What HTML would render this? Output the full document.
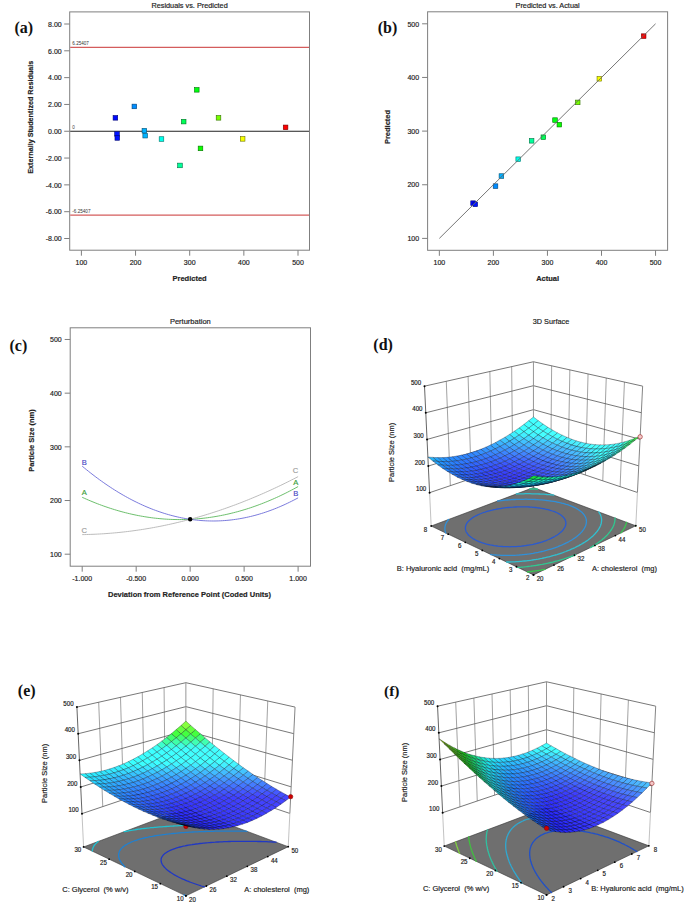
<!DOCTYPE html>
<html><head><meta charset="utf-8"><style>
html,body{margin:0;padding:0;background:#fff;}
body{width:685px;height:904px;overflow:hidden;font-family:"Liberation Sans",sans-serif;}
svg{display:block;}
</style></head><body>
<svg width="685" height="904" viewBox="0 0 685 904">
<rect width="685" height="904" fill="#fff"/>
<text x="189.60" y="8.20" font-size="7.3" text-anchor="middle" fill="#222" font-family="Liberation Sans" stroke="#222" stroke-width="0.18">Residuals vs. Predicted</text>
<rect x="69.70" y="11.90" width="239.80" height="238.30" fill="none" stroke="#7f7f7f" stroke-width="1"/>
<line x1="64.20" y1="24.00" x2="69.70" y2="24.00" stroke="#7f7f7f" stroke-width="1"/>
<text x="61.70" y="26.70" font-size="7.6" text-anchor="end" fill="#1a1a1a" font-family="Liberation Sans" stroke="#1a1a1a" stroke-width="0.18" textLength="13.61" lengthAdjust="spacingAndGlyphs">8.00</text>
<line x1="64.20" y1="50.81" x2="69.70" y2="50.81" stroke="#7f7f7f" stroke-width="1"/>
<text x="61.70" y="53.51" font-size="7.6" text-anchor="end" fill="#1a1a1a" font-family="Liberation Sans" stroke="#1a1a1a" stroke-width="0.18" textLength="13.61" lengthAdjust="spacingAndGlyphs">6.00</text>
<line x1="64.20" y1="77.63" x2="69.70" y2="77.63" stroke="#7f7f7f" stroke-width="1"/>
<text x="61.70" y="80.33" font-size="7.6" text-anchor="end" fill="#1a1a1a" font-family="Liberation Sans" stroke="#1a1a1a" stroke-width="0.18" textLength="13.61" lengthAdjust="spacingAndGlyphs">4.00</text>
<line x1="64.20" y1="104.44" x2="69.70" y2="104.44" stroke="#7f7f7f" stroke-width="1"/>
<text x="61.70" y="107.14" font-size="7.6" text-anchor="end" fill="#1a1a1a" font-family="Liberation Sans" stroke="#1a1a1a" stroke-width="0.18" textLength="13.61" lengthAdjust="spacingAndGlyphs">2.00</text>
<line x1="64.20" y1="131.25" x2="69.70" y2="131.25" stroke="#7f7f7f" stroke-width="1"/>
<text x="61.70" y="133.95" font-size="7.6" text-anchor="end" fill="#1a1a1a" font-family="Liberation Sans" stroke="#1a1a1a" stroke-width="0.18" textLength="13.61" lengthAdjust="spacingAndGlyphs">0.00</text>
<line x1="64.20" y1="158.06" x2="69.70" y2="158.06" stroke="#7f7f7f" stroke-width="1"/>
<text x="61.70" y="160.76" font-size="7.6" text-anchor="end" fill="#1a1a1a" font-family="Liberation Sans" stroke="#1a1a1a" stroke-width="0.18" textLength="15.94" lengthAdjust="spacingAndGlyphs">-2.00</text>
<line x1="64.20" y1="184.87" x2="69.70" y2="184.87" stroke="#7f7f7f" stroke-width="1"/>
<text x="61.70" y="187.57" font-size="7.6" text-anchor="end" fill="#1a1a1a" font-family="Liberation Sans" stroke="#1a1a1a" stroke-width="0.18" textLength="15.94" lengthAdjust="spacingAndGlyphs">-4.00</text>
<line x1="64.20" y1="211.69" x2="69.70" y2="211.69" stroke="#7f7f7f" stroke-width="1"/>
<text x="61.70" y="214.39" font-size="7.6" text-anchor="end" fill="#1a1a1a" font-family="Liberation Sans" stroke="#1a1a1a" stroke-width="0.18" textLength="15.94" lengthAdjust="spacingAndGlyphs">-6.00</text>
<line x1="64.20" y1="238.50" x2="69.70" y2="238.50" stroke="#7f7f7f" stroke-width="1"/>
<text x="61.70" y="241.20" font-size="7.6" text-anchor="end" fill="#1a1a1a" font-family="Liberation Sans" stroke="#1a1a1a" stroke-width="0.18" textLength="15.94" lengthAdjust="spacingAndGlyphs">-8.00</text>
<line x1="81.40" y1="250.20" x2="81.40" y2="255.70" stroke="#7f7f7f" stroke-width="1"/>
<text x="81.40" y="265.10" font-size="7.6" text-anchor="middle" fill="#1a1a1a" font-family="Liberation Sans" stroke="#1a1a1a" stroke-width="0.18" textLength="11.67" lengthAdjust="spacingAndGlyphs">100</text>
<line x1="135.55" y1="250.20" x2="135.55" y2="255.70" stroke="#7f7f7f" stroke-width="1"/>
<text x="135.55" y="265.10" font-size="7.6" text-anchor="middle" fill="#1a1a1a" font-family="Liberation Sans" stroke="#1a1a1a" stroke-width="0.18" textLength="11.67" lengthAdjust="spacingAndGlyphs">200</text>
<line x1="189.70" y1="250.20" x2="189.70" y2="255.70" stroke="#7f7f7f" stroke-width="1"/>
<text x="189.70" y="265.10" font-size="7.6" text-anchor="middle" fill="#1a1a1a" font-family="Liberation Sans" stroke="#1a1a1a" stroke-width="0.18" textLength="11.67" lengthAdjust="spacingAndGlyphs">300</text>
<line x1="243.85" y1="250.20" x2="243.85" y2="255.70" stroke="#7f7f7f" stroke-width="1"/>
<text x="243.85" y="265.10" font-size="7.6" text-anchor="middle" fill="#1a1a1a" font-family="Liberation Sans" stroke="#1a1a1a" stroke-width="0.18" textLength="11.67" lengthAdjust="spacingAndGlyphs">400</text>
<line x1="298.00" y1="250.20" x2="298.00" y2="255.70" stroke="#7f7f7f" stroke-width="1"/>
<text x="298.00" y="265.10" font-size="7.6" text-anchor="middle" fill="#1a1a1a" font-family="Liberation Sans" stroke="#1a1a1a" stroke-width="0.18" textLength="11.67" lengthAdjust="spacingAndGlyphs">500</text>
<text x="189.60" y="281.00" font-size="7.5" text-anchor="middle" font-weight="bold" fill="#222" font-family="Liberation Sans" stroke="#222" stroke-width="0.18">Predicted</text>
<text x="33.50" y="117.20" font-size="7.2" text-anchor="middle" font-weight="bold" fill="#222" font-family="Liberation Sans" stroke="#222" stroke-width="0.18" transform="rotate(-90 33.50 117.20)">Externally Studentized Residuals</text>
<line x1="70.20" y1="47.41" x2="309.00" y2="47.41" stroke="#d45c5c" stroke-width="1.2"/>
<text x="72.30" y="45.11" font-size="4.6" text-anchor="start" fill="#333" font-family="Liberation Sans">6.25407</text>
<line x1="70.20" y1="215.09" x2="309.00" y2="215.09" stroke="#d45c5c" stroke-width="1.2"/>
<text x="72.30" y="212.79" font-size="4.6" text-anchor="start" fill="#333" font-family="Liberation Sans">-6.25407</text>
<line x1="70.20" y1="131.25" x2="309.00" y2="131.25" stroke="#222" stroke-width="1"/>
<text x="72.30" y="128.95" font-size="4.6" text-anchor="start" fill="#444" font-family="Liberation Sans">0</text>
<rect x="113.10" y="115.54" width="4.6" height="4.6" fill="#0009ff" stroke="#000472" stroke-width="0.6"/>
<rect x="114.71" y="131.63" width="4.6" height="4.6" fill="#0013ff" stroke="#000872" stroke-width="0.6"/>
<rect x="114.98" y="135.65" width="4.6" height="4.6" fill="#0010ff" stroke="#000772" stroke-width="0.6"/>
<rect x="132.04" y="104.15" width="4.6" height="4.6" fill="#008dff" stroke="#003f72" stroke-width="0.6"/>
<rect x="142.07" y="128.41" width="4.6" height="4.6" fill="#00b0ff" stroke="#004f72" stroke-width="0.6"/>
<rect x="142.88" y="133.37" width="4.6" height="4.6" fill="#00b3ff" stroke="#005072" stroke-width="0.6"/>
<rect x="159.18" y="136.73" width="4.6" height="4.6" fill="#00ffea" stroke="#007269" stroke-width="0.6"/>
<rect x="177.69" y="163.14" width="4.6" height="4.6" fill="#00ff99" stroke="#007244" stroke-width="0.6"/>
<rect x="181.40" y="119.30" width="4.6" height="4.6" fill="#00ff56" stroke="#007226" stroke-width="0.6"/>
<rect x="194.49" y="87.53" width="4.6" height="4.6" fill="#00ff10" stroke="#007207" stroke-width="0.6"/>
<rect x="198.19" y="146.11" width="4.6" height="4.6" fill="#0cff00" stroke="#057200" stroke-width="0.6"/>
<rect x="216.21" y="115.54" width="4.6" height="4.6" fill="#76ff00" stroke="#357200" stroke-width="0.6"/>
<rect x="240.36" y="136.59" width="4.6" height="4.6" fill="#f6ff00" stroke="#6e7200" stroke-width="0.6"/>
<rect x="283.28" y="125.06" width="4.6" height="4.6" fill="#ff0000" stroke="#720000" stroke-width="0.6"/>
<text x="547.60" y="8.20" font-size="7.3" text-anchor="middle" fill="#222" font-family="Liberation Sans" stroke="#222" stroke-width="0.18">Predicted vs. Actual</text>
<rect x="427.60" y="11.80" width="240.00" height="238.50" fill="none" stroke="#7f7f7f" stroke-width="1"/>
<line x1="422.10" y1="238.40" x2="427.60" y2="238.40" stroke="#7f7f7f" stroke-width="1"/>
<text x="419.10" y="241.10" font-size="7.6" text-anchor="end" fill="#1a1a1a" font-family="Liberation Sans" stroke="#1a1a1a" stroke-width="0.18" textLength="11.67" lengthAdjust="spacingAndGlyphs">100</text>
<line x1="439.35" y1="250.30" x2="439.35" y2="255.80" stroke="#7f7f7f" stroke-width="1"/>
<text x="439.35" y="265.20" font-size="7.6" text-anchor="middle" fill="#1a1a1a" font-family="Liberation Sans" stroke="#1a1a1a" stroke-width="0.18" textLength="11.67" lengthAdjust="spacingAndGlyphs">100</text>
<line x1="422.10" y1="184.75" x2="427.60" y2="184.75" stroke="#7f7f7f" stroke-width="1"/>
<text x="419.10" y="187.45" font-size="7.6" text-anchor="end" fill="#1a1a1a" font-family="Liberation Sans" stroke="#1a1a1a" stroke-width="0.18" textLength="11.67" lengthAdjust="spacingAndGlyphs">200</text>
<line x1="493.40" y1="250.30" x2="493.40" y2="255.80" stroke="#7f7f7f" stroke-width="1"/>
<text x="493.40" y="265.20" font-size="7.6" text-anchor="middle" fill="#1a1a1a" font-family="Liberation Sans" stroke="#1a1a1a" stroke-width="0.18" textLength="11.67" lengthAdjust="spacingAndGlyphs">200</text>
<line x1="422.10" y1="131.10" x2="427.60" y2="131.10" stroke="#7f7f7f" stroke-width="1"/>
<text x="419.10" y="133.80" font-size="7.6" text-anchor="end" fill="#1a1a1a" font-family="Liberation Sans" stroke="#1a1a1a" stroke-width="0.18" textLength="11.67" lengthAdjust="spacingAndGlyphs">300</text>
<line x1="547.45" y1="250.30" x2="547.45" y2="255.80" stroke="#7f7f7f" stroke-width="1"/>
<text x="547.45" y="265.20" font-size="7.6" text-anchor="middle" fill="#1a1a1a" font-family="Liberation Sans" stroke="#1a1a1a" stroke-width="0.18" textLength="11.67" lengthAdjust="spacingAndGlyphs">300</text>
<line x1="422.10" y1="77.45" x2="427.60" y2="77.45" stroke="#7f7f7f" stroke-width="1"/>
<text x="419.10" y="80.15" font-size="7.6" text-anchor="end" fill="#1a1a1a" font-family="Liberation Sans" stroke="#1a1a1a" stroke-width="0.18" textLength="11.67" lengthAdjust="spacingAndGlyphs">400</text>
<line x1="601.50" y1="250.30" x2="601.50" y2="255.80" stroke="#7f7f7f" stroke-width="1"/>
<text x="601.50" y="265.20" font-size="7.6" text-anchor="middle" fill="#1a1a1a" font-family="Liberation Sans" stroke="#1a1a1a" stroke-width="0.18" textLength="11.67" lengthAdjust="spacingAndGlyphs">400</text>
<line x1="422.10" y1="23.80" x2="427.60" y2="23.80" stroke="#7f7f7f" stroke-width="1"/>
<text x="419.10" y="26.50" font-size="7.6" text-anchor="end" fill="#1a1a1a" font-family="Liberation Sans" stroke="#1a1a1a" stroke-width="0.18" textLength="11.67" lengthAdjust="spacingAndGlyphs">500</text>
<line x1="655.55" y1="250.30" x2="655.55" y2="255.80" stroke="#7f7f7f" stroke-width="1"/>
<text x="655.55" y="265.20" font-size="7.6" text-anchor="middle" fill="#1a1a1a" font-family="Liberation Sans" stroke="#1a1a1a" stroke-width="0.18" textLength="11.67" lengthAdjust="spacingAndGlyphs">500</text>
<text x="547.60" y="281.00" font-size="7.5" text-anchor="middle" font-weight="bold" fill="#222" font-family="Liberation Sans" stroke="#222" stroke-width="0.18">Actual</text>
<text x="390.20" y="127.00" font-size="7.5" text-anchor="middle" font-weight="bold" fill="#222" font-family="Liberation Sans" stroke="#222" stroke-width="0.18" transform="rotate(-90 390.20 127.00)">Predicted</text>
<rect x="470.78" y="200.85" width="4.6" height="4.6" fill="#0007ff" stroke="#000372" stroke-width="0.6"/>
<rect x="472.99" y="202.03" width="4.6" height="4.6" fill="#0014ff" stroke="#000972" stroke-width="0.6"/>
<rect x="493.21" y="183.84" width="4.6" height="4.6" fill="#008cff" stroke="#003f72" stroke-width="0.6"/>
<rect x="499.10" y="173.76" width="4.6" height="4.6" fill="#00afff" stroke="#004e72" stroke-width="0.6"/>
<rect x="515.91" y="156.91" width="4.6" height="4.6" fill="#00ffea" stroke="#007269" stroke-width="0.6"/>
<rect x="529.31" y="138.51" width="4.6" height="4.6" fill="#00ff9a" stroke="#007245" stroke-width="0.6"/>
<rect x="541.04" y="134.92" width="4.6" height="4.6" fill="#00ff55" stroke="#007226" stroke-width="0.6"/>
<rect x="552.72" y="117.80" width="4.6" height="4.6" fill="#00ff10" stroke="#007207" stroke-width="0.6"/>
<rect x="557.04" y="122.36" width="4.6" height="4.6" fill="#09ff00" stroke="#047200" stroke-width="0.6"/>
<rect x="575.42" y="100.10" width="4.6" height="4.6" fill="#76ff00" stroke="#357200" stroke-width="0.6"/>
<rect x="597.04" y="76.49" width="4.6" height="4.6" fill="#f6ff00" stroke="#6e7200" stroke-width="0.6"/>
<rect x="641.36" y="33.84" width="4.6" height="4.6" fill="#ff0000" stroke="#720000" stroke-width="0.6"/>
<line x1="439.35" y1="238.40" x2="655.55" y2="23.80" stroke="#666" stroke-width="0.9"/>
<text x="190.35" y="324.00" font-size="7.5" text-anchor="middle" fill="#222" font-family="Liberation Sans" stroke="#222" stroke-width="0.18">Perturbation</text>
<rect x="70.20" y="327.80" width="240.30" height="238.40" fill="none" stroke="#7f7f7f" stroke-width="1"/>
<line x1="64.70" y1="554.20" x2="70.20" y2="554.20" stroke="#7f7f7f" stroke-width="1"/>
<text x="61.70" y="556.90" font-size="7.6" text-anchor="end" fill="#1a1a1a" font-family="Liberation Sans" stroke="#1a1a1a" stroke-width="0.18" textLength="11.67" lengthAdjust="spacingAndGlyphs">100</text>
<line x1="64.70" y1="500.52" x2="70.20" y2="500.52" stroke="#7f7f7f" stroke-width="1"/>
<text x="61.70" y="503.22" font-size="7.6" text-anchor="end" fill="#1a1a1a" font-family="Liberation Sans" stroke="#1a1a1a" stroke-width="0.18" textLength="11.67" lengthAdjust="spacingAndGlyphs">200</text>
<line x1="64.70" y1="446.84" x2="70.20" y2="446.84" stroke="#7f7f7f" stroke-width="1"/>
<text x="61.70" y="449.54" font-size="7.6" text-anchor="end" fill="#1a1a1a" font-family="Liberation Sans" stroke="#1a1a1a" stroke-width="0.18" textLength="11.67" lengthAdjust="spacingAndGlyphs">300</text>
<line x1="64.70" y1="393.16" x2="70.20" y2="393.16" stroke="#7f7f7f" stroke-width="1"/>
<text x="61.70" y="395.86" font-size="7.6" text-anchor="end" fill="#1a1a1a" font-family="Liberation Sans" stroke="#1a1a1a" stroke-width="0.18" textLength="11.67" lengthAdjust="spacingAndGlyphs">400</text>
<line x1="64.70" y1="339.48" x2="70.20" y2="339.48" stroke="#7f7f7f" stroke-width="1"/>
<text x="61.70" y="342.18" font-size="7.6" text-anchor="end" fill="#1a1a1a" font-family="Liberation Sans" stroke="#1a1a1a" stroke-width="0.18" textLength="11.67" lengthAdjust="spacingAndGlyphs">500</text>
<line x1="82.20" y1="566.20" x2="82.20" y2="571.70" stroke="#7f7f7f" stroke-width="1"/>
<text x="82.20" y="581.10" font-size="7.6" text-anchor="middle" fill="#1a1a1a" font-family="Liberation Sans" stroke="#1a1a1a" stroke-width="0.18" textLength="19.83" lengthAdjust="spacingAndGlyphs">-1.000</text>
<line x1="136.18" y1="566.20" x2="136.18" y2="571.70" stroke="#7f7f7f" stroke-width="1"/>
<text x="136.18" y="581.10" font-size="7.6" text-anchor="middle" fill="#1a1a1a" font-family="Liberation Sans" stroke="#1a1a1a" stroke-width="0.18" textLength="19.83" lengthAdjust="spacingAndGlyphs">-0.500</text>
<line x1="190.15" y1="566.20" x2="190.15" y2="571.70" stroke="#7f7f7f" stroke-width="1"/>
<text x="190.15" y="581.10" font-size="7.6" text-anchor="middle" fill="#1a1a1a" font-family="Liberation Sans" stroke="#1a1a1a" stroke-width="0.18" textLength="17.50" lengthAdjust="spacingAndGlyphs">0.000</text>
<line x1="244.12" y1="566.20" x2="244.12" y2="571.70" stroke="#7f7f7f" stroke-width="1"/>
<text x="244.12" y="581.10" font-size="7.6" text-anchor="middle" fill="#1a1a1a" font-family="Liberation Sans" stroke="#1a1a1a" stroke-width="0.18" textLength="17.50" lengthAdjust="spacingAndGlyphs">0.500</text>
<line x1="298.10" y1="566.20" x2="298.10" y2="571.70" stroke="#7f7f7f" stroke-width="1"/>
<text x="298.10" y="581.10" font-size="7.6" text-anchor="middle" fill="#1a1a1a" font-family="Liberation Sans" stroke="#1a1a1a" stroke-width="0.18" textLength="17.50" lengthAdjust="spacingAndGlyphs">1.000</text>
<text x="189.50" y="597.00" font-size="7.5" text-anchor="middle" font-weight="bold" fill="#222" font-family="Liberation Sans" stroke="#222" stroke-width="0.18">Deviation from Reference Point (Coded Units)</text>
<text x="33.60" y="440.60" font-size="7.5" text-anchor="middle" font-weight="bold" fill="#222" font-family="Liberation Sans" stroke="#222" stroke-width="0.18" transform="rotate(-90 33.60 440.60)">Particle Size (nm)</text>
<polyline points="82.20,497.30 84.36,498.28 86.52,499.23 88.68,500.16 90.84,501.07 93.00,501.96 95.15,502.83 97.31,503.68 99.47,504.50 101.63,505.30 103.79,506.08 105.95,506.84 108.11,507.57 110.27,508.29 112.43,508.98 114.59,509.65 116.74,510.30 118.90,510.93 121.06,511.53 123.22,512.11 125.38,512.67 127.54,513.21 129.70,513.73 131.86,514.22 134.02,514.70 136.18,515.15 138.33,515.58 140.49,515.98 142.65,516.37 144.81,516.73 146.97,517.07 149.13,517.39 151.29,517.69 153.45,517.97 155.61,518.22 157.76,518.45 159.92,518.66 162.08,518.85 164.24,519.02 166.40,519.16 168.56,519.29 170.72,519.39 172.88,519.47 175.04,519.52 177.20,519.56 179.36,519.57 181.51,519.56 183.67,519.53 185.83,519.48 187.99,519.40 190.15,519.31 192.31,519.19 194.47,519.05 196.63,518.89 198.79,518.70 200.95,518.50 203.10,518.27 205.26,518.02 207.42,517.75 209.58,517.45 211.74,517.14 213.90,516.80 216.06,516.44 218.22,516.06 220.38,515.66 222.54,515.23 224.69,514.79 226.85,514.32 229.01,513.83 231.17,513.31 233.33,512.78 235.49,512.22 237.65,511.65 239.81,511.05 241.97,510.42 244.12,509.78 246.28,509.11 248.44,508.43 250.60,507.72 252.76,506.99 254.92,506.23 257.08,505.46 259.24,504.66 261.40,503.84 263.56,503.00 265.72,502.14 267.87,501.25 270.03,500.34 272.19,499.42 274.35,498.46 276.51,497.49 278.67,496.50 280.83,495.48 282.99,494.44 285.15,493.38 287.31,492.30 289.46,491.20 291.62,490.07 293.78,488.92 295.94,487.75 298.10,486.56" fill="none" stroke="#5cb85c" stroke-width="0.9"/>
<polyline points="82.20,466.16 84.36,467.96 86.52,469.72 88.68,471.46 90.84,473.16 93.00,474.84 95.15,476.48 97.31,478.10 99.47,479.68 101.63,481.24 103.79,482.76 105.95,484.26 108.11,485.72 110.27,487.16 112.43,488.57 114.59,489.94 116.74,491.29 118.90,492.61 121.06,493.89 123.22,495.15 125.38,496.38 127.54,497.57 129.70,498.74 131.86,499.88 134.02,500.99 136.18,502.06 138.33,503.11 140.49,504.13 142.65,505.12 144.81,506.08 146.97,507.00 149.13,507.90 151.29,508.77 153.45,509.61 155.61,510.42 157.76,511.20 159.92,511.95 162.08,512.67 164.24,513.36 166.40,514.02 168.56,514.65 170.72,515.25 172.88,515.82 175.04,516.36 177.20,516.87 179.36,517.35 181.51,517.80 183.67,518.22 185.83,518.61 187.99,518.98 190.15,519.31 192.31,519.61 194.47,519.88 196.63,520.12 198.79,520.34 200.95,520.52 203.10,520.67 205.26,520.79 207.42,520.89 209.58,520.95 211.74,520.98 213.90,520.99 216.06,520.96 218.22,520.90 220.38,520.82 222.54,520.70 224.69,520.56 226.85,520.38 229.01,520.17 231.17,519.94 233.33,519.67 235.49,519.38 237.65,519.05 239.81,518.70 241.97,518.31 244.12,517.90 246.28,517.45 248.44,516.98 250.60,516.48 252.76,515.94 254.92,515.38 257.08,514.79 259.24,514.16 261.40,513.51 263.56,512.83 265.72,512.11 267.87,511.37 270.03,510.60 272.19,509.79 274.35,508.96 276.51,508.10 278.67,507.21 280.83,506.29 282.99,505.33 285.15,504.35 287.31,503.34 289.46,502.30 291.62,501.23 293.78,500.13 295.94,499.00 298.10,497.84" fill="none" stroke="#6c6cd8" stroke-width="0.9"/>
<polyline points="82.20,534.61 84.36,534.57 86.52,534.52 88.68,534.46 90.84,534.39 93.00,534.31 95.15,534.22 97.31,534.11 99.47,534.00 101.63,533.87 103.79,533.74 105.95,533.59 108.11,533.43 110.27,533.26 112.43,533.08 114.59,532.89 116.74,532.69 118.90,532.48 121.06,532.25 123.22,532.02 125.38,531.77 127.54,531.52 129.70,531.25 131.86,530.97 134.02,530.68 136.18,530.38 138.33,530.07 140.49,529.75 142.65,529.41 144.81,529.07 146.97,528.71 149.13,528.35 151.29,527.97 153.45,527.58 155.61,527.18 157.76,526.77 159.92,526.35 162.08,525.92 164.24,525.48 166.40,525.02 168.56,524.56 170.72,524.08 172.88,523.60 175.04,523.10 177.20,522.59 179.36,522.07 181.51,521.54 183.67,521.00 185.83,520.45 187.99,519.88 190.15,519.31 192.31,518.72 194.47,518.13 196.63,517.52 198.79,516.90 200.95,516.27 203.10,515.63 205.26,514.98 207.42,514.32 209.58,513.65 211.74,512.96 213.90,512.27 216.06,511.56 218.22,510.85 220.38,510.12 222.54,509.38 224.69,508.63 226.85,507.87 229.01,507.10 231.17,506.32 233.33,505.52 235.49,504.72 237.65,503.90 239.81,503.08 241.97,502.24 244.12,501.39 246.28,500.53 248.44,499.66 250.60,498.78 252.76,497.89 254.92,496.99 257.08,496.07 259.24,495.15 261.40,494.21 263.56,493.27 265.72,492.31 267.87,491.34 270.03,490.36 272.19,489.37 274.35,488.37 276.51,487.36 278.67,486.33 280.83,485.30 282.99,484.26 285.15,483.20 287.31,482.13 289.46,481.05 291.62,479.96 293.78,478.87 295.94,477.75 298.10,476.63" fill="none" stroke="#b4b4b4" stroke-width="0.9"/>
<text x="84.20" y="464.70" font-size="8" text-anchor="middle" fill="#4a4ac4" font-family="Liberation Sans" stroke="#4a4ac4" stroke-width="0.18" textLength="5.07" lengthAdjust="spacingAndGlyphs">B</text>
<text x="84.20" y="495.30" font-size="8" text-anchor="middle" fill="#3a9e3a" font-family="Liberation Sans" stroke="#3a9e3a" stroke-width="0.18" textLength="5.07" lengthAdjust="spacingAndGlyphs">A</text>
<text x="84.20" y="532.80" font-size="8" text-anchor="middle" fill="#a0a0a0" font-family="Liberation Sans" stroke="#a0a0a0" stroke-width="0.18" textLength="5.49" lengthAdjust="spacingAndGlyphs">C</text>
<text x="295.60" y="473.40" font-size="8" text-anchor="middle" fill="#a0a0a0" font-family="Liberation Sans" stroke="#a0a0a0" stroke-width="0.18" textLength="5.49" lengthAdjust="spacingAndGlyphs">C</text>
<text x="295.80" y="484.90" font-size="8" text-anchor="middle" fill="#3a9e3a" font-family="Liberation Sans" stroke="#3a9e3a" stroke-width="0.18" textLength="5.07" lengthAdjust="spacingAndGlyphs">A</text>
<text x="295.80" y="495.60" font-size="8" text-anchor="middle" fill="#4a4ac4" font-family="Liberation Sans" stroke="#4a4ac4" stroke-width="0.18" textLength="5.07" lengthAdjust="spacingAndGlyphs">B</text>
<circle cx="190.15" cy="519.31" r="2.2" fill="#000"/>
<polygon points="431.17,526.02 533.45,487.54 533.45,361.75 424.50,386.16" fill="#fff"/>
<polygon points="533.45,487.54 635.81,525.77 642.64,386.12 533.45,361.75" fill="#fff"/>
<line x1="450.35" y1="485.65" x2="446.29" y2="381.28" stroke="#8a8a8a" stroke-width="0.8"/>
<line x1="471.13" y1="478.63" x2="468.08" y2="376.40" stroke="#8a8a8a" stroke-width="0.8"/>
<line x1="491.90" y1="471.60" x2="489.87" y2="371.51" stroke="#8a8a8a" stroke-width="0.8"/>
<line x1="512.68" y1="464.58" x2="511.66" y2="366.63" stroke="#8a8a8a" stroke-width="0.8"/>
<line x1="620.11" y1="486.66" x2="624.44" y2="382.06" stroke="#8a8a8a" stroke-width="0.8"/>
<line x1="602.78" y1="480.84" x2="606.24" y2="378.00" stroke="#8a8a8a" stroke-width="0.8"/>
<line x1="585.45" y1="475.01" x2="588.05" y2="373.94" stroke="#8a8a8a" stroke-width="0.8"/>
<line x1="568.11" y1="469.19" x2="569.85" y2="369.87" stroke="#8a8a8a" stroke-width="0.8"/>
<line x1="550.78" y1="463.37" x2="551.65" y2="365.81" stroke="#8a8a8a" stroke-width="0.8"/>
<polyline points="429.58,492.68 533.45,457.55 637.44,492.48" fill="none" stroke="#555" stroke-width="0.8"/>
<polyline points="428.31,466.05 533.45,433.60 638.74,465.89" fill="none" stroke="#555" stroke-width="0.8"/>
<polyline points="427.04,439.42 533.45,409.65 640.04,439.30" fill="none" stroke="#555" stroke-width="0.8"/>
<polyline points="425.77,412.79 533.45,385.70 641.34,412.71" fill="none" stroke="#555" stroke-width="0.8"/>
<polyline points="424.50,386.16 533.45,361.75 642.64,386.12" fill="none" stroke="#555" stroke-width="0.8"/>
<line x1="533.45" y1="487.54" x2="533.45" y2="361.75" stroke="#8a8a8a" stroke-width="0.9"/>
<line x1="429.58" y1="492.68" x2="424.50" y2="386.16" stroke="#555" stroke-width="0.9"/>
<line x1="431.17" y1="526.02" x2="429.58" y2="492.68" stroke="#bbb" stroke-width="0.9"/>
<line x1="637.44" y1="492.48" x2="642.64" y2="386.12" stroke="#777" stroke-width="0.9"/>
<line x1="635.81" y1="525.77" x2="637.44" y2="492.48" stroke="#bbb" stroke-width="0.9"/>
<polygon points="533.50,574.90 635.81,525.77 533.45,487.54 431.17,526.02" fill="#6f6f6f" stroke="#333" stroke-width="0.6"/>
<path d="M484.8,543.6L483.3,543.1L481.8,542.7L480.3,542.1L478.9,541.6L477.6,541.0L476.3,540.4L475.1,539.8L473.9,539.1L472.8,538.5L471.8,537.8L470.8,537.1L470.7,537.0L469.9,536.3L469.0,535.5L468.2,534.7L468.2,534.7L467.6,533.9L466.9,533.0L466.9,533.0L466.4,532.1L466.1,531.5L466.0,531.2L465.7,530.2L465.7,530.2L465.5,529.2L465.4,529.0L465.4,528.1L465.4,527.9L465.5,527.0L465.5,526.8L465.7,525.8L465.7,525.8L466.0,524.9L466.2,524.6L466.4,524.0L466.9,523.2L466.9,523.2L467.5,522.3L468.0,521.7L468.1,521.6L468.9,520.8L469.6,520.1L469.7,520.0L470.4,519.4L471.3,518.7L472.2,518.0L472.5,517.8L473.2,517.4L474.2,516.8L475.2,516.2L476.3,515.6L477.4,515.1L478.6,514.5L479.8,514.0L481.1,513.5L482.3,513.0L483.7,512.5L485.0,512.1L486.4,511.6L487.9,511.2L489.4,510.8L490.9,510.4L492.4,510.1L492.9,509.9L494.1,509.7L495.7,509.4L497.4,509.0L498.5,508.8L499.1,508.7L500.9,508.5L502.7,508.2L502.9,508.2L504.6,507.9L506.5,507.7L506.8,507.7L508.5,507.5L510.3,507.3L510.6,507.3L512.7,507.2L513.5,507.1L514.9,507.0L516.5,507.0L517.1,506.9L519.3,506.9L519.5,506.9L521.9,506.8L522.0,506.8L524.5,506.9L524.5,506.9L526.9,506.9L527.3,506.9L529.2,507.0L530.2,507.1L531.5,507.2L533.3,507.3L533.6,507.3L535.7,507.5L536.7,507.6L537.6,507.8L539.5,508.0L540.6,508.2L541.4,508.3L543.1,508.6L544.8,508.9L545.4,509.1L546.5,509.3L548.1,509.7L549.6,510.1L551.0,510.5L552.5,511.0L553.8,511.4L555.1,511.9L556.3,512.5L557.5,513.0L558.6,513.6L559.6,514.2L560.6,514.8L561.2,515.3L561.5,515.5L562.3,516.2L563.1,516.9L563.3,517.2L563.8,517.7L564.4,518.5L564.5,518.7L564.9,519.3L565.2,520.1L565.3,520.2L565.6,521.2L565.7,521.3L565.8,522.1L565.8,522.5L565.9,523.2L565.9,523.5L565.8,524.3L565.7,524.6L565.5,525.5L565.5,525.6L565.2,526.5L565.0,526.8L564.7,527.4L564.3,528.2L564.2,528.3L563.6,529.1L563.1,529.9L563.0,530.0L562.3,530.8L561.5,531.6L561.3,531.7L560.7,532.3L559.8,533.1L558.9,533.8L558.4,534.2L557.9,534.5L556.9,535.2L555.9,535.8L554.8,536.5L553.6,537.1L552.4,537.7L551.2,538.3L550.0,538.9L548.7,539.5L547.3,540.0L546.0,540.6L544.6,541.1L543.1,541.6L541.6,542.1L540.1,542.5L539.0,542.9L538.5,543.0L536.9,543.4L535.3,543.8L533.6,544.2L533.3,544.3L531.8,544.6L530.0,544.9L528.8,545.1L528.2,545.2L526.3,545.5L524.8,545.7L524.4,545.8L522.4,546.0L521.3,546.2L520.3,546.3L518.2,546.4L518.1,546.4L516.0,546.6L515.1,546.6L513.7,546.7L512.2,546.7L511.3,546.7L509.5,546.8L508.8,546.7L507.0,546.7L506.2,546.7L504.6,546.6L503.5,546.6L502.2,546.5L500.6,546.4L500.0,546.3L497.9,546.1L497.4,546.0L495.8,545.8L493.9,545.6L493.8,545.5L491.9,545.2L490.1,544.9L489.9,544.8L488.3,544.5L486.6,544.1L484.9,543.6L484.8,543.6" stroke="#2a5ad0" stroke-width="1.3" fill="none" stroke-linecap="round"/>
<path d="M497.6,501.0L497.7,501.0L499.6,500.8L501.5,500.6L501.5,500.6L503.4,500.4L505.1,500.2L505.4,500.2L507.5,500.0L508.6,499.9L509.6,499.8L511.7,499.7L511.8,499.7L513.9,499.5L514.8,499.5L516.1,499.4L517.8,499.4L518.4,499.4L520.6,499.3L520.8,499.3L523.2,499.3L523.3,499.3L525.7,499.2L525.9,499.2L528.3,499.3L528.4,499.3L530.8,499.3L531.0,499.3L533.2,499.4L533.8,499.4L535.4,499.5L536.8,499.6L537.7,499.6L539.8,499.8L539.9,499.8L541.9,499.9L543.2,500.1L544.0,500.1L545.9,500.3L546.9,500.5L547.9,500.6L549.8,500.8L550.8,501.0L551.6,501.1L553.4,501.4L555.1,501.7L555.5,501.7L556.8,502.0L558.5,502.3L560.1,502.7L561.5,503.0L561.6,503.1L563.2,503.4L564.6,503.8L566.1,504.3L567.5,504.7L568.8,505.2L570.1,505.6L571.4,506.1L572.6,506.6L573.8,507.2L574.9,507.7L576.0,508.3L577.1,508.9L577.5,509.1L578.1,509.5L579.0,510.1L579.9,510.7L580.8,511.4L580.8,511.4L581.6,512.1L582.4,512.8L582.7,513.2L583.1,513.5L583.7,514.3L584.0,514.7L584.3,515.1L584.8,515.9L584.9,516.1L585.3,516.8L585.6,517.4L585.7,517.7L586.0,518.6L586.0,518.7L586.2,519.6L586.3,519.8L586.3,520.6L586.4,520.9L586.4,521.6L586.4,522.0L586.3,522.7L586.3,523.1L586.1,523.9L586.1,524.1L585.8,525.0L585.8,525.1L585.5,526.0L585.3,526.4L585.1,526.9L584.6,527.8L584.6,527.8L584.1,528.7L583.7,529.4L583.5,529.6L582.9,530.4L582.5,531.0L582.3,531.3L581.6,532.1L580.8,532.9L580.8,532.9L580.0,533.7L579.2,534.4L578.5,535.0L578.3,535.2L577.4,535.9L576.5,536.7L575.6,537.4L575.1,537.7L574.6,538.1L573.5,538.8L572.5,539.5L571.4,540.2L570.3,540.8L569.1,541.5L568.0,542.1L567.0,542.6L566.8,542.7L565.5,543.3L564.3,543.9L563.0,544.5L561.7,545.1L560.6,545.5L560.3,545.7L559.0,546.2L557.6,546.8L556.2,547.3L554.7,547.8L553.2,548.3L551.7,548.8L550.2,549.3L549.8,549.4L548.6,549.7L547.0,550.2L545.4,550.6L543.8,551.0L543.5,551.1L542.1,551.5L540.4,551.8L538.7,552.2L538.5,552.3L536.9,552.6L535.1,552.9L534.1,553.1L533.2,553.3L531.3,553.6L530.1,553.8L529.4,553.9L527.5,554.1L526.5,554.3L525.5,554.4L523.4,554.6L523.0,554.6L521.3,554.8L519.8,554.9L519.2,555.0L517.0,555.1L516.7,555.2L514.7,555.3L513.8,555.3L512.4,555.4L510.9,555.4L510.1,555.4L508.2,555.4L507.6,555.4L505.6,555.4L505.1,555.4L503.1,555.4L502.5,555.4L500.7,555.3L499.7,555.2L498.3,555.2L496.9,555.1L496.0,555.0L493.9,554.8L493.8,554.8L491.6,554.6L490.8,554.5M448.7,519.4L448.2,520.0L447.6,520.8L447.5,521.0L447.1,521.6L446.6,522.4L446.5,522.4L446.1,523.3L445.9,523.7L445.7,524.2L445.4,525.0L445.4,525.1L445.1,526.1L445.1,526.2L445.0,527.1L444.9,527.4L444.9,528.2L444.9,528.5L444.9,529.3L444.9,529.5L445.0,530.4L445.1,530.6L445.3,531.6L445.3,531.7L445.6,532.6L445.8,533.0" stroke="#3090d8" stroke-width="1.3" fill="none" stroke-linecap="round"/>
<path d="M598.7,511.9L598.7,511.9L599.2,512.7L599.6,513.3L599.8,513.5L600.2,514.4L600.3,514.6L600.6,515.3L600.8,515.9L601.0,516.2L601.2,517.1L601.2,517.1L601.4,518.1L601.4,518.2L601.6,519.1L601.6,519.3L601.6,520.1L601.6,520.4L601.6,521.2L601.5,521.5L601.4,522.4L601.4,522.5L601.2,523.5L601.2,523.5L600.9,524.4L600.8,524.8L600.6,525.4L600.3,526.1L600.2,526.3L599.8,527.3L599.6,527.5L599.3,528.2L598.8,529.0L598.8,529.1L598.2,529.9L597.7,530.6L597.6,530.8L596.9,531.6L596.3,532.3L596.2,532.5L595.5,533.3L594.8,534.1L594.6,534.3L594.0,534.9L593.2,535.7L592.3,536.4L592.3,536.4L591.4,537.2L590.5,538.0L589.6,538.7L589.1,539.1L588.7,539.4L587.7,540.2L586.7,540.9L585.6,541.6L584.6,542.3L584.0,542.6L583.5,542.9L582.4,543.6L581.2,544.3L580.1,544.9L578.9,545.6L577.7,546.2L576.4,546.8L575.2,547.5L573.9,548.1L572.6,548.7L571.3,549.2L570.0,549.8L568.6,550.4L567.2,550.9L565.8,551.5L564.4,552.0L562.9,552.6L562.8,552.6L561.5,553.1L560.0,553.6L558.4,554.1L556.9,554.6L555.3,555.0L554.9,555.1L553.7,555.5L552.1,555.9L550.5,556.4L549.0,556.8L548.8,556.8L547.1,557.2L545.4,557.6L544.0,557.9L543.6,558.0L541.9,558.4L540.1,558.7L539.5,558.8L538.2,559.1L536.4,559.4L535.4,559.6L534.5,559.7L532.6,560.0L531.5,560.2L530.6,560.3L528.6,560.6L527.9,560.6L526.6,560.8L524.6,561.0L524.5,561.0L522.5,561.2L521.3,561.3L520.3,561.4L518.1,561.6L518.1,561.6L515.9,561.7L515.2,561.8L513.6,561.8L512.3,561.9L511.3,561.9L509.5,562.0L508.9,562.0L506.8,562.0L506.5,562.0M553.8,495.1L552.0,494.9L550.2,494.8L550.0,494.7L548.0,494.6L546.8,494.5L545.9,494.4L543.8,494.2L543.5,494.2L541.6,494.1L540.5,494.1L539.4,494.0L537.5,493.9L537.1,493.9L534.8,493.8L534.7,493.8L532.3,493.8L532.0,493.8L529.9,493.7L529.4,493.7L527.3,493.7L526.8,493.7L524.7,493.7L524.3,493.8L522.0,493.8L521.9,493.8L519.5,493.8L519.3,493.9L517.2,493.9L516.4,494.0" stroke="#30c0d0" stroke-width="1.3" fill="none" stroke-linecap="round"/>
<path d="M575.6,554.7L574.3,555.2L572.9,555.8L571.5,556.3L570.0,556.8L568.5,557.4L567.0,557.9L565.5,558.4L565.3,558.4L564.0,558.9L562.4,559.4L560.8,559.8L559.2,560.3L558.5,560.5L557.6,560.8L556.0,561.2L554.3,561.6L552.9,562.0L552.6,562.1L550.9,562.5L549.2,562.9L548.0,563.2L547.4,563.3L545.6,563.7L543.8,564.0L543.5,564.1L542.0,564.4L540.2,564.7L539.3,564.9L538.3,565.0L536.4,565.3L535.4,565.5L534.4,565.6L532.5,565.9L531.8,566.0L530.5,566.2L528.5,566.4L528.2,566.5L526.4,566.7L524.9,566.8L524.3,566.9L522.2,567.1L521.7,567.1L520.0,567.3L518.6,567.4L517.8,567.4M590.4,547.6L591.0,547.2L592.1,546.6L593.3,545.9L594.4,545.2L595.4,544.5L596.5,543.8L597.5,543.1L598.0,542.8L598.6,542.4L599.6,541.6L600.5,540.9L601.5,540.2L602.0,539.7L602.4,539.4L603.3,538.6L604.2,537.9L604.9,537.2L605.0,537.1L605.9,536.3L606.7,535.5L607.1,535.1L607.4,534.7L608.2,533.9L608.8,533.1L608.9,533.0L609.6,532.2L610.2,531.4L610.2,531.4L610.8,530.5L611.4,529.7L611.4,529.6L612.0,528.7L612.3,528.2L612.5,527.8L613.0,526.9L613.1,526.7L613.4,526.0L613.7,525.4L613.8,525.1L614.1,524.1L614.1,524.1L614.4,523.1L614.5,522.8L614.6,522.1L614.8,521.6L614.8,521.1L614.9,520.5L614.9,520.1L615.0,519.4L615.0,519.1L615.0,518.3L615.0,518.0M537.5,489.1L537.1,489.0L534.8,489.0L534.7,489.0L532.2,489.0L532.1,489.0L529.7,489.0" stroke="#30c890" stroke-width="1.3" fill="none" stroke-linecap="round"/>
<path d="M545.1,569.3L545.0,569.4L543.1,569.7L541.2,570.0L541.0,570.1L539.3,570.3L537.4,570.7L537.2,570.7L535.5,570.9L533.5,571.2L533.5,571.2L531.5,571.5L530.0,571.7L529.4,571.7L527.4,572.0M620.9,532.9L621.4,532.4L622.0,531.5L622.2,531.2L622.6,530.6L623.2,529.8L623.3,529.5L623.8,528.9L624.3,528.0L624.3,528.0L624.8,527.1L625.0,526.6L625.2,526.1L625.6,525.2L625.6,525.2L626.0,524.3L626.1,523.8L626.3,523.3L626.5,522.6L626.6,522.3" stroke="#38c850" stroke-width="1.3" fill="none" stroke-linecap="round"/>
<path d="M635.6,525.9L635.7,525.7" stroke="#60d040" stroke-width="1.3" fill="none" stroke-linecap="round"/>
<g stroke="#000010" stroke-width="0.55" stroke-opacity="0.5" stroke-linejoin="round">
<path fill="#42ffff" d="M533.5,424.5L538.3,420.7L533.5,417.0L528.6,420.8Z"/>
<path fill="#42ffff" d="M528.7,428.2L533.5,424.5L528.6,420.8L523.8,424.5Z"/>
<path fill="#44ffff" d="M538.3,428.0L543.1,424.1L538.3,420.7L533.5,424.5Z"/>
<path fill="#41ffff" d="M523.9,431.7L528.7,428.2L523.8,424.5L519.0,428.0Z"/>
<path fill="#43ffff" d="M533.5,431.7L538.3,428.0L533.5,424.5L528.7,428.2Z"/>
<path fill="#45ffff" d="M543.1,431.2L547.9,427.3L543.1,424.1L538.3,428.0Z"/>
<path fill="#40ffff" d="M519.1,435.1L523.9,431.7L519.0,428.0L514.3,431.3Z"/>
<path fill="#43ffff" d="M528.7,435.2L533.5,431.7L528.7,428.2L523.9,431.7Z"/>
<path fill="#45ffff" d="M538.3,434.9L543.1,431.2L538.3,428.0L533.5,431.7Z"/>
<path fill="#47ffff" d="M547.9,434.1L552.7,430.2L547.9,427.3L543.1,431.2Z"/>
<path fill="#3fefff" d="M514.3,438.2L519.1,435.1L514.3,431.3L509.5,434.4Z"/>
<path fill="#42f0ff" d="M523.9,438.6L528.7,435.2L523.9,431.7L519.1,435.1Z"/>
<path fill="#44f5ff" d="M533.5,438.5L538.3,434.9L533.5,431.7L528.7,435.2Z"/>
<path fill="#46ffff" d="M543.1,437.9L547.9,434.1L543.1,431.2L538.3,434.9Z"/>
<path fill="#48ffff" d="M552.7,436.8L557.5,432.9L552.7,430.2L547.9,434.1Z"/>
<path fill="#3ed8ff" d="M509.5,441.2L514.3,438.2L509.5,434.4L504.7,437.4Z"/>
<path fill="#41d6ff" d="M519.1,441.8L523.9,438.6L519.1,435.1L514.3,438.2Z"/>
<path fill="#43d9ff" d="M528.7,441.8L533.5,438.5L528.7,435.2L523.9,438.6Z"/>
<path fill="#45e1ff" d="M538.3,441.5L543.1,437.9L538.3,434.9L533.5,438.5Z"/>
<path fill="#47f0ff" d="M547.8,440.6L552.7,436.8L547.9,434.1L543.1,437.9Z"/>
<path fill="#49ffff" d="M557.4,439.3L562.3,435.3L557.5,432.9L552.7,436.8Z"/>
<path fill="#40c0ff" d="M514.3,444.7L519.1,441.8L514.3,438.2L509.5,441.2Z"/>
<path fill="#3dc4ff" d="M504.8,444.0L509.5,441.2L504.7,437.4L499.9,440.1Z"/>
<path fill="#42c1ff" d="M523.9,445.0L528.7,441.8L523.9,438.6L519.1,441.8Z"/>
<path fill="#44c7ff" d="M533.5,444.9L538.3,441.5L533.5,438.5L528.7,441.8Z"/>
<path fill="#46d1ff" d="M543.0,444.2L547.8,440.6L543.1,437.9L538.3,441.5Z"/>
<path fill="#48e2ff" d="M552.6,443.1L557.4,439.3L552.7,436.8L547.8,440.6Z"/>
<path fill="#49f9ff" d="M562.2,441.4L567.1,437.4L562.3,435.3L557.4,439.3Z"/>
<path fill="#3eb0ff" d="M509.6,447.5L514.3,444.7L509.5,441.2L504.8,444.0Z"/>
<path fill="#3cb4ff" d="M500.0,446.5L504.8,444.0L499.9,440.1L495.2,442.7Z"/>
<path fill="#41afff" d="M519.1,448.1L523.9,445.0L519.1,441.8L514.3,444.7Z"/>
<path fill="#43b3ff" d="M528.7,448.1L533.5,444.9L528.7,441.8L523.9,445.0Z"/>
<path fill="#46baff" d="M538.3,447.6L543.0,444.2L538.3,441.5L533.5,444.9Z"/>
<path fill="#47c6ff" d="M547.8,446.7L552.6,443.1L547.8,440.6L543.0,444.2Z"/>
<path fill="#49d8ff" d="M557.4,445.2L562.2,441.4L557.4,439.3L552.6,443.1Z"/>
<path fill="#4af2ff" d="M567.0,443.3L571.9,439.3L567.1,437.4L562.2,441.4Z"/>
<path fill="#3da2ff" d="M504.8,450.1L509.6,447.5L504.8,444.0L500.0,446.5Z"/>
<path fill="#409fff" d="M514.4,450.9L519.1,448.1L514.3,444.7L509.6,447.5Z"/>
<path fill="#3aa8ff" d="M495.2,448.9L500.0,446.5L495.2,442.7L490.4,445.1Z"/>
<path fill="#42a1ff" d="M523.9,451.1L528.7,448.1L523.9,445.0L519.1,448.1Z"/>
<path fill="#44a6ff" d="M533.5,450.9L538.3,447.6L533.5,444.9L528.7,448.1Z"/>
<path fill="#46b0ff" d="M543.0,450.1L547.8,446.7L543.0,444.2L538.3,447.6Z"/>
<path fill="#48bfff" d="M552.6,448.9L557.4,445.2L552.6,443.1L547.8,446.7Z"/>
<path fill="#49d1ff" d="M562.2,447.2L567.0,443.3L562.2,441.4L557.4,445.2Z"/>
<path fill="#4aeeff" d="M571.8,445.0L576.6,441.0L571.9,439.3L567.0,443.3Z"/>
<path fill="#3c95ff" d="M500.0,452.6L504.8,450.1L500.0,446.5L495.2,448.9Z"/>
<path fill="#3e91ff" d="M509.6,453.5L514.4,450.9L509.6,447.5L504.8,450.1Z"/>
<path fill="#399eff" d="M490.5,451.1L495.2,448.9L490.4,445.1L485.6,447.3Z"/>
<path fill="#4191ff" d="M519.2,453.9L523.9,451.1L519.1,448.1L514.4,450.9Z"/>
<path fill="#4394ff" d="M528.7,453.9L533.5,450.9L528.7,448.1L523.9,451.1Z"/>
<path fill="#459cff" d="M538.3,453.4L543.0,450.1L538.3,447.6L533.5,450.9Z"/>
<path fill="#47a9ff" d="M547.8,452.3L552.6,448.9L547.8,446.7L543.0,450.1Z"/>
<path fill="#48b9ff" d="M557.4,450.8L562.2,447.2L557.4,445.2L552.6,448.9Z"/>
<path fill="#49ceff" d="M567.0,448.8L571.8,445.0L567.0,443.3L562.2,447.2Z"/>
<path fill="#4aedff" d="M576.6,446.4L581.4,442.3L576.6,441.0L571.8,445.0Z"/>
<path fill="#3d85ff" d="M504.8,455.9L509.6,453.5L504.8,450.1L500.0,452.6Z"/>
<path fill="#3a8bff" d="M495.3,454.8L500.0,452.6L495.2,448.9L490.5,451.1Z"/>
<path fill="#4083ff" d="M514.4,456.6L519.2,453.9L514.4,450.9L509.6,453.5Z"/>
<path fill="#3795ff" d="M485.7,453.1L490.5,451.1L485.6,447.3L480.9,449.2Z"/>
<path fill="#4285ff" d="M523.9,456.8L528.7,453.9L523.9,451.1L519.2,453.9Z"/>
<path fill="#448bff" d="M533.5,456.4L538.3,453.4L533.5,450.9L528.7,453.9Z"/>
<path fill="#4695ff" d="M543.0,455.6L547.8,452.3L543.0,450.1L538.3,453.4Z"/>
<path fill="#47a4ff" d="M552.6,454.3L557.4,450.8L552.6,448.9L547.8,452.3Z"/>
<path fill="#49b7ff" d="M562.2,452.5L567.0,448.8L562.2,447.2L557.4,450.8Z"/>
<path fill="#49ceff" d="M571.8,450.2L576.6,446.4L571.8,445.0L567.0,448.8Z"/>
<path fill="#4af0ff" d="M581.4,447.5L586.3,443.4L581.4,442.3L576.6,446.4Z"/>
<path fill="#3b7bff" d="M500.1,458.2L504.8,455.9L500.0,452.6L495.3,454.8Z"/>
<path fill="#3e77ff" d="M509.6,459.0L514.4,456.6L509.6,453.5L504.8,455.9Z"/>
<path fill="#3883ff" d="M490.5,456.8L495.3,454.8L490.5,451.1L485.7,453.1Z"/>
<path fill="#4177ff" d="M519.2,459.4L523.9,456.8L519.2,453.9L514.4,456.6Z"/>
<path fill="#358fff" d="M480.9,454.9L485.7,453.1L480.9,449.2L476.1,451.0Z"/>
<path fill="#437bff" d="M528.7,459.3L533.5,456.4L528.7,453.9L523.9,456.8Z"/>
<path fill="#4583ff" d="M538.3,458.7L543.0,455.6L538.3,453.4L533.5,456.4Z"/>
<path fill="#4690ff" d="M547.8,457.6L552.6,454.3L547.8,452.3L543.0,455.6Z"/>
<path fill="#48a1ff" d="M557.4,456.0L562.2,452.5L557.4,450.8L552.6,454.3Z"/>
<path fill="#49b6ff" d="M567.0,453.9L571.8,450.2L567.0,448.8L562.2,452.5Z"/>
<path fill="#49d0ff" d="M576.6,451.3L581.4,447.5L576.6,446.4L571.8,450.2Z"/>
<path fill="#49f6ff" d="M586.2,448.3L591.1,444.2L586.3,443.4L581.4,447.5Z"/>
<path fill="#3a73ff" d="M495.3,460.2L500.1,458.2L495.3,454.8L490.5,456.8Z"/>
<path fill="#3c6dff" d="M504.9,461.3L509.6,459.0L504.8,455.9L500.1,458.2Z"/>
<path fill="#377dff" d="M485.8,458.6L490.5,456.8L485.7,453.1L480.9,454.9Z"/>
<path fill="#3f6bff" d="M514.4,461.9L519.2,459.4L514.4,456.6L509.6,459.0Z"/>
<path fill="#348aff" d="M476.2,456.5L480.9,454.9L476.1,451.0L471.3,452.6Z"/>
<path fill="#416dff" d="M524.0,462.0L528.7,459.3L523.9,456.8L519.2,459.4Z"/>
<path fill="#4374ff" d="M533.5,461.6L538.3,458.7L533.5,456.4L528.7,459.3Z"/>
<path fill="#457eff" d="M543.0,460.7L547.8,457.6L543.0,455.6L538.3,458.7Z"/>
<path fill="#478dff" d="M552.6,459.3L557.4,456.0L552.6,454.3L547.8,457.6Z"/>
<path fill="#48a1ff" d="M562.2,457.4L567.0,453.9L562.2,452.5L557.4,456.0Z"/>
<path fill="#48b9ff" d="M571.7,455.0L576.6,451.3L571.8,450.2L567.0,453.9Z"/>
<path fill="#49d5ff" d="M581.4,452.2L586.2,448.3L581.4,447.5L576.6,451.3Z"/>
<path fill="#49ffff" d="M591.0,448.8L595.9,444.7L591.1,444.2L586.2,448.3Z"/>
<path fill="#3b66ff" d="M500.1,463.3L504.9,461.3L500.1,458.2L495.3,460.2Z"/>
<path fill="#386dff" d="M490.6,462.0L495.3,460.2L490.5,456.8L485.8,458.6Z"/>
<path fill="#3d62ff" d="M509.7,464.1L514.4,461.9L509.6,459.0L504.9,461.3Z"/>
<path fill="#3579ff" d="M481.0,460.2L485.8,458.6L480.9,454.9L476.2,456.5Z"/>
<path fill="#4062ff" d="M519.2,464.4L524.0,462.0L519.2,459.4L514.4,461.9Z"/>
<path fill="#3287ff" d="M471.4,457.9L476.2,456.5L471.3,452.6L466.5,454.0Z"/>
<path fill="#4266ff" d="M528.7,464.3L533.5,461.6L528.7,459.3L524.0,462.0Z"/>
<path fill="#446fff" d="M538.3,463.6L543.0,460.7L538.3,458.7L533.5,461.6Z"/>
<path fill="#457cff" d="M547.8,462.4L552.6,459.3L547.8,457.6L543.0,460.7Z"/>
<path fill="#468dff" d="M557.4,460.7L562.2,457.4L557.4,456.0L552.6,459.3Z"/>
<path fill="#47a3ff" d="M566.9,458.5L571.7,455.0L567.0,453.9L562.2,457.4Z"/>
<path fill="#48bdff" d="M576.5,455.9L581.4,452.2L576.6,451.3L571.7,455.0Z"/>
<path fill="#48dfff" d="M586.2,452.7L591.0,448.8L586.2,448.3L581.4,452.2Z"/>
<path fill="#48ffff" d="M595.9,449.0L600.7,444.9L595.9,444.7L591.0,448.8Z"/>
<path fill="#3960ff" d="M495.4,465.1L500.1,463.3L495.3,460.2L490.6,462.0Z"/>
<path fill="#3669ff" d="M485.8,463.6L490.6,462.0L485.8,458.6L481.0,460.2Z"/>
<path fill="#3c5aff" d="M504.9,466.2L509.7,464.1L504.9,461.3L500.1,463.3Z"/>
<path fill="#3376ff" d="M476.2,461.6L481.0,460.2L476.2,456.5L471.4,457.9Z"/>
<path fill="#3e59ff" d="M514.4,466.7L519.2,464.4L514.4,461.9L509.7,464.1Z"/>
<path fill="#3086ff" d="M466.6,459.1L471.4,457.9L466.5,454.0L461.7,455.1Z"/>
<path fill="#405bff" d="M524.0,466.7L528.7,464.3L524.0,462.0L519.2,464.4Z"/>
<path fill="#4262ff" d="M533.5,466.3L538.3,463.6L533.5,461.6L528.7,464.3Z"/>
<path fill="#446dff" d="M543.0,465.3L547.8,462.4L543.0,460.7L538.3,463.6Z"/>
<path fill="#457cff" d="M552.6,463.8L557.4,460.7L552.6,459.3L547.8,462.4Z"/>
<path fill="#4690ff" d="M562.1,461.8L566.9,458.5L562.2,457.4L557.4,460.7Z"/>
<path fill="#47a8ff" d="M571.7,459.4L576.5,455.9L571.7,455.0L566.9,458.5Z"/>
<path fill="#47c5ff" d="M581.4,456.4L586.2,452.7L581.4,452.2L576.5,455.9Z"/>
<path fill="#47ebff" d="M591.0,452.9L595.9,449.0L591.0,448.8L586.2,452.7Z"/>
<path fill="#47ffff" d="M600.7,449.0L605.6,444.9L600.7,444.9L595.9,449.0Z"/>
<path fill="#375cff" d="M490.6,466.8L495.4,465.1L490.6,462.0L485.8,463.6Z"/>
<path fill="#3a55ff" d="M500.1,468.0L504.9,466.2L500.1,463.3L495.4,465.1Z"/>
<path fill="#3467ff" d="M481.0,465.0L485.8,463.6L481.0,460.2L476.2,461.6Z"/>
<path fill="#3c51ff" d="M509.7,468.8L514.4,466.7L509.7,464.1L504.9,466.2Z"/>
<path fill="#3175ff" d="M471.4,462.8L476.2,461.6L471.4,457.9L466.6,459.1Z"/>
<path fill="#3e52ff" d="M519.2,469.0L524.0,466.7L519.2,464.4L514.4,466.7Z"/>
<path fill="#2e87ff" d="M461.8,460.0L466.6,459.1L461.7,455.1L456.9,456.0Z"/>
<path fill="#4157ff" d="M528.7,468.8L533.5,466.3L528.7,464.3L524.0,466.7Z"/>
<path fill="#4260ff" d="M538.3,468.0L543.0,465.3L538.3,463.6L533.5,466.3Z"/>
<path fill="#446dff" d="M547.8,466.7L552.6,463.8L547.8,462.4L543.0,465.3Z"/>
<path fill="#457fff" d="M557.3,465.0L562.1,461.8L557.4,460.7L552.6,463.8Z"/>
<path fill="#4595ff" d="M566.9,462.7L571.7,459.4L566.9,458.5L562.1,461.8Z"/>
<path fill="#46afff" d="M576.5,459.9L581.4,456.4L576.5,455.9L571.7,459.4Z"/>
<path fill="#46ceff" d="M586.2,456.7L591.0,452.9L586.2,452.7L581.4,456.4Z"/>
<path fill="#46fbff" d="M595.9,452.9L600.7,449.0L595.9,449.0L591.0,452.9Z"/>
<path fill="#45ffff" d="M605.6,448.6L610.5,444.5L605.6,444.9L600.7,449.0Z"/>
<path fill="#3851ff" d="M495.4,469.7L500.1,468.0L495.4,465.1L490.6,466.8Z"/>
<path fill="#355aff" d="M485.8,468.2L490.6,466.8L485.8,463.6L481.0,465.0Z"/>
<path fill="#3a4cff" d="M504.9,470.6L509.7,468.8L504.9,466.2L500.1,468.0Z"/>
<path fill="#3267ff" d="M476.3,466.2L481.0,465.0L476.2,461.6L471.4,462.8Z"/>
<path fill="#2f76ff" d="M466.6,463.7L471.4,462.8L466.6,459.1L461.8,460.0Z"/>
<path fill="#3d4bff" d="M514.4,471.1L519.2,469.0L514.4,466.7L509.7,468.8Z"/>
<path fill="#2c89ff" d="M457.0,460.8L461.8,460.0L456.9,456.0L452.1,456.8Z"/>
<path fill="#3f4eff" d="M524.0,471.0L528.7,468.8L524.0,466.7L519.2,469.0Z"/>
<path fill="#4155ff" d="M533.5,470.5L538.3,468.0L533.5,466.3L528.7,468.8Z"/>
<path fill="#4260ff" d="M543.0,469.4L547.8,466.7L543.0,465.3L538.3,468.0Z"/>
<path fill="#4370ff" d="M552.6,467.9L557.3,465.0L552.6,463.8L547.8,466.7Z"/>
<path fill="#4484ff" d="M562.1,465.8L566.9,462.7L562.1,461.8L557.3,465.0Z"/>
<path fill="#459cff" d="M571.7,463.3L576.5,459.9L571.7,459.4L566.9,462.7Z"/>
<path fill="#45b9ff" d="M581.3,460.2L586.2,456.7L581.4,456.4L576.5,459.9Z"/>
<path fill="#45deff" d="M591.0,456.6L595.9,452.9L591.0,452.9L586.2,456.7Z"/>
<path fill="#44ffff" d="M600.7,452.5L605.6,448.6L600.7,449.0L595.9,452.9Z"/>
<path fill="#364fff" d="M490.6,471.1L495.4,469.7L490.6,466.8L485.8,468.2Z"/>
<path fill="#335aff" d="M481.1,469.4L485.8,468.2L481.0,465.0L476.3,466.2Z"/>
<path fill="#44ffff" d="M610.5,448.0L615.4,443.9L610.5,444.5L605.6,448.6Z"/>
<path fill="#3849ff" d="M500.2,472.3L504.9,470.6L500.1,468.0L495.4,469.7Z"/>
<path fill="#3068ff" d="M471.5,467.2L476.3,466.2L471.4,462.8L466.6,463.7Z"/>
<path fill="#3b46ff" d="M509.7,472.9L514.4,471.1L509.7,468.8L504.9,470.6Z"/>
<path fill="#2d79ff" d="M461.8,464.5L466.6,463.7L461.8,460.0L457.0,460.8Z"/>
<path fill="#3d47ff" d="M519.2,473.1L524.0,471.0L519.2,469.0L514.4,471.1Z"/>
<path fill="#2a8dff" d="M452.2,461.3L457.0,460.8L452.1,456.8L447.3,457.3Z"/>
<path fill="#3f4cff" d="M528.7,472.8L533.5,470.5L528.7,468.8L524.0,471.0Z"/>
<path fill="#4055ff" d="M538.3,471.9L543.0,469.4L538.3,468.0L533.5,470.5Z"/>
<path fill="#4263ff" d="M547.8,470.6L552.6,467.9L547.8,466.7L543.0,469.4Z"/>
<path fill="#4375ff" d="M557.3,468.7L562.1,465.8L557.3,465.0L552.6,467.9Z"/>
<path fill="#438cff" d="M566.9,466.4L571.7,463.3L566.9,462.7L562.1,465.8Z"/>
<path fill="#44a6ff" d="M576.5,463.5L581.3,460.2L576.5,459.9L571.7,463.3Z"/>
<path fill="#44c5ff" d="M586.2,460.1L591.0,456.6L586.2,456.7L581.3,460.2Z"/>
<path fill="#43f1ff" d="M595.9,456.3L600.7,452.5L595.9,452.9L591.0,456.6Z"/>
<path fill="#43ffff" d="M605.6,451.9L610.5,448.0L605.6,448.6L600.7,452.5Z"/>
<path fill="#334fff" d="M485.8,472.3L490.6,471.1L485.8,468.2L481.1,469.4Z"/>
<path fill="#3647ff" d="M495.4,473.7L500.2,472.3L495.4,469.7L490.6,471.1Z"/>
<path fill="#315bff" d="M476.3,470.4L481.1,469.4L476.3,466.2L471.5,467.2Z"/>
<path fill="#3942ff" d="M504.9,474.6L509.7,472.9L504.9,470.6L500.2,472.3Z"/>
<path fill="#2e6bff" d="M466.7,467.9L471.5,467.2L466.6,463.7L461.8,464.5Z"/>
<path fill="#3b42ff" d="M514.5,475.0L519.2,473.1L514.4,471.1L509.7,472.9Z"/>
<path fill="#2b7dff" d="M457.0,465.0L461.8,464.5L457.0,460.8L452.2,461.3Z"/>
<path fill="#2892ff" d="M447.4,461.6L452.2,461.3L447.3,457.3L442.5,457.6Z"/>
<path fill="#3d45ff" d="M524.0,474.9L528.7,472.8L524.0,471.0L519.2,473.1Z"/>
<path fill="#42ffff" d="M615.4,447.0L620.3,442.9L615.4,443.9L610.5,448.0Z"/>
<path fill="#3f4cff" d="M533.5,474.2L538.3,471.9L533.5,470.5L528.7,472.8Z"/>
<path fill="#4058ff" d="M543.0,473.1L547.8,470.6L543.0,469.4L538.3,471.9Z"/>
<path fill="#4168ff" d="M552.6,471.5L557.3,468.7L552.6,467.9L547.8,470.6Z"/>
<path fill="#427dff" d="M562.1,469.3L566.9,466.4L562.1,465.8L557.3,468.7Z"/>
<path fill="#4296ff" d="M571.7,466.6L576.5,463.5L571.7,463.3L566.9,466.4Z"/>
<path fill="#42b3ff" d="M581.3,463.5L586.2,460.1L581.3,460.2L576.5,463.5Z"/>
<path fill="#42d7ff" d="M591.0,459.8L595.9,456.3L591.0,456.6L586.2,460.1Z"/>
<path fill="#42ffff" d="M600.7,455.6L605.6,451.9L600.7,452.5L595.9,456.3Z"/>
<path fill="#3151ff" d="M481.1,473.3L485.8,472.3L481.1,469.4L476.3,470.4Z"/>
<path fill="#3447ff" d="M490.6,474.9L495.4,473.7L490.6,471.1L485.8,472.3Z"/>
<path fill="#2e5fff" d="M471.5,471.1L476.3,470.4L471.5,467.2L466.7,467.9Z"/>
<path fill="#3641ff" d="M500.2,476.0L504.9,474.6L500.2,472.3L495.4,473.7Z"/>
<path fill="#2c6fff" d="M461.9,468.5L466.7,467.9L461.8,464.5L457.0,465.0Z"/>
<path fill="#393fff" d="M509.7,476.6L514.5,475.0L509.7,472.9L504.9,474.6Z"/>
<path fill="#2983ff" d="M452.2,465.3L457.0,465.0L452.2,461.3L447.4,461.6Z"/>
<path fill="#41ffff" d="M610.5,450.9L615.4,447.0L610.5,448.0L605.6,451.9Z"/>
<path fill="#3b40ff" d="M519.2,476.7L524.0,474.9L519.2,473.1L514.5,475.0Z"/>
<path fill="#269aff" d="M442.5,461.6L447.4,461.6L442.5,457.6L437.6,457.6Z"/>
<path fill="#3d46ff" d="M528.7,476.3L533.5,474.2L528.7,472.8L524.0,474.9Z"/>
<path fill="#3e50ff" d="M538.3,475.4L543.0,473.1L538.3,471.9L533.5,474.2Z"/>
<path fill="#40ffff" d="M620.3,445.8L625.2,441.7L620.3,442.9L615.4,447.0Z"/>
<path fill="#3f5eff" d="M547.8,474.0L552.6,471.5L547.8,470.6L543.0,473.1Z"/>
<path fill="#4070ff" d="M557.3,472.0L562.1,469.3L557.3,468.7L552.6,471.5Z"/>
<path fill="#4187ff" d="M566.9,469.6L571.7,466.6L566.9,466.4L562.1,469.3Z"/>
<path fill="#41a2ff" d="M576.5,466.6L581.3,463.5L576.5,463.5L571.7,466.6Z"/>
<path fill="#41c1ff" d="M586.2,463.1L591.0,459.8L586.2,460.1L581.3,463.5Z"/>
<path fill="#41edff" d="M595.9,459.2L600.7,455.6L595.9,456.3L591.0,459.8Z"/>
<path fill="#3249ff" d="M485.9,475.9L490.6,474.9L485.8,472.3L481.1,473.3Z"/>
<path fill="#2f55ff" d="M476.3,474.0L481.1,473.3L476.3,470.4L471.5,471.1Z"/>
<path fill="#3442ff" d="M495.4,477.2L500.2,476.0L495.4,473.7L490.6,474.9Z"/>
<path fill="#2c64ff" d="M466.7,471.6L471.5,471.1L466.7,467.9L461.9,468.5Z"/>
<path fill="#40ffff" d="M605.6,454.7L610.5,450.9L605.6,451.9L600.7,455.6Z"/>
<path fill="#373dff" d="M504.9,478.1L509.7,476.6L504.9,474.6L500.2,476.0Z"/>
<path fill="#2975ff" d="M457.1,468.8L461.9,468.5L457.0,465.0L452.2,465.3Z"/>
<path fill="#393dff" d="M514.5,478.4L519.2,476.7L514.5,475.0L509.7,476.6Z"/>
<path fill="#278aff" d="M447.4,465.4L452.2,465.3L447.4,461.6L442.5,461.6Z"/>
<path fill="#24a5fd" d="M437.7,461.4L442.5,461.6L437.6,457.6L432.8,457.4Z"/>
<path fill="#3b41ff" d="M524.0,478.2L528.7,476.3L524.0,474.9L519.2,476.7Z"/>
<path fill="#3fffff" d="M615.4,449.7L620.3,445.8L615.4,447.0L610.5,450.9Z"/>
<path fill="#3c49ff" d="M533.5,477.5L538.3,475.4L533.5,474.2L528.7,476.3Z"/>
<path fill="#3d55ff" d="M543.0,476.3L547.8,474.0L543.0,473.1L538.3,475.4Z"/>
<path fill="#3effc3" d="M625.3,444.2L630.2,440.1L625.2,441.7L620.3,445.8Z"/>
<path fill="#3e66ff" d="M552.6,474.6L557.3,472.0L552.6,471.5L547.8,474.0Z"/>
<path fill="#3f7aff" d="M562.1,472.3L566.9,469.6L562.1,469.3L557.3,472.0Z"/>
<path fill="#3f93ff" d="M571.7,469.5L576.5,466.6L571.7,466.6L566.9,469.6Z"/>
<path fill="#3fb1ff" d="M581.4,466.3L586.2,463.1L581.3,463.5L576.5,466.6Z"/>
<path fill="#3fd6ff" d="M591.0,462.5L595.9,459.2L591.0,459.8L586.2,463.1Z"/>
<path fill="#3fffff" d="M600.7,458.2L605.6,454.7L600.7,455.6L595.9,459.2Z"/>
<path fill="#2f4dff" d="M481.1,476.6L485.9,475.9L481.1,473.3L476.3,474.0Z"/>
<path fill="#2d5aff" d="M471.5,474.6L476.3,474.0L471.5,471.1L466.7,471.6Z"/>
<path fill="#3244ff" d="M490.6,478.2L495.4,477.2L490.6,474.9L485.9,475.9Z"/>
<path fill="#2a6aff" d="M461.9,471.9L466.7,471.6L461.9,468.5L457.1,468.8Z"/>
<path fill="#343eff" d="M500.2,479.3L504.9,478.1L500.2,476.0L495.4,477.2Z"/>
<path fill="#277dff" d="M452.2,468.8L457.1,468.8L452.2,465.3L447.4,465.4Z"/>
<path fill="#363cff" d="M509.7,479.8L514.5,478.4L509.7,476.6L504.9,478.1Z"/>
<path fill="#2492ff" d="M442.5,465.2L447.4,465.4L442.5,461.6L437.7,461.4Z"/>
<path fill="#383eff" d="M519.2,479.9L524.0,478.2L519.2,476.7L514.5,478.4Z"/>
<path fill="#22b2f7" d="M432.8,461.0L437.7,461.4L432.8,457.4L427.9,457.0Z"/>
<path fill="#3effff" d="M610.5,453.4L615.4,449.7L610.5,450.9L605.6,454.7Z"/>
<path fill="#3a44ff" d="M528.7,479.4L533.5,477.5L528.7,476.3L524.0,478.2Z"/>
<path fill="#3b4fff" d="M538.3,478.4L543.0,476.3L538.3,475.4L533.5,477.5Z"/>
<path fill="#3dffee" d="M620.3,448.1L625.3,444.2L620.3,445.8L615.4,449.7Z"/>
<path fill="#3d5dff" d="M547.8,476.9L552.6,474.6L547.8,474.0L543.0,476.3Z"/>
<path fill="#3d70ff" d="M557.4,474.8L562.1,472.3L557.3,472.0L552.6,474.6Z"/>
<path fill="#3cff83" d="M630.2,442.3L635.2,438.2L630.2,440.1L625.3,444.2Z"/>
<path fill="#3e87ff" d="M566.9,472.3L571.7,469.5L566.9,469.6L562.1,472.3Z"/>
<path fill="#3ea2ff" d="M576.6,469.2L581.4,466.3L576.5,466.6L571.7,469.5Z"/>
<path fill="#3ec2ff" d="M586.2,465.6L591.0,462.5L586.2,463.1L581.4,466.3Z"/>
<path fill="#3eefff" d="M595.9,461.5L600.7,458.2L595.9,459.2L591.0,462.5Z"/>
<path fill="#2d52ff" d="M476.3,477.2L481.1,476.6L476.3,474.0L471.5,474.6Z"/>
<path fill="#3048ff" d="M485.8,479.0L490.6,478.2L485.9,475.9L481.1,476.6Z"/>
<path fill="#2a60ff" d="M466.7,474.9L471.5,474.6L466.7,471.6L461.9,471.9Z"/>
<path fill="#3240ff" d="M495.4,480.3L500.2,479.3L495.4,477.2L490.6,478.2Z"/>
<path fill="#2872ff" d="M457.0,472.0L461.9,471.9L457.1,468.8L452.2,468.8Z"/>
<path fill="#343dff" d="M504.9,481.1L509.7,479.8L504.9,478.1L500.2,479.3Z"/>
<path fill="#2585ff" d="M447.4,468.7L452.2,468.8L447.4,465.4L442.5,465.2Z"/>
<path fill="#363dff" d="M514.5,481.3L519.2,479.9L514.5,478.4L509.7,479.8Z"/>
<path fill="#22a0f8" d="M437.7,464.8L442.5,465.2L437.7,461.4L432.8,461.0Z"/>
<path fill="#3dffff" d="M605.6,456.9L610.5,453.4L605.6,454.7L600.7,458.2Z"/>
<path fill="#3842ff" d="M524.0,481.0L528.7,479.4L524.0,478.2L519.2,479.9Z"/>
<path fill="#394aff" d="M533.5,480.3L538.3,478.4L533.5,477.5L528.7,479.4Z"/>
<path fill="#3cffff" d="M615.4,451.8L620.3,448.1L615.4,449.7L610.5,453.4Z"/>
<path fill="#3b57ff" d="M543.0,478.9L547.8,476.9L543.0,476.3L538.3,478.4Z"/>
<path fill="#3b68ff" d="M552.6,477.1L557.4,474.8L552.6,474.6L547.8,476.9Z"/>
<path fill="#3bffad" d="M625.3,446.2L630.2,442.3L625.3,444.2L620.3,448.1Z"/>
<path fill="#3c7dff" d="M562.2,474.8L566.9,472.3L562.1,472.3L557.4,474.8Z"/>
<path fill="#3aff3e" d="M635.2,440.1L640.2,436.0L635.2,438.2L630.2,442.3Z"/>
<path fill="#3c96ff" d="M571.8,471.9L576.6,469.2L571.7,469.5L566.9,472.3Z"/>
<path fill="#3cb3ff" d="M581.4,468.5L586.2,465.6L581.4,466.3L576.6,469.2Z"/>
<path fill="#3cdbff" d="M591.1,464.6L595.9,461.5L591.0,462.5L586.2,465.6Z"/>
<path fill="#2b59ff" d="M471.5,477.5L476.3,477.2L471.5,474.6L466.7,474.9Z"/>
<path fill="#2d4dff" d="M481.1,479.5L485.8,479.0L481.1,476.6L476.3,477.2Z"/>
<path fill="#2868ff" d="M461.9,474.9L466.7,474.9L461.9,471.9L457.0,472.0Z"/>
<path fill="#3045ff" d="M490.6,481.0L495.4,480.3L490.6,478.2L485.8,479.0Z"/>
<path fill="#257bff" d="M452.2,471.8L457.0,472.0L452.2,468.8L447.4,468.7Z"/>
<path fill="#3240ff" d="M500.2,482.0L504.9,481.1L500.2,479.3L495.4,480.3Z"/>
<path fill="#3cffff" d="M600.8,460.2L605.6,456.9L600.7,458.2L595.9,461.5Z"/>
<path fill="#238ffa" d="M442.5,468.3L447.4,468.7L442.5,465.2L437.7,464.8Z"/>
<path fill="#343eff" d="M509.7,482.5L514.5,481.3L509.7,479.8L504.9,481.1Z"/>
<path fill="#3641ff" d="M519.2,482.5L524.0,481.0L519.2,479.9L514.5,481.3Z"/>
<path fill="#3747ff" d="M528.7,481.9L533.5,480.3L528.7,479.4L524.0,481.0Z"/>
<path fill="#3bffff" d="M610.6,455.3L615.4,451.8L610.5,453.4L605.6,456.9Z"/>
<path fill="#3952ff" d="M538.3,480.8L543.0,478.9L538.3,478.4L533.5,480.3Z"/>
<path fill="#3affd2" d="M620.4,449.9L625.3,446.2L620.3,448.1L615.4,451.8Z"/>
<path fill="#3961ff" d="M547.8,479.2L552.6,477.1L547.8,476.9L543.0,478.9Z"/>
<path fill="#3a74ff" d="M557.4,477.1L562.2,474.8L557.4,474.8L552.6,477.1Z"/>
<path fill="#39ff68" d="M630.3,444.0L635.2,440.1L630.2,442.3L625.3,446.2Z"/>
<path fill="#3b8bff" d="M567.0,474.4L571.8,471.9L566.9,472.3L562.2,474.8Z"/>
<path fill="#3ba7ff" d="M576.6,471.3L581.4,468.5L576.6,469.2L571.8,471.9Z"/>
<path fill="#3bc9ff" d="M586.2,467.6L591.1,464.6L586.2,465.6L581.4,468.5Z"/>
<path fill="#2b54ff" d="M476.3,479.8L481.1,479.5L476.3,477.2L471.5,477.5Z"/>
<path fill="#2862ff" d="M466.7,477.5L471.5,477.5L466.7,474.9L461.9,474.9Z"/>
<path fill="#2d4aff" d="M485.8,481.6L490.6,481.0L485.8,479.0L481.1,479.5Z"/>
<path fill="#3af7ff" d="M595.9,463.4L600.8,460.2L595.9,461.5L591.1,464.6Z"/>
<path fill="#2672ff" d="M457.0,474.8L461.9,474.9L457.0,472.0L452.2,471.8Z"/>
<path fill="#3044ff" d="M495.4,482.8L500.2,482.0L495.4,480.3L490.6,481.0Z"/>
<path fill="#2385fb" d="M447.4,471.4L452.2,471.8L447.4,468.7L442.5,468.3Z"/>
<path fill="#3241ff" d="M504.9,483.5L509.7,482.5L504.9,481.1L500.2,482.0Z"/>
<path fill="#3342ff" d="M514.4,483.7L519.2,482.5L514.5,481.3L509.7,482.5Z"/>
<path fill="#3affff" d="M605.7,458.6L610.6,455.3L605.6,456.9L600.8,460.2Z"/>
<path fill="#3547ff" d="M524.0,483.3L528.7,481.9L524.0,481.0L519.2,482.5Z"/>
<path fill="#3650ff" d="M533.5,482.5L538.3,480.8L533.5,480.3L528.7,481.9Z"/>
<path fill="#39fff3" d="M615.5,453.4L620.4,449.9L615.4,451.8L610.6,455.3Z"/>
<path fill="#375dff" d="M543.0,481.1L547.8,479.2L543.0,478.9L538.3,480.8Z"/>
<path fill="#386eff" d="M552.6,479.2L557.4,477.1L552.6,477.1L547.8,479.2Z"/>
<path fill="#38ff8d" d="M625.4,447.7L630.3,444.0L625.3,446.2L620.4,449.9Z"/>
<path fill="#3983ff" d="M562.2,476.7L567.0,474.4L562.2,474.8L557.4,477.1Z"/>
<path fill="#399cff" d="M571.8,473.8L576.6,471.3L571.8,471.9L567.0,474.4Z"/>
<path fill="#39baff" d="M581.4,470.3L586.2,467.6L581.4,468.5L576.6,471.3Z"/>
<path fill="#39e5ff" d="M591.1,466.3L595.9,463.4L591.1,464.6L586.2,467.6Z"/>
<path fill="#295dff" d="M471.4,479.9L476.3,479.8L471.5,477.5L466.7,477.5Z"/>
<path fill="#266bff" d="M461.8,477.4L466.7,477.5L461.9,474.9L457.0,474.8Z"/>
<path fill="#2b51ff" d="M481.0,481.9L485.8,481.6L481.1,479.5L476.3,479.8Z"/>
<path fill="#247cfc" d="M452.2,474.3L457.0,474.8L452.2,471.8L447.4,471.4Z"/>
<path fill="#2d4aff" d="M490.6,483.3L495.4,482.8L490.6,481.0L485.8,481.6Z"/>
<path fill="#2f45ff" d="M500.1,484.3L504.9,483.5L500.2,482.0L495.4,482.8Z"/>
<path fill="#3145ff" d="M509.7,484.7L514.4,483.7L509.7,482.5L504.9,483.5Z"/>
<path fill="#38ffff" d="M600.8,461.8L605.7,458.6L600.8,460.2L595.9,463.4Z"/>
<path fill="#3348ff" d="M519.2,484.5L524.0,483.3L519.2,482.5L514.4,483.7Z"/>
<path fill="#344fff" d="M528.7,483.9L533.5,482.5L528.7,481.9L524.0,483.3Z"/>
<path fill="#38ffff" d="M610.6,456.7L615.5,453.4L610.6,455.3L605.7,458.6Z"/>
<path fill="#355aff" d="M538.3,482.7L543.0,481.1L538.3,480.8L533.5,482.5Z"/>
<path fill="#3669ff" d="M547.8,481.0L552.6,479.2L547.8,479.2L543.0,481.1Z"/>
<path fill="#37ffae" d="M620.5,451.2L625.4,447.7L620.4,449.9L615.5,453.4Z"/>
<path fill="#377dff" d="M557.4,478.8L562.2,476.7L557.4,477.1L552.6,479.2Z"/>
<path fill="#3794ff" d="M567.0,476.0L571.8,473.8L567.0,474.4L562.2,476.7Z"/>
<path fill="#37afff" d="M576.6,472.8L581.4,470.3L576.6,471.3L571.8,473.8Z"/>
<path fill="#37d6ff" d="M586.3,469.0L591.1,466.3L586.2,467.6L581.4,470.3Z"/>
<path fill="#2666ff" d="M466.6,479.7L471.4,479.9L466.7,477.5L461.8,477.4Z"/>
<path fill="#295aff" d="M476.2,481.9L481.0,481.9L476.3,479.8L471.4,479.9Z"/>
<path fill="#2476fd" d="M457.0,477.0L461.8,477.4L457.0,474.8L452.2,474.3Z"/>
<path fill="#2b51ff" d="M485.8,483.6L490.6,483.3L485.8,481.6L481.0,481.9Z"/>
<path fill="#2d4bff" d="M495.4,484.8L500.1,484.3L495.4,482.8L490.6,483.3Z"/>
<path fill="#37ffff" d="M596.0,464.7L600.8,461.8L595.9,463.4L591.1,466.3Z"/>
<path fill="#2f49ff" d="M504.9,485.4L509.7,484.7L504.9,483.5L500.1,484.3Z"/>
<path fill="#304aff" d="M514.4,485.5L519.2,484.5L514.4,483.7L509.7,484.7Z"/>
<path fill="#3250ff" d="M524.0,485.1L528.7,483.9L524.0,483.3L519.2,484.5Z"/>
<path fill="#36ffff" d="M605.8,459.8L610.6,456.7L605.7,458.6L600.8,461.8Z"/>
<path fill="#3359ff" d="M533.5,484.1L538.3,482.7L533.5,482.5L528.7,483.9Z"/>
<path fill="#36ffc9" d="M615.6,454.5L620.5,451.2L615.5,453.4L610.6,456.7Z"/>
<path fill="#3467ff" d="M543.1,482.7L547.8,481.0L543.0,481.1L538.3,482.7Z"/>
<path fill="#3578ff" d="M552.6,480.7L557.4,478.8L552.6,479.2L547.8,481.0Z"/>
<path fill="#358eff" d="M562.2,478.1L567.0,476.0L562.2,476.7L557.4,478.8Z"/>
<path fill="#36a7ff" d="M571.8,475.0L576.6,472.8L571.8,473.8L567.0,476.0Z"/>
<path fill="#36caff" d="M581.5,471.5L586.3,469.0L581.4,470.3L576.6,472.8Z"/>
<path fill="#2471fd" d="M461.8,479.3L466.6,479.7L461.8,477.4L457.0,477.0Z"/>
<path fill="#2664ff" d="M471.4,481.7L476.2,481.9L471.4,479.9L466.6,479.7Z"/>
<path fill="#285aff" d="M481.0,483.7L485.8,483.6L481.0,481.9L476.2,481.9Z"/>
<path fill="#35f5ff" d="M591.2,467.3L596.0,464.7L591.1,466.3L586.3,469.0Z"/>
<path fill="#2a52ff" d="M490.6,485.1L495.4,484.8L490.6,483.3L485.8,483.6Z"/>
<path fill="#2c4fff" d="M500.1,485.9L504.9,485.4L500.1,484.3L495.4,484.8Z"/>
<path fill="#2e4fff" d="M509.7,486.3L514.4,485.5L509.7,484.7L504.9,485.4Z"/>
<path fill="#35ffff" d="M600.9,462.7L605.8,459.8L600.8,461.8L596.0,464.7Z"/>
<path fill="#3053ff" d="M519.2,486.1L524.0,485.1L519.2,484.5L514.4,485.5Z"/>
<path fill="#315aff" d="M528.7,485.3L533.5,484.1L528.7,483.9L524.0,485.1Z"/>
<path fill="#34ffe0" d="M610.7,457.5L615.6,454.5L610.6,456.7L605.8,459.8Z"/>
<path fill="#3266ff" d="M538.3,484.1L543.1,482.7L538.3,482.7L533.5,484.1Z"/>
<path fill="#3376ff" d="M547.8,482.3L552.6,480.7L547.8,481.0L543.1,482.7Z"/>
<path fill="#3389ff" d="M557.4,480.0L562.2,478.1L557.4,478.8L552.6,480.7Z"/>
<path fill="#34a1ff" d="M567.0,477.1L571.8,475.0L567.0,476.0L562.2,478.1Z"/>
<path fill="#34c0ff" d="M576.7,473.7L581.5,471.5L576.6,472.8L571.8,475.0Z"/>
<path fill="#34e8ff" d="M586.4,469.8L591.2,467.3L586.3,469.0L581.5,471.5Z"/>
<path fill="#246ffd" d="M466.6,481.3L471.4,481.7L466.6,479.7L461.8,479.3Z"/>
<path fill="#2664ff" d="M476.2,483.5L481.0,483.7L476.2,481.9L471.4,481.7Z"/>
<path fill="#285bff" d="M485.8,485.1L490.6,485.1L485.8,483.6L481.0,483.7Z"/>
<path fill="#2a56ff" d="M495.3,486.2L500.1,485.9L495.4,484.8L490.6,485.1Z"/>
<path fill="#2c55ff" d="M504.9,486.8L509.7,486.3L504.9,485.4L500.1,485.9Z"/>
<path fill="#33ffff" d="M596.1,465.4L600.9,462.7L596.0,464.7L591.2,467.3Z"/>
<path fill="#2d57ff" d="M514.4,486.8L519.2,486.1L514.4,485.5L509.7,486.3Z"/>
<path fill="#2f5dff" d="M524.0,486.3L528.7,485.3L524.0,485.1L519.2,486.1Z"/>
<path fill="#33fff2" d="M605.9,460.4L610.7,457.5L605.8,459.8L600.9,462.7Z"/>
<path fill="#3067ff" d="M533.5,485.3L538.3,484.1L533.5,484.1L528.7,485.3Z"/>
<path fill="#3175ff" d="M543.1,483.7L547.8,482.3L543.1,482.7L538.3,484.1Z"/>
<path fill="#3186ff" d="M552.6,481.6L557.4,480.0L552.6,480.7L547.8,482.3Z"/>
<path fill="#329cff" d="M562.2,478.9L567.0,477.1L562.2,478.1L557.4,480.0Z"/>
<path fill="#32b8ff" d="M571.9,475.8L576.7,473.7L571.8,475.0L567.0,477.1Z"/>
<path fill="#32deff" d="M581.5,472.1L586.4,469.8L581.5,471.5L576.7,473.7Z"/>
<path fill="#246ffd" d="M471.3,483.0L476.2,483.5L471.4,481.7L466.6,481.3Z"/>
<path fill="#2665ff" d="M480.9,484.9L485.8,485.1L481.0,483.7L476.2,483.5Z"/>
<path fill="#285fff" d="M490.5,486.2L495.3,486.2L490.6,485.1L485.8,485.1Z"/>
<path fill="#32ffff" d="M591.2,467.8L596.1,465.4L591.2,467.3L586.4,469.8Z"/>
<path fill="#295cff" d="M500.1,487.0L504.9,486.8L500.1,485.9L495.3,486.2Z"/>
<path fill="#2b5dff" d="M509.6,487.3L514.4,486.8L509.7,486.3L504.9,486.8Z"/>
<path fill="#2c61ff" d="M519.2,487.0L524.0,486.3L519.2,486.1L514.4,486.8Z"/>
<path fill="#32ffff" d="M601.0,463.1L605.9,460.4L600.9,462.7L596.1,465.4Z"/>
<path fill="#2e69ff" d="M528.7,486.2L533.5,485.3L528.7,485.3L524.0,486.3Z"/>
<path fill="#2f76ff" d="M538.3,484.9L543.1,483.7L538.3,484.1L533.5,485.3Z"/>
<path fill="#2f85ff" d="M547.9,483.0L552.6,481.6L547.8,482.3L543.1,483.7Z"/>
<path fill="#3099ff" d="M557.5,480.5L562.2,478.9L557.4,480.0L552.6,481.6Z"/>
<path fill="#30b3ff" d="M567.1,477.6L571.9,475.8L567.0,477.1L562.2,478.9Z"/>
<path fill="#30d7ff" d="M576.7,474.1L581.5,472.1L576.7,473.7L571.9,475.8Z"/>
<path fill="#2371fc" d="M476.1,484.5L480.9,484.9L476.2,483.5L471.3,483.0Z"/>
<path fill="#30ffff" d="M586.4,470.1L591.2,467.8L586.4,469.8L581.5,472.1Z"/>
<path fill="#2569ff" d="M485.7,486.0L490.5,486.2L485.8,485.1L480.9,484.9Z"/>
<path fill="#2765ff" d="M495.3,487.1L500.1,487.0L495.3,486.2L490.5,486.2Z"/>
<path fill="#2964ff" d="M504.8,487.6L509.6,487.3L504.9,486.8L500.1,487.0Z"/>
<path fill="#30ffff" d="M596.2,465.5L601.0,463.1L596.1,465.4L591.2,467.8Z"/>
<path fill="#2a67ff" d="M514.4,487.5L519.2,487.0L514.4,486.8L509.6,487.3Z"/>
<path fill="#2b6eff" d="M523.9,486.9L528.7,486.2L524.0,486.3L519.2,487.0Z"/>
<path fill="#2c78ff" d="M533.5,485.8L538.3,484.9L533.5,485.3L528.7,486.2Z"/>
<path fill="#2d86ff" d="M543.1,484.1L547.9,483.0L543.1,483.7L538.3,484.9Z"/>
<path fill="#2e98ff" d="M552.7,481.9L557.5,480.5L552.6,481.6L547.9,483.0Z"/>
<path fill="#2eb1ff" d="M562.3,479.2L567.1,477.6L562.2,478.9L557.5,480.5Z"/>
<path fill="#2ed1ff" d="M571.9,475.9L576.7,474.1L571.9,475.8L567.1,477.6Z"/>
<path fill="#2ef7ff" d="M581.6,472.1L586.4,470.1L581.5,472.1L576.7,474.1Z"/>
<path fill="#2374fa" d="M480.9,485.6L485.7,486.0L480.9,484.9L476.1,484.5Z"/>
<path fill="#256fff" d="M490.5,486.8L495.3,487.1L490.5,486.2L485.7,486.0Z"/>
<path fill="#266dff" d="M500.0,487.6L504.8,487.6L500.1,487.0L495.3,487.1Z"/>
<path fill="#2effff" d="M591.3,467.7L596.2,465.5L591.2,467.8L586.4,470.1Z"/>
<path fill="#286eff" d="M509.6,487.7L514.4,487.5L509.6,487.3L504.8,487.6Z"/>
<path fill="#2973ff" d="M519.2,487.4L523.9,486.9L519.2,487.0L514.4,487.5Z"/>
<path fill="#2a7cff" d="M528.7,486.5L533.5,485.8L528.7,486.2L523.9,486.9Z"/>
<path fill="#2b88ff" d="M538.3,485.0L543.1,484.1L538.3,484.9L533.5,485.8Z"/>
<path fill="#2c99ff" d="M547.9,483.1L552.7,481.9L547.9,483.0L543.1,484.1Z"/>
<path fill="#2cb0ff" d="M557.5,480.5L562.3,479.2L557.5,480.5L552.7,481.9Z"/>
<path fill="#2dceff" d="M567.1,477.5L571.9,475.9L567.1,477.6L562.3,479.2Z"/>
<path fill="#2df2ff" d="M576.8,473.9L581.6,472.1L576.7,474.1L571.9,475.9Z"/>
<path fill="#227af9" d="M485.6,486.4L490.5,486.8L485.7,486.0L480.9,485.6Z"/>
<path fill="#2dffff" d="M586.5,469.7L591.3,467.7L586.4,470.1L581.6,472.1Z"/>
<path fill="#2477fe" d="M495.2,487.3L500.0,487.6L495.3,487.1L490.5,486.8Z"/>
<path fill="#2677ff" d="M504.8,487.7L509.6,487.7L504.8,487.6L500.0,487.6Z"/>
<path fill="#277aff" d="M514.4,487.6L519.2,487.4L514.4,487.5L509.6,487.7Z"/>
<path fill="#2882ff" d="M523.9,486.9L528.7,486.5L523.9,486.9L519.2,487.4Z"/>
<path fill="#298cff" d="M533.5,485.7L538.3,485.0L533.5,485.8L528.7,486.5Z"/>
<path fill="#2a9bff" d="M543.1,484.0L547.9,483.1L543.1,484.1L538.3,485.0Z"/>
<path fill="#2ab2ff" d="M552.7,481.7L557.5,480.5L552.7,481.9L547.9,483.1Z"/>
<path fill="#2bceff" d="M562.3,478.8L567.1,477.5L562.3,479.2L557.5,480.5Z"/>
<path fill="#2beeff" d="M572.0,475.4L576.8,473.9L571.9,475.9L567.1,477.5Z"/>
<path fill="#2bffff" d="M581.7,471.5L586.5,469.7L581.6,472.1L576.8,473.9Z"/>
<path fill="#2282f7" d="M490.4,486.8L495.2,487.3L490.5,486.8L485.6,486.4Z"/>
<path fill="#2381fb" d="M500.0,487.5L504.8,487.7L500.0,487.6L495.2,487.3Z"/>
<path fill="#2583ff" d="M509.6,487.6L514.4,487.6L509.6,487.7L504.8,487.7Z"/>
<path fill="#2688ff" d="M519.1,487.1L523.9,486.9L519.2,487.4L514.4,487.6Z"/>
<path fill="#2792ff" d="M528.7,486.2L533.5,485.7L528.7,486.5L523.9,486.9Z"/>
<path fill="#28a0ff" d="M538.3,484.6L543.1,484.0L538.3,485.0L533.5,485.7Z"/>
<path fill="#28b5ff" d="M547.9,482.5L552.7,481.7L547.9,483.1L543.1,484.0Z"/>
<path fill="#29cfff" d="M557.5,479.9L562.3,478.8L557.5,480.5L552.7,481.7Z"/>
<path fill="#29edff" d="M567.2,476.8L572.0,475.4L567.1,477.5L562.3,478.8Z"/>
<path fill="#29ffff" d="M576.9,473.0L581.7,471.5L576.8,473.9L572.0,475.4Z"/>
<path fill="#218cf5" d="M495.2,487.0L500.0,487.5L495.2,487.3L490.4,486.8Z"/>
<path fill="#228cf9" d="M504.7,487.3L509.6,487.6L504.8,487.7L500.0,487.5Z"/>
<path fill="#2491fc" d="M514.3,487.1L519.1,487.1L514.4,487.6L509.6,487.6Z"/>
<path fill="#259aff" d="M523.9,486.3L528.7,486.2L523.9,486.9L519.1,487.1Z"/>
<path fill="#26a8ff" d="M533.5,485.0L538.3,484.6L533.5,485.7L528.7,486.2Z"/>
<path fill="#26bbff" d="M543.1,483.2L547.9,482.5L543.1,484.0L538.3,484.6Z"/>
<path fill="#27d2ff" d="M552.7,480.8L557.5,479.9L552.7,481.7L547.9,482.5Z"/>
<path fill="#27eeff" d="M562.4,477.8L567.2,476.8L562.3,478.8L557.5,479.9Z"/>
<path fill="#27fffb" d="M572.1,474.3L576.9,473.0L572.0,475.4L567.2,476.8Z"/>
<path fill="#209bf2" d="M499.9,486.8L504.7,487.3L500.0,487.5L495.2,487.0Z"/>
<path fill="#229ef6" d="M509.5,486.8L514.3,487.1L509.6,487.6L504.7,487.3Z"/>
<path fill="#23a6f9" d="M519.1,486.3L523.9,486.3L519.1,487.1L514.3,487.1Z"/>
<path fill="#23b2fc" d="M528.7,485.2L533.5,485.0L528.7,486.2L523.9,486.3Z"/>
<path fill="#24c2fe" d="M538.3,483.6L543.1,483.2L538.3,484.6L533.5,485.0Z"/>
<path fill="#25d7ff" d="M547.9,481.4L552.7,480.8L547.9,482.5L543.1,483.2Z"/>
<path fill="#25f1ff" d="M557.6,478.7L562.4,477.8L557.5,479.9L552.7,480.8Z"/>
<path fill="#26ffec" d="M567.3,475.4L572.1,474.3L567.2,476.8L562.4,477.8Z"/>
<path fill="#1fadf0" d="M504.7,486.3L509.5,486.8L504.7,487.3L499.9,486.8Z"/>
<path fill="#21b3f3" d="M514.3,486.0L519.1,486.3L514.3,487.1L509.5,486.8Z"/>
<path fill="#21bdf6" d="M523.9,485.1L528.7,485.2L523.9,486.3L519.1,486.3Z"/>
<path fill="#22cbf8" d="M533.5,483.7L538.3,483.6L533.5,485.0L528.7,485.2Z"/>
<path fill="#23defa" d="M543.1,481.8L547.9,481.4L543.1,483.2L538.3,483.6Z"/>
<path fill="#23f6fc" d="M552.8,479.3L557.6,478.7L552.7,480.8L547.9,481.4Z"/>
<path fill="#24fddb" d="M562.4,476.2L567.3,475.4L562.4,477.8L557.6,478.7Z"/>
<path fill="#1ec1ed" d="M509.5,485.4L514.3,486.0L509.5,486.8L504.7,486.3Z"/>
<path fill="#1fc9f0" d="M519.1,484.8L523.9,485.1L519.1,486.3L514.3,486.0Z"/>
<path fill="#20d6f2" d="M528.7,483.6L533.5,483.7L528.7,485.2L523.9,485.1Z"/>
<path fill="#21e7f5" d="M538.3,481.9L543.1,481.8L538.3,483.6L533.5,483.7Z"/>
<path fill="#22f6ec" d="M548.0,479.6L552.8,479.3L547.9,481.4L543.1,481.8Z"/>
<path fill="#22f8c6" d="M557.6,476.8L562.4,476.2L557.6,478.7L552.8,479.3Z"/>
<path fill="#1ed7ea" d="M514.3,484.2L519.1,484.8L514.3,486.0L509.5,485.4Z"/>
<path fill="#1ee2ed" d="M523.9,483.2L528.7,483.6L523.9,485.1L519.1,484.8Z"/>
<path fill="#1fefeb" d="M533.5,481.7L538.3,481.9L533.5,483.7L528.7,483.6Z"/>
<path fill="#20f1d1" d="M543.2,479.7L548.0,479.6L543.1,481.8L538.3,481.9Z"/>
<path fill="#20f2ae" d="M552.8,477.1L557.6,476.8L552.8,479.3L548.0,479.6Z"/>
<path fill="#1de7d8" d="M519.0,482.6L523.9,483.2L519.1,484.8L514.3,484.2Z"/>
<path fill="#1de9c9" d="M528.7,481.4L533.5,481.7L528.7,483.6L523.9,483.2Z"/>
<path fill="#1eebb3" d="M538.3,479.5L543.2,479.7L538.3,481.9L533.5,481.7Z"/>
<path fill="#1fed94" d="M548.0,477.2L552.8,477.1L548.0,479.6L543.2,479.7Z"/>
<path fill="#1be3a5" d="M523.8,480.7L528.7,481.4L523.9,483.2L519.0,482.6Z"/>
<path fill="#1ce692" d="M533.5,479.1L538.3,479.5L533.5,481.7L528.7,481.4Z"/>
<path fill="#1de877" d="M543.2,477.0L548.0,477.2L543.2,479.7L538.3,479.5Z"/>
<path fill="#1ae06f" d="M528.7,478.4L533.5,479.1L528.7,481.4L523.8,480.7Z"/>
<path fill="#1be258" d="M538.3,476.5L543.2,477.0L538.3,479.5L533.5,479.1Z"/>
<path fill="#19dd36" d="M533.5,475.8L538.3,476.5L533.5,479.1L528.7,478.4Z"/>
</g>
<circle cx="640.16" cy="436.80" r="2.2" fill="#f4c8c8" stroke="#800" stroke-width="0.5"/>
<circle cx="429.58" cy="492.68" r="1.0" fill="#000"/>
<text x="426.28" y="491.18" font-size="6.6" text-anchor="end" fill="#1a1a1a" font-family="Liberation Sans" stroke="#1a1a1a" stroke-width="0.18" textLength="10.24" lengthAdjust="spacingAndGlyphs">100</text>
<circle cx="428.31" cy="466.05" r="1.0" fill="#000"/>
<text x="425.01" y="464.55" font-size="6.6" text-anchor="end" fill="#1a1a1a" font-family="Liberation Sans" stroke="#1a1a1a" stroke-width="0.18" textLength="10.24" lengthAdjust="spacingAndGlyphs">200</text>
<circle cx="427.04" cy="439.42" r="1.0" fill="#000"/>
<text x="423.74" y="437.92" font-size="6.6" text-anchor="end" fill="#1a1a1a" font-family="Liberation Sans" stroke="#1a1a1a" stroke-width="0.18" textLength="10.24" lengthAdjust="spacingAndGlyphs">300</text>
<circle cx="425.77" cy="412.79" r="1.0" fill="#000"/>
<text x="422.47" y="411.29" font-size="6.6" text-anchor="end" fill="#1a1a1a" font-family="Liberation Sans" stroke="#1a1a1a" stroke-width="0.18" textLength="10.24" lengthAdjust="spacingAndGlyphs">400</text>
<circle cx="424.50" cy="386.16" r="1.0" fill="#000"/>
<text x="421.20" y="384.66" font-size="6.6" text-anchor="end" fill="#1a1a1a" font-family="Liberation Sans" stroke="#1a1a1a" stroke-width="0.18" textLength="10.24" lengthAdjust="spacingAndGlyphs">500</text>
<circle cx="533.50" cy="574.90" r="0.9" fill="#000"/>
<text x="527.80" y="580.40" font-size="6.6" text-anchor="middle" fill="#1a1a1a" font-family="Liberation Sans" stroke="#1a1a1a" stroke-width="0.18" textLength="3.41" lengthAdjust="spacingAndGlyphs">2</text>
<circle cx="516.45" cy="566.75" r="0.9" fill="#000"/>
<text x="510.75" y="572.25" font-size="6.6" text-anchor="middle" fill="#1a1a1a" font-family="Liberation Sans" stroke="#1a1a1a" stroke-width="0.18" textLength="3.41" lengthAdjust="spacingAndGlyphs">3</text>
<circle cx="499.39" cy="558.61" r="0.9" fill="#000"/>
<text x="493.69" y="564.11" font-size="6.6" text-anchor="middle" fill="#1a1a1a" font-family="Liberation Sans" stroke="#1a1a1a" stroke-width="0.18" textLength="3.41" lengthAdjust="spacingAndGlyphs">4</text>
<circle cx="482.34" cy="550.46" r="0.9" fill="#000"/>
<text x="476.64" y="555.96" font-size="6.6" text-anchor="middle" fill="#1a1a1a" font-family="Liberation Sans" stroke="#1a1a1a" stroke-width="0.18" textLength="3.41" lengthAdjust="spacingAndGlyphs">5</text>
<circle cx="465.28" cy="542.31" r="0.9" fill="#000"/>
<text x="459.58" y="547.81" font-size="6.6" text-anchor="middle" fill="#1a1a1a" font-family="Liberation Sans" stroke="#1a1a1a" stroke-width="0.18" textLength="3.41" lengthAdjust="spacingAndGlyphs">6</text>
<circle cx="448.23" cy="534.17" r="0.9" fill="#000"/>
<text x="442.53" y="539.67" font-size="6.6" text-anchor="middle" fill="#1a1a1a" font-family="Liberation Sans" stroke="#1a1a1a" stroke-width="0.18" textLength="3.41" lengthAdjust="spacingAndGlyphs">7</text>
<circle cx="431.17" cy="526.02" r="0.9" fill="#000"/>
<text x="425.47" y="531.52" font-size="6.6" text-anchor="middle" fill="#1a1a1a" font-family="Liberation Sans" stroke="#1a1a1a" stroke-width="0.18" textLength="3.41" lengthAdjust="spacingAndGlyphs">8</text>
<circle cx="533.50" cy="574.90" r="0.9" fill="#000"/>
<text x="540.10" y="580.90" font-size="6.6" text-anchor="middle" fill="#1a1a1a" font-family="Liberation Sans" stroke="#1a1a1a" stroke-width="0.18" textLength="6.83" lengthAdjust="spacingAndGlyphs">20</text>
<circle cx="553.96" cy="565.07" r="0.9" fill="#000"/>
<text x="560.56" y="571.07" font-size="6.6" text-anchor="middle" fill="#1a1a1a" font-family="Liberation Sans" stroke="#1a1a1a" stroke-width="0.18" textLength="6.83" lengthAdjust="spacingAndGlyphs">26</text>
<circle cx="574.42" cy="555.25" r="0.9" fill="#000"/>
<text x="581.02" y="561.25" font-size="6.6" text-anchor="middle" fill="#1a1a1a" font-family="Liberation Sans" stroke="#1a1a1a" stroke-width="0.18" textLength="6.83" lengthAdjust="spacingAndGlyphs">32</text>
<circle cx="594.89" cy="545.42" r="0.9" fill="#000"/>
<text x="601.49" y="551.42" font-size="6.6" text-anchor="middle" fill="#1a1a1a" font-family="Liberation Sans" stroke="#1a1a1a" stroke-width="0.18" textLength="6.83" lengthAdjust="spacingAndGlyphs">38</text>
<circle cx="615.35" cy="535.60" r="0.9" fill="#000"/>
<text x="621.95" y="541.60" font-size="6.6" text-anchor="middle" fill="#1a1a1a" font-family="Liberation Sans" stroke="#1a1a1a" stroke-width="0.18" textLength="6.83" lengthAdjust="spacingAndGlyphs">44</text>
<circle cx="635.81" cy="525.77" r="0.9" fill="#000"/>
<text x="642.41" y="531.77" font-size="6.6" text-anchor="middle" fill="#1a1a1a" font-family="Liberation Sans" stroke="#1a1a1a" stroke-width="0.18" textLength="6.83" lengthAdjust="spacingAndGlyphs">50</text>
<text x="551.00" y="323.80" font-size="7.3" text-anchor="middle" fill="#222" font-family="Liberation Sans" stroke="#222" stroke-width="0.18">3D Surface</text>
<text x="394.30" y="452.40" font-size="7.5" text-anchor="middle" fill="#222" font-family="Liberation Sans" stroke="#222" stroke-width="0.18" transform="rotate(-90 394.30 452.40)">Particle Size (nm)</text>
<text x="443.00" y="571.00" font-size="7.5" text-anchor="middle" fill="#222" font-family="Liberation Sans" stroke="#222" stroke-width="0.18" xml:space="preserve">B: Hyaluronic acid  (mg/mL)</text>
<text x="624.40" y="571.00" font-size="7.5" text-anchor="middle" fill="#222" font-family="Liberation Sans" stroke="#222" stroke-width="0.18" xml:space="preserve">A: cholesterol  (mg)</text>
<polygon points="83.58,846.97 185.86,808.49 185.86,682.70 76.91,707.11" fill="#fff"/>
<polygon points="185.86,808.49 288.22,846.72 295.05,707.07 185.86,682.70" fill="#fff"/>
<line x1="102.76" y1="806.60" x2="98.70" y2="702.23" stroke="#8a8a8a" stroke-width="0.8"/>
<line x1="123.54" y1="799.58" x2="120.49" y2="697.35" stroke="#8a8a8a" stroke-width="0.8"/>
<line x1="144.31" y1="792.55" x2="142.28" y2="692.46" stroke="#8a8a8a" stroke-width="0.8"/>
<line x1="165.09" y1="785.53" x2="164.07" y2="687.58" stroke="#8a8a8a" stroke-width="0.8"/>
<line x1="263.85" y1="804.70" x2="267.75" y2="700.98" stroke="#8a8a8a" stroke-width="0.8"/>
<line x1="237.86" y1="795.96" x2="240.46" y2="694.88" stroke="#8a8a8a" stroke-width="0.8"/>
<line x1="211.86" y1="787.23" x2="213.16" y2="688.79" stroke="#8a8a8a" stroke-width="0.8"/>
<polyline points="81.99,813.63 185.86,778.50 289.85,813.43" fill="none" stroke="#555" stroke-width="0.8"/>
<polyline points="80.72,787.00 185.86,754.55 291.15,786.84" fill="none" stroke="#555" stroke-width="0.8"/>
<polyline points="79.45,760.37 185.86,730.60 292.45,760.25" fill="none" stroke="#555" stroke-width="0.8"/>
<polyline points="78.18,733.74 185.86,706.65 293.75,733.66" fill="none" stroke="#555" stroke-width="0.8"/>
<polyline points="76.91,707.11 185.86,682.70 295.05,707.07" fill="none" stroke="#555" stroke-width="0.8"/>
<line x1="185.86" y1="808.49" x2="185.86" y2="682.70" stroke="#8a8a8a" stroke-width="0.9"/>
<line x1="81.99" y1="813.63" x2="76.91" y2="707.11" stroke="#555" stroke-width="0.9"/>
<line x1="83.58" y1="846.97" x2="81.99" y2="813.63" stroke="#bbb" stroke-width="0.9"/>
<line x1="289.85" y1="813.43" x2="295.05" y2="707.07" stroke="#777" stroke-width="0.9"/>
<line x1="288.22" y1="846.72" x2="289.85" y2="813.43" stroke="#bbb" stroke-width="0.9"/>
<polygon points="185.91,895.85 288.22,846.72 185.86,808.49 83.58,846.97" fill="#6f6f6f" stroke="#333" stroke-width="0.6"/>
<path d="M204.5,886.9L203.0,886.5L201.4,886.0L200.3,885.6L199.9,885.5L198.4,885.0L196.9,884.5L195.5,884.0L194.0,883.5L192.6,883.0L191.2,882.5L189.8,882.0L189.5,881.9L188.4,881.4L187.0,880.9L185.7,880.3L184.3,879.7L183.0,879.2L181.7,878.6L180.5,878.0L179.2,877.4L178.0,876.8L176.8,876.1L175.6,875.5L175.3,875.3L174.5,874.9L173.4,874.2L172.3,873.5L171.2,872.8L170.2,872.1L169.2,871.4L168.8,871.2L168.2,870.7L167.3,870.0L166.4,869.2L165.8,868.6L165.6,868.4L164.8,867.6L164.0,866.8L163.9,866.6L163.4,865.9L162.7,865.1L162.6,864.9L162.2,864.2L161.8,863.4L161.7,863.2L161.4,862.3L161.3,862.0L161.2,861.2L161.1,860.8L161.1,860.1L161.1,859.7L161.2,859.0L161.2,858.6L161.5,857.7L161.6,857.7L162.0,856.7L162.3,856.3L162.6,855.9L163.2,855.1L163.7,854.5L164.0,854.3L164.8,853.6L165.7,852.9L166.7,852.2L166.9,852.1L167.8,851.6L169.0,851.0L170.2,850.4L171.4,849.8L172.7,849.3L174.1,848.8L175.5,848.3L176.7,848.0L177.0,847.9L178.5,847.4L180.1,847.0L181.7,846.6L183.3,846.2L183.4,846.2L185.0,845.9L186.7,845.5L188.3,845.2L188.5,845.2L190.3,844.9L192.2,844.6L192.5,844.5L194.1,844.3L196.0,844.0L196.3,844.0L198.0,843.8L199.9,843.5L200.0,843.5L202.1,843.3L203.2,843.2L204.1,843.1L206.3,842.8L206.5,842.8L208.4,842.7L209.6,842.6L210.6,842.5L212.6,842.3L212.9,842.3L215.1,842.2L215.5,842.1L217.5,842.0L218.4,842.0L219.8,841.9L221.1,841.8L222.2,841.8L223.9,841.7L224.6,841.7L226.5,841.6L227.1,841.6L229.2,841.5L229.6,841.5L231.7,841.4L232.1,841.4L234.3,841.4L234.7,841.4L236.8,841.3L237.4,841.3L239.2,841.3L240.0,841.3L241.7,841.3L242.7,841.3L244.1,841.3L245.5,841.3L246.4,841.3L248.3,841.3L248.8,841.3L251.1,841.3L251.2,841.3L253.4,841.4L254.1,841.4L255.6,841.4L257.0,841.4L257.9,841.5L260.1,841.5L260.1,841.5L262.3,841.6L263.1,841.6L264.5,841.7L266.3,841.7L266.6,841.7L268.7,841.8L269.5,841.9L270.9,841.9L272.7,842.0L273.0,842.0L275.0,842.1L276.1,842.2" stroke="#2038c4" stroke-width="1.3" fill="none" stroke-linecap="round"/>
<path d="M186.4,895.6L184.8,895.2L184.0,894.9M246.9,831.3L245.3,831.2L243.9,831.2L243.0,831.2L241.1,831.2L240.7,831.2L238.4,831.1L238.2,831.1L236.0,831.1L235.4,831.1L233.7,831.1L232.7,831.1L231.3,831.1L229.9,831.1L228.9,831.1L227.2,831.1L226.4,831.1L224.6,831.1L224.0,831.1L221.9,831.1L221.5,831.1L219.3,831.2L219.0,831.2L216.7,831.2L216.4,831.2L214.2,831.2L213.9,831.3L211.7,831.3L211.3,831.3L209.2,831.4L208.6,831.4L206.7,831.4L205.9,831.5L204.3,831.5L203.2,831.6L201.9,831.6L200.5,831.7L199.5,831.7L197.7,831.8L197.1,831.8L194.8,831.9L194.8,831.9L192.5,832.0L191.9,832.1L190.3,832.2L189.0,832.2L188.0,832.3L186.0,832.4L185.8,832.4L183.6,832.6L182.9,832.6L181.5,832.7L179.7,832.9L179.3,832.9L177.2,833.1L176.5,833.2L175.2,833.3L173.1,833.5L173.1,833.5L171.1,833.7L169.6,833.8L169.1,833.9L167.1,834.1L165.9,834.3L165.2,834.4L163.3,834.6L162.0,834.8L161.4,834.9L159.5,835.1L157.9,835.4L157.7,835.4L155.9,835.7L154.1,836.0L153.4,836.1L152.4,836.3L150.7,836.6L149.0,836.9L148.2,837.1L147.3,837.3L145.7,837.6L144.1,838.0L142.6,838.4L141.5,838.7L141.1,838.8L139.6,839.2L138.1,839.6L136.7,840.1L135.3,840.5L134.0,841.0L132.7,841.5L131.4,842.0L130.2,842.6L129.1,843.1L127.9,843.7L126.9,844.3L126.0,844.8L125.8,844.9L124.8,845.5L123.9,846.2L123.1,846.9L122.8,847.1L122.3,847.6L121.5,848.4L121.0,848.9L120.9,849.1L120.3,850.0L120.0,850.4L119.7,850.8L119.3,851.7L119.3,851.8L119.0,852.7L118.9,853.1L118.7,853.7L118.7,854.3L118.6,854.7L118.6,855.4L118.6,855.8L118.7,856.5L118.8,857.0L118.9,857.5L119.1,858.3L119.2,858.5L119.6,859.5L119.7,859.7L120.0,860.4L120.4,861.2L120.5,861.3L121.1,862.2L121.5,862.8L121.7,863.1L122.4,864.0L122.9,864.6L123.1,864.8L123.8,865.7L124.6,866.5L124.8,866.7" stroke="#2080d0" stroke-width="1.3" fill="none" stroke-linecap="round"/>
<path d="M98.2,841.5L97.8,841.8L97.0,842.5L96.2,843.2L96.0,843.4L95.5,843.9L94.8,844.7L94.6,845.0L94.2,845.5L93.7,846.3L93.7,846.4L93.3,847.2L93.0,847.8L92.9,848.1L92.6,849.0L92.6,849.1L92.4,850.1L92.3,850.2L92.3,851.1M229.9,824.9L228.9,824.9L227.2,824.9L226.5,824.9L224.4,824.9L224.1,824.9L221.7,824.9L221.7,824.9L219.3,824.9L219.0,824.9L216.8,824.9L216.3,824.9L214.3,824.9L213.7,824.9L211.8,824.9L211.1,824.9L209.3,824.9L208.5,824.9L206.8,825.0L205.9,825.0L204.2,825.0L203.4,825.0L201.6,825.0L200.9,825.1L199.0,825.1L198.4,825.1L196.3,825.1L195.9,825.2L193.6,825.2L193.5,825.2L191.1,825.3L190.9,825.3L188.7,825.4L188.1,825.4L186.3,825.4L185.4,825.5L184.0,825.5L182.5,825.6L181.6,825.6L179.6,825.7L179.3,825.7L177.1,825.8L176.7,825.8L174.8,825.9L173.7,826.0L172.6,826.1L170.7,826.2L170.4,826.2L168.2,826.3L167.6,826.4L166.1,826.5L164.5,826.6L163.9,826.6L161.8,826.8L161.2,826.8L159.7,826.9L157.9,827.1L157.7,827.1L155.6,827.3L154.4,827.4L153.6,827.5L151.6,827.7L150.9,827.7L149.6,827.9L147.7,828.1L147.2,828.1L145.7,828.3L143.8,828.5L143.3,828.6L142.0,828.7L140.1,829.0L139.2,829.1L138.3,829.2L136.5,829.5L134.8,829.8L134.7,829.8L132.9,830.1L131.2,830.3L129.9,830.6L129.5,830.6L127.8,831.0L126.2,831.3L124.6,831.6L124.2,831.7" stroke="#20c0d0" stroke-width="1.3" fill="none" stroke-linecap="round"/>
<circle cx="185.91" cy="826.45" r="2.2" fill="#cc0000" stroke="#800" stroke-width="0.5"/>
<g stroke="#000010" stroke-width="0.55" stroke-opacity="0.5" stroke-linejoin="round">
<path fill="#86ff3f" d="M185.9,729.7L190.7,725.4L185.9,721.1L181.0,725.5Z"/>
<path fill="#65ff40" d="M190.7,734.0L195.6,729.7L190.7,725.4L185.9,729.7Z"/>
<path fill="#64ff3f" d="M181.0,733.9L185.9,729.7L181.0,725.5L176.2,729.6Z"/>
<path fill="#44ff40" d="M195.5,738.1L200.4,733.8L195.6,729.7L190.7,734.0Z"/>
<path fill="#43ff40" d="M185.9,738.1L190.7,734.0L185.9,729.7L181.0,733.9Z"/>
<path fill="#44ff3f" d="M176.2,737.9L181.0,733.9L176.2,729.6L171.3,733.7Z"/>
<path fill="#41ff76" d="M200.4,742.2L205.2,737.9L200.4,733.8L195.5,738.1Z"/>
<path fill="#40ff77" d="M190.7,742.2L195.5,738.1L190.7,734.0L185.9,738.1Z"/>
<path fill="#3fff6d" d="M171.4,741.7L176.2,737.9L171.3,733.7L166.5,737.5Z"/>
<path fill="#40ff73" d="M181.0,742.1L185.9,738.1L181.0,733.9L176.2,737.9Z"/>
<path fill="#41ffb1" d="M205.2,746.2L210.0,741.9L205.2,737.9L200.4,742.2Z"/>
<path fill="#41ffb2" d="M195.5,746.3L200.4,742.2L195.5,738.1L190.7,742.2Z"/>
<path fill="#40ffaf" d="M185.9,746.2L190.7,742.2L185.9,738.1L181.0,742.1Z"/>
<path fill="#3fff9f" d="M166.6,745.4L171.4,741.7L166.5,737.5L161.7,741.2Z"/>
<path fill="#3fffa9" d="M176.2,745.9L181.0,742.1L176.2,737.9L171.4,741.7Z"/>
<path fill="#42ffe9" d="M210.0,750.1L214.8,745.9L210.0,741.9L205.2,746.2Z"/>
<path fill="#41ffeb" d="M200.3,750.2L205.2,746.2L200.4,742.2L195.5,746.3Z"/>
<path fill="#41ffe9" d="M190.7,750.2L195.5,746.3L190.7,742.2L185.9,746.2Z"/>
<path fill="#40ffe3" d="M181.1,749.9L185.9,746.2L181.0,742.1L176.2,745.9Z"/>
<path fill="#3effcd" d="M161.8,748.8L166.6,745.4L161.7,741.2L156.9,744.7Z"/>
<path fill="#3fffd9" d="M171.4,749.5L176.2,745.9L171.4,741.7L166.6,745.4Z"/>
<path fill="#42ffff" d="M214.8,753.9L219.6,749.7L214.8,745.9L210.0,750.1Z"/>
<path fill="#42ffff" d="M205.1,754.1L210.0,750.1L205.2,746.2L200.3,750.2Z"/>
<path fill="#41ffff" d="M195.5,754.1L200.3,750.2L195.5,746.3L190.7,750.2Z"/>
<path fill="#40ffff" d="M185.9,753.9L190.7,750.2L185.9,746.2L181.1,749.9Z"/>
<path fill="#3efff6" d="M157.0,752.1L161.8,748.8L156.9,744.7L152.1,748.0Z"/>
<path fill="#3fffff" d="M176.3,753.5L181.1,749.9L176.2,745.9L171.4,749.5Z"/>
<path fill="#3fffff" d="M166.6,752.9L171.4,749.5L166.6,745.4L161.8,748.8Z"/>
<path fill="#43ffff" d="M219.5,757.7L224.4,753.5L219.6,749.7L214.8,753.9Z"/>
<path fill="#42ffff" d="M209.9,757.9L214.8,753.9L210.0,750.1L205.1,754.1Z"/>
<path fill="#41ffff" d="M200.3,758.0L205.1,754.1L200.3,750.2L195.5,754.1Z"/>
<path fill="#41ffff" d="M190.7,757.8L195.5,754.1L190.7,750.2L185.9,753.9Z"/>
<path fill="#40ffff" d="M181.1,757.5L185.9,753.9L181.1,749.9L176.3,753.5Z"/>
<path fill="#3dffff" d="M152.2,755.2L157.0,752.1L152.1,748.0L147.3,751.1Z"/>
<path fill="#3fffff" d="M171.5,756.9L176.3,753.5L171.4,749.5L166.6,752.9Z"/>
<path fill="#3effff" d="M161.8,756.2L166.6,752.9L161.8,748.8L157.0,752.1Z"/>
<path fill="#43ffff" d="M224.3,761.3L229.2,757.2L224.4,753.5L219.5,757.7Z"/>
<path fill="#42ffff" d="M214.7,761.6L219.5,757.7L214.8,753.9L209.9,757.9Z"/>
<path fill="#42ffff" d="M205.1,761.7L209.9,757.9L205.1,754.1L200.3,758.0Z"/>
<path fill="#41ffff" d="M195.5,761.6L200.3,758.0L195.5,754.1L190.7,757.8Z"/>
<path fill="#40ffff" d="M185.9,761.3L190.7,757.8L185.9,753.9L181.1,757.5Z"/>
<path fill="#3fffff" d="M176.3,760.8L181.1,757.5L176.3,753.5L171.5,756.9Z"/>
<path fill="#3dffff" d="M147.4,758.1L152.2,755.2L147.3,751.1L142.6,754.0Z"/>
<path fill="#3effff" d="M166.7,760.1L171.5,756.9L166.6,752.9L161.8,756.2Z"/>
<path fill="#3effff" d="M157.1,759.2L161.8,756.2L157.0,752.1L152.2,755.2Z"/>
<path fill="#43ffff" d="M229.1,764.9L233.9,760.8L229.2,757.2L224.3,761.3Z"/>
<path fill="#43ffff" d="M219.5,765.3L224.3,761.3L219.5,757.7L214.7,761.6Z"/>
<path fill="#42ffff" d="M209.9,765.4L214.7,761.6L209.9,757.9L205.1,761.7Z"/>
<path fill="#41ffff" d="M200.3,765.4L205.1,761.7L200.3,758.0L195.5,761.6Z"/>
<path fill="#41ffff" d="M190.7,765.1L195.5,761.6L190.7,757.8L185.9,761.3Z"/>
<path fill="#40ffff" d="M181.1,764.7L185.9,761.3L181.1,757.5L176.3,760.8Z"/>
<path fill="#3fffff" d="M171.5,764.0L176.3,760.8L171.5,756.9L166.7,760.1Z"/>
<path fill="#3cffff" d="M142.6,760.8L147.4,758.1L142.6,754.0L137.8,756.8Z"/>
<path fill="#3effff" d="M161.9,763.2L166.7,760.1L161.8,756.2L157.1,759.2Z"/>
<path fill="#3dffff" d="M152.3,762.1L157.1,759.2L152.2,755.2L147.4,758.1Z"/>
<path fill="#44f5ff" d="M233.8,768.4L238.7,764.3L233.9,760.8L229.1,764.9Z"/>
<path fill="#43f0ff" d="M224.2,768.8L229.1,764.9L224.3,761.3L219.5,765.3Z"/>
<path fill="#42edff" d="M214.6,769.0L219.5,765.3L214.7,761.6L209.9,765.4Z"/>
<path fill="#42ecff" d="M205.1,769.0L209.9,765.4L205.1,761.7L200.3,765.4Z"/>
<path fill="#41edff" d="M195.5,768.8L200.3,765.4L195.5,761.6L190.7,765.1Z"/>
<path fill="#40f0ff" d="M185.9,768.4L190.7,765.1L185.9,761.3L181.1,764.7Z"/>
<path fill="#3ff5ff" d="M176.3,767.8L181.1,764.7L176.3,760.8L171.5,764.0Z"/>
<path fill="#3bffff" d="M137.9,763.3L142.6,760.8L137.8,756.8L133.0,759.3Z"/>
<path fill="#3efcff" d="M166.7,767.0L171.5,764.0L166.7,760.1L161.9,763.2Z"/>
<path fill="#3cffff" d="M147.5,764.8L152.3,762.1L147.4,758.1L142.6,760.8Z"/>
<path fill="#3dffff" d="M157.1,766.0L161.9,763.2L157.1,759.2L152.3,762.1Z"/>
<path fill="#44dbff" d="M238.6,771.8L243.4,767.8L238.7,764.3L233.8,768.4Z"/>
<path fill="#43d5ff" d="M229.0,772.3L233.8,768.4L229.1,764.9L224.2,768.8Z"/>
<path fill="#43d2ff" d="M219.4,772.5L224.2,768.8L219.5,765.3L214.6,769.0Z"/>
<path fill="#42d1ff" d="M209.8,772.6L214.6,769.0L209.9,765.4L205.1,769.0Z"/>
<path fill="#41d1ff" d="M200.3,772.5L205.1,769.0L200.3,765.4L195.5,768.8Z"/>
<path fill="#40d4ff" d="M190.7,772.1L195.5,768.8L190.7,765.1L185.9,768.4Z"/>
<path fill="#3fd9ff" d="M181.1,771.5L185.9,768.4L181.1,764.7L176.3,767.8Z"/>
<path fill="#3ee0ff" d="M171.5,770.8L176.3,767.8L171.5,764.0L166.7,767.0Z"/>
<path fill="#3affff" d="M133.1,765.7L137.9,763.3L133.0,759.3L128.2,761.7Z"/>
<path fill="#3de9ff" d="M161.9,769.8L166.7,767.0L161.9,763.2L157.1,766.0Z"/>
<path fill="#3bffff" d="M142.7,767.2L147.5,764.8L142.6,760.8L137.9,763.3Z"/>
<path fill="#3cf3ff" d="M152.3,768.6L157.1,766.0L152.3,762.1L147.5,764.8Z"/>
<path fill="#44c4ff" d="M243.3,775.1L248.2,771.1L243.4,767.8L238.6,771.8Z"/>
<path fill="#44bfff" d="M233.7,775.7L238.6,771.8L233.8,768.4L229.0,772.3Z"/>
<path fill="#43bcff" d="M224.2,776.0L229.0,772.3L224.2,768.8L219.4,772.5Z"/>
<path fill="#42bbff" d="M214.6,776.1L219.4,772.5L214.6,769.0L209.8,772.6Z"/>
<path fill="#41bbff" d="M205.0,776.0L209.8,772.6L205.1,769.0L200.3,772.5Z"/>
<path fill="#40bcff" d="M195.5,775.7L200.3,772.5L195.5,768.8L190.7,772.1Z"/>
<path fill="#3fbfff" d="M185.9,775.2L190.7,772.1L185.9,768.4L181.1,771.5Z"/>
<path fill="#3ec5ff" d="M176.3,774.5L181.1,771.5L176.3,767.8L171.5,770.8Z"/>
<path fill="#3dcdff" d="M166.7,773.5L171.5,770.8L166.7,767.0L161.9,769.8Z"/>
<path fill="#39ffff" d="M128.3,767.8L133.1,765.7L128.2,761.7L123.4,763.9Z"/>
<path fill="#3cd8ff" d="M157.2,772.4L161.9,769.8L157.1,766.0L152.3,768.6Z"/>
<path fill="#3af2ff" d="M137.9,769.5L142.7,767.2L137.9,763.3L133.1,765.7Z"/>
<path fill="#3be4ff" d="M147.6,771.1L152.3,768.6L147.5,764.8L142.7,767.2Z"/>
<path fill="#45b2ff" d="M248.0,778.4L252.9,774.4L248.2,771.1L243.3,775.1Z"/>
<path fill="#44adff" d="M238.5,778.9L243.3,775.1L238.6,771.8L233.7,775.7Z"/>
<path fill="#43a9ff" d="M228.9,779.3L233.7,775.7L229.0,772.3L224.2,776.0Z"/>
<path fill="#42a8ff" d="M219.3,779.5L224.2,776.0L219.4,772.5L214.6,776.1Z"/>
<path fill="#41a7ff" d="M209.8,779.4L214.6,776.1L209.8,772.6L205.0,776.0Z"/>
<path fill="#41a9ff" d="M200.2,779.2L205.0,776.0L200.3,772.5L195.5,775.7Z"/>
<path fill="#40abff" d="M190.7,778.7L195.5,775.7L190.7,772.1L185.9,775.2Z"/>
<path fill="#3eb0ff" d="M181.1,778.1L185.9,775.2L181.1,771.5L176.3,774.5Z"/>
<path fill="#3db6ff" d="M171.5,777.2L176.3,774.5L171.5,770.8L166.7,773.5Z"/>
<path fill="#3cbdff" d="M162.0,776.1L166.7,773.5L161.9,769.8L157.2,772.4Z"/>
<path fill="#37f7ff" d="M123.5,769.7L128.3,767.8L123.4,763.9L118.7,765.8Z"/>
<path fill="#3bc9ff" d="M152.4,774.8L157.2,772.4L152.3,768.6L147.6,771.1Z"/>
<path fill="#39e6ff" d="M133.2,771.6L137.9,769.5L133.1,765.7L128.3,767.8Z"/>
<path fill="#3ad7ff" d="M142.8,773.3L147.6,771.1L142.7,767.2L137.9,769.5Z"/>
<path fill="#45a1ff" d="M252.8,781.5L257.6,777.6L252.9,774.4L248.0,778.4Z"/>
<path fill="#449bff" d="M243.2,782.1L248.0,778.4L243.3,775.1L238.5,778.9Z"/>
<path fill="#4398ff" d="M233.6,782.6L238.5,778.9L233.7,775.7L228.9,779.3Z"/>
<path fill="#4395ff" d="M224.1,782.8L228.9,779.3L224.2,776.0L219.3,779.5Z"/>
<path fill="#4295ff" d="M214.5,782.8L219.3,779.5L214.6,776.1L209.8,779.4Z"/>
<path fill="#4196ff" d="M205.0,782.6L209.8,779.4L205.0,776.0L200.2,779.2Z"/>
<path fill="#4099ff" d="M195.5,782.2L200.2,779.2L195.5,775.7L190.7,778.7Z"/>
<path fill="#3f9dff" d="M185.9,781.6L190.7,778.7L185.9,775.2L181.1,778.1Z"/>
<path fill="#3da2ff" d="M176.3,780.7L181.1,778.1L176.3,774.5L171.5,777.2Z"/>
<path fill="#3caaff" d="M166.8,779.7L171.5,777.2L166.7,773.5L162.0,776.1Z"/>
<path fill="#4591ff" d="M257.5,784.5L262.3,780.6L257.6,777.6L252.8,781.5Z"/>
<path fill="#36efff" d="M118.7,771.4L123.5,769.7L118.7,765.8L113.9,767.6Z"/>
<path fill="#3bb2ff" d="M157.2,778.5L162.0,776.1L157.2,772.4L152.4,774.8Z"/>
<path fill="#37ddff" d="M128.4,773.5L133.2,771.6L128.3,767.8L123.5,769.7Z"/>
<path fill="#3abdff" d="M147.6,777.0L152.4,774.8L147.6,771.1L142.8,773.3Z"/>
<path fill="#38ccff" d="M138.0,775.4L142.8,773.3L137.9,769.5L133.2,771.6Z"/>
<path fill="#448bff" d="M247.9,785.2L252.8,781.5L248.0,778.4L243.2,782.1Z"/>
<path fill="#4487ff" d="M238.4,785.7L243.2,782.1L238.5,778.9L233.6,782.6Z"/>
<path fill="#4384ff" d="M228.8,786.0L233.6,782.6L228.9,779.3L224.1,782.8Z"/>
<path fill="#4284ff" d="M219.3,786.1L224.1,782.8L219.3,779.5L214.5,782.8Z"/>
<path fill="#4184ff" d="M209.8,785.9L214.5,782.8L209.8,779.4L205.0,782.6Z"/>
<path fill="#4087ff" d="M200.2,785.6L205.0,782.6L200.2,779.2L195.5,782.2Z"/>
<path fill="#3f8bff" d="M190.7,785.0L195.5,782.2L190.7,778.7L185.9,781.6Z"/>
<path fill="#4582ff" d="M262.2,787.5L267.1,783.6L262.3,780.6L257.5,784.5Z"/>
<path fill="#3d90ff" d="M181.1,784.2L185.9,781.6L181.1,778.1L176.3,780.7Z"/>
<path fill="#3c97ff" d="M171.6,783.2L176.3,780.7L171.5,777.2L166.8,779.7Z"/>
<path fill="#3b9fff" d="M162.0,782.0L166.8,779.7L162.0,776.1L157.2,778.5Z"/>
<path fill="#34eaff" d="M113.9,772.9L118.7,771.4L113.9,767.6L109.1,769.1Z"/>
<path fill="#457cff" d="M252.7,788.2L257.5,784.5L252.8,781.5L247.9,785.2Z"/>
<path fill="#3aa9ff" d="M152.4,780.6L157.2,778.5L152.4,774.8L147.6,777.0Z"/>
<path fill="#36d6ff" d="M123.6,775.2L128.4,773.5L123.5,769.7L118.7,771.4Z"/>
<path fill="#38b4ff" d="M142.8,779.0L147.6,777.0L142.8,773.3L138.0,775.4Z"/>
<path fill="#37c4ff" d="M133.2,777.2L138.0,775.4L133.2,771.6L128.4,773.5Z"/>
<path fill="#4477ff" d="M243.1,788.8L247.9,785.2L243.2,782.1L238.4,785.7Z"/>
<path fill="#4374ff" d="M233.6,789.1L238.4,785.7L233.6,782.6L228.8,786.0Z"/>
<path fill="#4273ff" d="M224.0,789.2L228.8,786.0L224.1,782.8L219.3,786.1Z"/>
<path fill="#4174ff" d="M214.5,789.1L219.3,786.1L214.5,782.8L209.8,785.9Z"/>
<path fill="#4076ff" d="M205.0,788.8L209.8,785.9L205.0,782.6L200.2,785.6Z"/>
<path fill="#4574ff" d="M266.9,790.3L271.8,786.5L267.1,783.6L262.2,787.5Z"/>
<path fill="#3f79ff" d="M195.4,788.3L200.2,785.6L195.5,782.2L190.7,785.0Z"/>
<path fill="#3d7fff" d="M185.9,787.6L190.7,785.0L185.9,781.6L181.1,784.2Z"/>
<path fill="#456dff" d="M257.4,791.1L262.2,787.5L257.5,784.5L252.7,788.2Z"/>
<path fill="#3c85ff" d="M176.4,786.7L181.1,784.2L176.3,780.7L171.6,783.2Z"/>
<path fill="#3b8dff" d="M166.8,785.5L171.6,783.2L166.8,779.7L162.0,782.0Z"/>
<path fill="#3a97ff" d="M157.2,784.1L162.0,782.0L157.2,778.5L152.4,780.6Z"/>
<path fill="#33e7ff" d="M109.1,774.2L113.9,772.9L109.1,769.1L104.3,770.5Z"/>
<path fill="#38a2ff" d="M147.7,782.6L152.4,780.6L147.6,777.0L142.8,779.0Z"/>
<path fill="#34d2ff" d="M118.8,776.6L123.6,775.2L118.7,771.4L113.9,772.9Z"/>
<path fill="#37aeff" d="M138.1,780.8L142.8,779.0L138.0,775.4L133.2,777.2Z"/>
<path fill="#36beff" d="M128.4,778.8L133.2,777.2L128.4,773.5L123.6,775.2Z"/>
<path fill="#4468ff" d="M247.8,791.7L252.7,788.2L247.9,785.2L243.1,788.8Z"/>
<path fill="#4365ff" d="M238.3,792.1L243.1,788.8L238.4,785.7L233.6,789.1Z"/>
<path fill="#4264ff" d="M228.8,792.3L233.6,789.1L228.8,786.0L224.0,789.2Z"/>
<path fill="#4164ff" d="M219.3,792.3L224.0,789.2L219.3,786.1L214.5,789.1Z"/>
<path fill="#4567ff" d="M271.7,793.1L276.5,789.3L271.8,786.5L266.9,790.3Z"/>
<path fill="#4066ff" d="M209.7,792.0L214.5,789.1L209.8,785.9L205.0,788.8Z"/>
<path fill="#3f69ff" d="M200.2,791.5L205.0,788.8L200.2,785.6L195.4,788.3Z"/>
<path fill="#4560ff" d="M262.1,793.9L266.9,790.3L262.2,787.5L257.4,791.1Z"/>
<path fill="#3d6eff" d="M190.7,790.9L195.4,788.3L190.7,785.0L185.9,787.6Z"/>
<path fill="#3c75ff" d="M181.1,790.0L185.9,787.6L181.1,784.2L176.4,786.7Z"/>
<path fill="#445bff" d="M252.6,794.6L257.4,791.1L252.7,788.2L247.8,791.7Z"/>
<path fill="#3b7cff" d="M171.6,788.9L176.4,786.7L171.6,783.2L166.8,785.5Z"/>
<path fill="#3986ff" d="M162.0,787.6L166.8,785.5L162.0,782.0L157.2,784.1Z"/>
<path fill="#3890ff" d="M152.5,786.0L157.2,784.1L152.4,780.6L147.7,782.6Z"/>
<path fill="#31e6ff" d="M104.3,775.3L109.1,774.2L104.3,770.5L99.5,771.6Z"/>
<path fill="#379cff" d="M142.9,784.3L147.7,782.6L142.8,779.0L138.1,780.8Z"/>
<path fill="#32cfff" d="M114.0,777.9L118.8,776.6L113.9,772.9L109.1,774.2Z"/>
<path fill="#35a9ff" d="M133.3,782.4L138.1,780.8L133.2,777.2L128.4,778.8Z"/>
<path fill="#34baff" d="M123.6,780.2L128.4,778.8L123.6,775.2L118.8,776.6Z"/>
<path fill="#4357ff" d="M243.0,795.0L247.8,791.7L243.1,788.8L238.3,792.1Z"/>
<path fill="#4256ff" d="M233.5,795.3L238.3,792.1L233.6,789.1L228.8,792.3Z"/>
<path fill="#4156ff" d="M224.0,795.3L228.8,792.3L224.0,789.2L219.3,792.3Z"/>
<path fill="#455aff" d="M276.4,795.7L281.2,792.0L276.5,789.3L271.7,793.1Z"/>
<path fill="#4057ff" d="M214.5,795.1L219.3,792.3L214.5,789.1L209.7,792.0Z"/>
<path fill="#4553ff" d="M266.8,796.7L271.7,793.1L266.9,790.3L262.1,793.9Z"/>
<path fill="#3e5aff" d="M205.0,794.7L209.7,792.0L205.0,788.8L200.2,791.5Z"/>
<path fill="#3d5fff" d="M195.4,794.1L200.2,791.5L195.4,788.3L190.7,790.9Z"/>
<path fill="#444eff" d="M257.3,797.4L262.1,793.9L257.4,791.1L252.6,794.6Z"/>
<path fill="#3c65ff" d="M185.9,793.2L190.7,790.9L185.9,787.6L181.1,790.0Z"/>
<path fill="#3b6dff" d="M176.4,792.2L181.1,790.0L176.4,786.7L171.6,788.9Z"/>
<path fill="#3976ff" d="M166.8,790.9L171.6,788.9L166.8,785.5L162.0,787.6Z"/>
<path fill="#434aff" d="M247.8,797.9L252.6,794.6L247.8,791.7L243.0,795.0Z"/>
<path fill="#3880ff" d="M157.3,789.4L162.0,787.6L157.2,784.1L152.5,786.0Z"/>
<path fill="#2fe7ff" d="M99.5,776.1L104.3,775.3L99.5,771.6L94.6,772.5Z"/>
<path fill="#378cff" d="M147.7,787.7L152.5,786.0L147.7,782.6L142.9,784.3Z"/>
<path fill="#31cfff" d="M109.2,778.9L114.0,777.9L109.1,774.2L104.3,775.3Z"/>
<path fill="#3599ff" d="M138.1,785.8L142.9,784.3L138.1,780.8L133.3,782.4Z"/>
<path fill="#32b9ff" d="M118.9,781.4L123.6,780.2L118.8,776.6L114.0,777.9Z"/>
<path fill="#34a7ff" d="M128.5,783.7L133.3,782.4L128.4,778.8L123.6,780.2Z"/>
<path fill="#4248ff" d="M238.2,798.2L243.0,795.0L238.3,792.1L233.5,795.3Z"/>
<path fill="#4550ff" d="M281.1,798.3L285.9,794.6L281.2,792.0L276.4,795.7Z"/>
<path fill="#4148ff" d="M228.7,798.2L233.5,795.3L228.8,792.3L224.0,795.3Z"/>
<path fill="#3f49ff" d="M219.2,798.1L224.0,795.3L219.3,792.3L214.5,795.1Z"/>
<path fill="#4548ff" d="M271.5,799.3L276.4,795.7L271.7,793.1L266.8,796.7Z"/>
<path fill="#3e4cff" d="M209.7,797.7L214.5,795.1L209.7,792.0L205.0,794.7Z"/>
<path fill="#3d50ff" d="M200.2,797.2L205.0,794.7L200.2,791.5L195.4,794.1Z"/>
<path fill="#4444ff" d="M262.0,800.0L266.8,796.7L262.1,793.9L257.3,797.4Z"/>
<path fill="#3c56ff" d="M190.7,796.4L195.4,794.1L190.7,790.9L185.9,793.2Z"/>
<path fill="#3a5eff" d="M181.1,795.4L185.9,793.2L181.1,790.0L176.4,792.2Z"/>
<path fill="#4343ff" d="M252.5,800.6L257.3,797.4L252.6,794.6L247.8,797.9Z"/>
<path fill="#3966ff" d="M171.6,794.1L176.4,792.2L171.6,788.9L166.8,790.9Z"/>
<path fill="#3871ff" d="M162.1,792.7L166.8,790.9L162.0,787.6L157.3,789.4Z"/>
<path fill="#4242ff" d="M243.0,800.9L247.8,797.9L243.0,795.0L238.2,798.2Z"/>
<path fill="#367cff" d="M152.5,791.1L157.3,789.4L152.5,786.0L147.7,787.7Z"/>
<path fill="#2deaff" d="M94.7,776.8L99.5,776.1L94.6,772.5L89.8,773.2Z"/>
<path fill="#3589ff" d="M142.9,789.2L147.7,787.7L142.9,784.3L138.1,785.8Z"/>
<path fill="#2fd1ff" d="M104.4,779.7L109.2,778.9L104.3,775.3L99.5,776.1Z"/>
<path fill="#3397ff" d="M133.3,787.1L138.1,785.8L133.3,782.4L128.5,783.7Z"/>
<path fill="#4546ff" d="M285.8,800.7L290.6,797.1L285.9,794.6L281.1,798.3Z"/>
<path fill="#30baff" d="M114.0,782.4L118.9,781.4L114.0,777.9L109.2,778.9Z"/>
<path fill="#32a6ff" d="M123.7,784.9L128.5,783.7L123.6,780.2L118.9,781.4Z"/>
<path fill="#4040ff" d="M233.5,801.1L238.2,798.2L233.5,795.3L228.7,798.2Z"/>
<path fill="#4444ff" d="M276.3,801.8L281.1,798.3L276.4,795.7L271.5,799.3Z"/>
<path fill="#3f3fff" d="M224.0,801.0L228.7,798.2L224.0,795.3L219.2,798.1Z"/>
<path fill="#3e3fff" d="M214.5,800.7L219.2,798.1L214.5,795.1L209.7,797.7Z"/>
<path fill="#4343ff" d="M266.7,802.6L271.5,799.3L266.8,796.7L262.0,800.0Z"/>
<path fill="#3d43ff" d="M204.9,800.1L209.7,797.7L205.0,794.7L200.2,797.2Z"/>
<path fill="#3c49ff" d="M195.4,799.4L200.2,797.2L195.4,794.1L190.7,796.4Z"/>
<path fill="#4242ff" d="M257.2,803.2L262.0,800.0L257.3,797.4L252.5,800.6Z"/>
<path fill="#3a50ff" d="M185.9,798.5L190.7,796.4L185.9,793.2L181.1,795.4Z"/>
<path fill="#3958ff" d="M176.4,797.3L181.1,795.4L176.4,792.2L171.6,794.1Z"/>
<path fill="#4141ff" d="M247.7,803.6L252.5,800.6L247.8,797.9L243.0,800.9Z"/>
<path fill="#3762ff" d="M166.8,795.9L171.6,794.1L166.8,790.9L162.1,792.7Z"/>
<path fill="#366dff" d="M157.3,794.3L162.1,792.7L157.3,789.4L152.5,791.1Z"/>
<path fill="#4040ff" d="M238.2,803.8L243.0,800.9L238.2,798.2L233.5,801.1Z"/>
<path fill="#347aff" d="M147.7,792.5L152.5,791.1L147.7,787.7L142.9,789.2Z"/>
<path fill="#2befff" d="M89.8,777.2L94.7,776.8L89.8,773.2L85.0,773.7Z"/>
<path fill="#3388ff" d="M138.1,790.5L142.9,789.2L138.1,785.8L133.3,787.1Z"/>
<path fill="#2dd5ff" d="M99.6,780.3L104.4,779.7L99.5,776.1L94.7,776.8Z"/>
<path fill="#3197ff" d="M128.5,788.2L133.3,787.1L128.5,783.7L123.7,784.9Z"/>
<path fill="#2ebdff" d="M109.2,783.1L114.0,782.4L109.2,778.9L104.4,779.7Z"/>
<path fill="#30a7ff" d="M118.9,785.8L123.7,784.9L118.9,781.4L114.0,782.4Z"/>
<path fill="#4444ff" d="M281.0,804.2L285.8,800.7L281.1,798.3L276.3,801.8Z"/>
<path fill="#3f3fff" d="M228.7,803.8L233.5,801.1L228.7,798.2L224.0,801.0Z"/>
<path fill="#3e3eff" d="M219.2,803.5L224.0,801.0L219.2,798.1L214.5,800.7Z"/>
<path fill="#4343ff" d="M271.5,805.1L276.3,801.8L271.5,799.3L266.7,802.6Z"/>
<path fill="#3d3dff" d="M209.7,803.0L214.5,800.7L209.7,797.7L204.9,800.1Z"/>
<path fill="#4242ff" d="M261.9,805.7L266.7,802.6L262.0,800.0L257.2,803.2Z"/>
<path fill="#3b3cff" d="M200.2,802.4L204.9,800.1L200.2,797.2L195.4,799.4Z"/>
<path fill="#3a43ff" d="M190.7,801.5L195.4,799.4L190.7,796.4L185.9,798.5Z"/>
<path fill="#4141ff" d="M252.4,806.2L257.2,803.2L252.5,800.6L247.7,803.6Z"/>
<path fill="#384bff" d="M181.1,800.3L185.9,798.5L181.1,795.4L176.4,797.3Z"/>
<path fill="#3755ff" d="M171.6,799.0L176.4,797.3L171.6,794.1L166.8,795.9Z"/>
<path fill="#4040ff" d="M242.9,806.4L247.7,803.6L243.0,800.9L238.2,803.8Z"/>
<path fill="#3660ff" d="M162.1,797.4L166.8,795.9L162.1,792.7L157.3,794.3Z"/>
<path fill="#346cff" d="M152.5,795.7L157.3,794.3L152.5,791.1L147.7,792.5Z"/>
<path fill="#29f6ff" d="M85.0,777.4L89.8,777.2L85.0,773.7L80.1,773.9Z"/>
<path fill="#337aff" d="M142.9,793.7L147.7,792.5L142.9,789.2L138.1,790.5Z"/>
<path fill="#3f3fff" d="M233.4,806.4L238.2,803.8L233.5,801.1L228.7,803.8Z"/>
<path fill="#2bdbff" d="M94.7,780.6L99.6,780.3L94.7,776.8L89.8,777.2Z"/>
<path fill="#3188ff" d="M133.3,791.5L138.1,790.5L133.3,787.1L128.5,788.2Z"/>
<path fill="#2cc2ff" d="M104.4,783.7L109.2,783.1L104.4,779.7L99.6,780.3Z"/>
<path fill="#3098ff" d="M123.7,789.1L128.5,788.2L123.7,784.9L118.9,785.8Z"/>
<path fill="#2eaaff" d="M114.1,786.5L118.9,785.8L114.0,782.4L109.2,783.1Z"/>
<path fill="#4343ff" d="M276.2,807.4L281.0,804.2L276.3,801.8L271.5,805.1Z"/>
<path fill="#3e3eff" d="M223.9,806.2L228.7,803.8L224.0,801.0L219.2,803.5Z"/>
<path fill="#3c3cff" d="M214.4,805.8L219.2,803.5L214.5,800.7L209.7,803.0Z"/>
<path fill="#4242ff" d="M266.7,808.1L271.5,805.1L266.7,802.6L261.9,805.7Z"/>
<path fill="#3b3bff" d="M204.9,805.2L209.7,803.0L204.9,800.1L200.2,802.4Z"/>
<path fill="#4141ff" d="M257.2,808.6L261.9,805.7L257.2,803.2L252.4,806.2Z"/>
<path fill="#3a3aff" d="M195.4,804.3L200.2,802.4L195.4,799.4L190.7,801.5Z"/>
<path fill="#383fff" d="M185.9,803.3L190.7,801.5L185.9,798.5L181.1,800.3Z"/>
<path fill="#4040ff" d="M247.7,808.9L252.4,806.2L247.7,803.6L242.9,806.4Z"/>
<path fill="#3749ff" d="M176.4,802.0L181.1,800.3L176.4,797.3L171.6,799.0Z"/>
<path fill="#3553ff" d="M166.8,800.5L171.6,799.0L166.8,795.9L162.1,797.4Z"/>
<path fill="#3f3fff" d="M238.2,809.0L242.9,806.4L238.2,803.8L233.4,806.4Z"/>
<path fill="#345fff" d="M157.3,798.8L162.1,797.4L157.3,794.3L152.5,795.7Z"/>
<path fill="#326dff" d="M147.7,796.8L152.5,795.7L147.7,792.5L142.9,793.7Z"/>
<path fill="#317bff" d="M138.1,794.7L142.9,793.7L138.1,790.5L133.3,791.5Z"/>
<path fill="#29e3ff" d="M89.9,780.7L94.7,780.6L89.8,777.2L85.0,777.4Z"/>
<path fill="#2f8bff" d="M128.5,792.3L133.3,791.5L128.5,788.2L123.7,789.1Z"/>
<path fill="#3d3dff" d="M228.7,808.9L233.4,806.4L228.7,803.8L223.9,806.2Z"/>
<path fill="#2ac9ff" d="M99.6,783.9L104.4,783.7L99.6,780.3L94.7,780.6Z"/>
<path fill="#2e9bff" d="M118.9,789.7L123.7,789.1L118.9,785.8L114.1,786.5Z"/>
<path fill="#2cb0ff" d="M109.3,787.0L114.1,786.5L109.2,783.1L104.4,783.7Z"/>
<path fill="#4242ff" d="M271.4,810.4L276.2,807.4L271.5,805.1L266.7,808.1Z"/>
<path fill="#3c3cff" d="M219.2,808.5L223.9,806.2L219.2,803.5L214.4,805.8Z"/>
<path fill="#3b3bff" d="M209.7,807.9L214.4,805.8L209.7,803.0L204.9,805.2Z"/>
<path fill="#4141ff" d="M261.9,811.0L266.7,808.1L261.9,805.7L257.2,808.6Z"/>
<path fill="#3939ff" d="M200.2,807.1L204.9,805.2L200.2,802.4L195.4,804.3Z"/>
<path fill="#3f3fff" d="M252.4,811.4L257.2,808.6L252.4,806.2L247.7,808.9Z"/>
<path fill="#3838ff" d="M190.7,806.1L195.4,804.3L190.7,801.5L185.9,803.3Z"/>
<path fill="#363dff" d="M181.2,804.9L185.9,803.3L181.1,800.3L176.4,802.0Z"/>
<path fill="#3e3eff" d="M242.9,811.5L247.7,808.9L242.9,806.4L238.2,809.0Z"/>
<path fill="#3548ff" d="M171.6,803.4L176.4,802.0L171.6,799.0L166.8,800.5Z"/>
<path fill="#3353ff" d="M162.1,801.8L166.8,800.5L162.1,797.4L157.3,798.8Z"/>
<path fill="#3d3dff" d="M233.4,811.4L238.2,809.0L233.4,806.4L228.7,808.9Z"/>
<path fill="#3260ff" d="M152.5,799.9L157.3,798.8L152.5,795.7L147.7,796.8Z"/>
<path fill="#306fff" d="M142.9,797.8L147.7,796.8L142.9,793.7L138.1,794.7Z"/>
<path fill="#2f7eff" d="M133.4,795.4L138.1,794.7L133.3,791.5L128.5,792.3Z"/>
<path fill="#2d8eff" d="M123.7,792.9L128.5,792.3L123.7,789.1L118.9,789.7Z"/>
<path fill="#28d2ff" d="M94.7,784.0L99.6,783.9L94.7,780.6L89.9,780.7Z"/>
<path fill="#2ca0ff" d="M114.1,790.2L118.9,789.7L114.1,786.5L109.3,787.0Z"/>
<path fill="#2ab8ff" d="M104.4,787.2L109.3,787.0L104.4,783.7L99.6,783.9Z"/>
<path fill="#3c3cff" d="M223.9,811.1L228.7,808.9L223.9,806.2L219.2,808.5Z"/>
<path fill="#4040ff" d="M266.6,813.3L271.4,810.4L266.7,808.1L261.9,811.0Z"/>
<path fill="#3a3aff" d="M214.4,810.6L219.2,808.5L214.4,805.8L209.7,807.9Z"/>
<path fill="#3939ff" d="M204.9,809.8L209.7,807.9L204.9,805.2L200.2,807.1Z"/>
<path fill="#3f3fff" d="M257.1,813.7L261.9,811.0L257.2,808.6L252.4,811.4Z"/>
<path fill="#3737ff" d="M195.4,808.9L200.2,807.1L195.4,804.3L190.7,806.1Z"/>
<path fill="#3e3eff" d="M247.6,813.9L252.4,811.4L247.7,808.9L242.9,811.5Z"/>
<path fill="#3636ff" d="M185.9,807.7L190.7,806.1L185.9,803.3L181.2,804.9Z"/>
<path fill="#343dff" d="M176.4,806.3L181.2,804.9L176.4,802.0L171.6,803.4Z"/>
<path fill="#3c3cff" d="M238.1,813.8L242.9,811.5L238.2,809.0L233.4,811.4Z"/>
<path fill="#3349ff" d="M166.9,804.6L171.6,803.4L166.8,800.5L162.1,801.8Z"/>
<path fill="#3155ff" d="M157.3,802.8L162.1,801.8L157.3,798.8L152.5,799.9Z"/>
<path fill="#3063ff" d="M147.7,800.7L152.5,799.9L147.7,796.8L142.9,797.8Z"/>
<path fill="#3b3bff" d="M228.6,813.6L233.4,811.4L228.7,808.9L223.9,811.1Z"/>
<path fill="#2e72ff" d="M138.2,798.5L142.9,797.8L138.1,794.7L133.4,795.4Z"/>
<path fill="#2d82ff" d="M128.5,796.0L133.4,795.4L128.5,792.3L123.7,792.9Z"/>
<path fill="#2b94ff" d="M118.9,793.3L123.7,792.9L118.9,789.7L114.1,790.2Z"/>
<path fill="#28c2ff" d="M99.6,787.2L104.4,787.2L99.6,783.9L94.7,784.0Z"/>
<path fill="#29a9ff" d="M109.3,790.3L114.1,790.2L109.3,787.0L104.4,787.2Z"/>
<path fill="#3a3aff" d="M219.2,813.1L223.9,811.1L219.2,808.5L214.4,810.6Z"/>
<path fill="#3f3fff" d="M261.8,815.9L266.6,813.3L261.9,811.0L257.1,813.7Z"/>
<path fill="#3838ff" d="M209.7,812.4L214.4,810.6L209.7,807.9L204.9,809.8Z"/>
<path fill="#3737ff" d="M200.2,811.5L204.9,809.8L200.2,807.1L195.4,808.9Z"/>
<path fill="#3d3dff" d="M252.3,816.1L257.1,813.7L252.4,811.4L247.6,813.9Z"/>
<path fill="#3535ff" d="M190.7,810.4L195.4,808.9L190.7,806.1L185.9,807.7Z"/>
<path fill="#3434ff" d="M181.2,809.0L185.9,807.7L181.2,804.9L176.4,806.3Z"/>
<path fill="#3c3cff" d="M242.9,816.1L247.6,813.9L242.9,811.5L238.1,813.8Z"/>
<path fill="#323fff" d="M171.6,807.4L176.4,806.3L171.6,803.4L166.9,804.6Z"/>
<path fill="#3b3bff" d="M233.4,815.9L238.1,813.8L233.4,811.4L228.6,813.6Z"/>
<path fill="#314bff" d="M162.1,805.6L166.9,804.6L162.1,801.8L157.3,802.8Z"/>
<path fill="#2f59ff" d="M152.5,803.6L157.3,802.8L152.5,799.9L147.7,800.7Z"/>
<path fill="#2e68ff" d="M143.0,801.4L147.7,800.7L142.9,797.8L138.2,798.5Z"/>
<path fill="#3939ff" d="M223.9,815.5L228.6,813.6L223.9,811.1L219.2,813.1Z"/>
<path fill="#2c77ff" d="M133.4,798.9L138.2,798.5L133.4,795.4L128.5,796.0Z"/>
<path fill="#2a88ff" d="M123.7,796.3L128.5,796.0L123.7,792.9L118.9,793.3Z"/>
<path fill="#299aff" d="M114.1,793.4L118.9,793.3L114.1,790.2L109.3,790.3Z"/>
<path fill="#27b3ff" d="M104.4,790.3L109.3,790.3L104.4,787.2L99.6,787.2Z"/>
<path fill="#3838ff" d="M214.4,814.9L219.2,813.1L214.4,810.6L209.7,812.4Z"/>
<path fill="#3d3dff" d="M257.1,818.3L261.8,815.9L257.1,813.7L252.3,816.1Z"/>
<path fill="#3636ff" d="M204.9,814.0L209.7,812.4L204.9,809.8L200.2,811.5Z"/>
<path fill="#3535ff" d="M195.4,812.9L200.2,811.5L195.4,808.9L190.7,810.4Z"/>
<path fill="#3b3bff" d="M247.6,818.3L252.3,816.1L247.6,813.9L242.9,816.1Z"/>
<path fill="#3333ff" d="M185.9,811.6L190.7,810.4L185.9,807.7L181.2,809.0Z"/>
<path fill="#3236ff" d="M176.4,810.1L181.2,809.0L176.4,806.3L171.6,807.4Z"/>
<path fill="#3a3aff" d="M238.1,818.2L242.9,816.1L238.1,813.8L233.4,815.9Z"/>
<path fill="#3042ff" d="M166.9,808.3L171.6,807.4L166.9,804.6L162.1,805.6Z"/>
<path fill="#2f50ff" d="M157.3,806.4L162.1,805.6L157.3,802.8L152.5,803.6Z"/>
<path fill="#3939ff" d="M228.6,817.8L233.4,815.9L228.6,813.6L223.9,815.5Z"/>
<path fill="#2d5eff" d="M147.7,804.2L152.5,803.6L147.7,800.7L143.0,801.4Z"/>
<path fill="#2b6eff" d="M138.2,801.8L143.0,801.4L138.2,798.5L133.4,798.9Z"/>
<path fill="#3737ff" d="M219.2,817.2L223.9,815.5L219.2,813.1L214.4,814.9Z"/>
<path fill="#2a7eff" d="M128.5,799.1L133.4,798.9L128.5,796.0L123.7,796.3Z"/>
<path fill="#2890ff" d="M118.9,796.3L123.7,796.3L118.9,793.3L114.1,793.4Z"/>
<path fill="#27a6ff" d="M109.2,793.2L114.1,793.4L109.3,790.3L104.4,790.3Z"/>
<path fill="#3636ff" d="M209.7,816.4L214.4,814.9L209.7,812.4L204.9,814.0Z"/>
<path fill="#3434ff" d="M200.2,815.4L204.9,814.0L200.2,811.5L195.4,812.9Z"/>
<path fill="#3b3bff" d="M252.3,820.4L257.1,818.3L252.3,816.1L247.6,818.3Z"/>
<path fill="#3333ff" d="M190.7,814.1L195.4,812.9L190.7,810.4L185.9,811.6Z"/>
<path fill="#3939ff" d="M242.9,820.3L247.6,818.3L242.9,816.1L238.1,818.2Z"/>
<path fill="#3131ff" d="M181.2,812.7L185.9,811.6L181.2,809.0L176.4,810.1Z"/>
<path fill="#2f3aff" d="M171.6,811.0L176.4,810.1L171.6,807.4L166.9,808.3Z"/>
<path fill="#3838ff" d="M233.4,820.0L238.1,818.2L233.4,815.9L228.6,817.8Z"/>
<path fill="#2e47ff" d="M162.1,809.0L166.9,808.3L162.1,805.6L157.3,806.4Z"/>
<path fill="#2c55ff" d="M152.5,806.9L157.3,806.4L152.5,803.6L147.7,804.2Z"/>
<path fill="#3737ff" d="M223.9,819.5L228.6,817.8L223.9,815.5L219.2,817.2Z"/>
<path fill="#2b65ff" d="M142.9,804.5L147.7,804.2L143.0,801.4L138.2,801.8Z"/>
<path fill="#2975ff" d="M133.3,801.9L138.2,801.8L133.4,798.9L128.5,799.1Z"/>
<path fill="#2886ff" d="M123.7,799.1L128.5,799.1L123.7,796.3L118.9,796.3Z"/>
<path fill="#3535ff" d="M214.4,818.7L219.2,817.2L214.4,814.9L209.7,816.4Z"/>
<path fill="#2699ff" d="M114.1,796.1L118.9,796.3L114.1,793.4L109.2,793.2Z"/>
<path fill="#3434ff" d="M204.9,817.7L209.7,816.4L204.9,814.0L200.2,815.4Z"/>
<path fill="#3232ff" d="M195.4,816.5L200.2,815.4L195.4,812.9L190.7,814.1Z"/>
<path fill="#3939ff" d="M247.6,822.4L252.3,820.4L247.6,818.3L242.9,820.3Z"/>
<path fill="#3030ff" d="M185.9,815.1L190.7,814.1L185.9,811.6L181.2,812.7Z"/>
<path fill="#3737ff" d="M238.1,822.1L242.9,820.3L238.1,818.2L233.4,820.0Z"/>
<path fill="#2f33ff" d="M176.4,813.5L181.2,812.7L176.4,810.1L171.6,811.0Z"/>
<path fill="#2d40ff" d="M166.9,811.6L171.6,811.0L166.9,808.3L162.1,809.0Z"/>
<path fill="#3636ff" d="M228.6,821.6L233.4,820.0L228.6,817.8L223.9,819.5Z"/>
<path fill="#2c4eff" d="M157.3,809.5L162.1,809.0L157.3,806.4L152.5,806.9Z"/>
<path fill="#2a5dff" d="M147.7,807.2L152.5,806.9L147.7,804.2L142.9,804.5Z"/>
<path fill="#3434ff" d="M219.2,820.9L223.9,819.5L219.2,817.2L214.4,818.7Z"/>
<path fill="#296dff" d="M138.1,804.6L142.9,804.5L138.2,801.8L133.3,801.9Z"/>
<path fill="#277eff" d="M128.5,801.9L133.3,801.9L128.5,799.1L123.7,799.1Z"/>
<path fill="#258fff" d="M118.9,798.9L123.7,799.1L118.9,796.3L114.1,796.1Z"/>
<path fill="#3333ff" d="M209.7,820.0L214.4,818.7L209.7,816.4L204.9,817.7Z"/>
<path fill="#3131ff" d="M200.2,818.8L204.9,817.7L200.2,815.4L195.4,816.5Z"/>
<path fill="#3030ff" d="M190.7,817.5L195.4,816.5L190.7,814.1L185.9,815.1Z"/>
<path fill="#3737ff" d="M242.9,824.1L247.6,822.4L242.9,820.3L238.1,822.1Z"/>
<path fill="#2e2eff" d="M181.2,815.8L185.9,815.1L181.2,812.7L176.4,813.5Z"/>
<path fill="#3535ff" d="M233.4,823.7L238.1,822.1L233.4,820.0L228.6,821.6Z"/>
<path fill="#2d39ff" d="M171.6,814.0L176.4,813.5L171.6,811.0L166.9,811.6Z"/>
<path fill="#2b47ff" d="M162.1,812.0L166.9,811.6L162.1,809.0L157.3,809.5Z"/>
<path fill="#3434ff" d="M223.9,823.0L228.6,821.6L223.9,819.5L219.2,820.9Z"/>
<path fill="#2956ff" d="M152.5,809.7L157.3,809.5L152.5,806.9L147.7,807.2Z"/>
<path fill="#2865ff" d="M142.9,807.2L147.7,807.2L142.9,804.5L138.1,804.6Z"/>
<path fill="#3232ff" d="M214.4,822.1L219.2,820.9L214.4,818.7L209.7,820.0Z"/>
<path fill="#2676ff" d="M133.3,804.5L138.1,804.6L133.3,801.9L128.5,801.9Z"/>
<path fill="#2587ff" d="M123.7,801.5L128.5,801.9L123.7,799.1L118.9,798.9Z"/>
<path fill="#3131ff" d="M204.9,821.0L209.7,820.0L204.9,817.7L200.2,818.8Z"/>
<path fill="#2f2fff" d="M195.4,819.7L200.2,818.8L195.4,816.5L190.7,817.5Z"/>
<path fill="#2d2dff" d="M185.9,818.1L190.7,817.5L185.9,815.1L181.2,815.8Z"/>
<path fill="#3434ff" d="M238.1,825.6L242.9,824.1L238.1,822.1L233.4,823.7Z"/>
<path fill="#2c34ff" d="M176.4,816.3L181.2,815.8L176.4,813.5L171.6,814.0Z"/>
<path fill="#3333ff" d="M228.6,825.0L233.4,823.7L228.6,821.6L223.9,823.0Z"/>
<path fill="#2a41ff" d="M166.9,814.3L171.6,814.0L166.9,811.6L162.1,812.0Z"/>
<path fill="#294fff" d="M157.3,812.1L162.1,812.0L157.3,809.5L152.5,809.7Z"/>
<path fill="#3131ff" d="M219.2,824.1L223.9,823.0L219.2,820.9L214.4,822.1Z"/>
<path fill="#275fff" d="M147.7,809.7L152.5,809.7L147.7,807.2L142.9,807.2Z"/>
<path fill="#266fff" d="M138.1,807.0L142.9,807.2L138.1,804.6L133.3,804.5Z"/>
<path fill="#2480fe" d="M128.5,804.1L133.3,804.5L128.5,801.9L123.7,801.5Z"/>
<path fill="#3030ff" d="M209.7,823.1L214.4,822.1L209.7,820.0L204.9,821.0Z"/>
<path fill="#2e2eff" d="M200.2,821.8L204.9,821.0L200.2,818.8L195.4,819.7Z"/>
<path fill="#2d2dff" d="M190.7,820.3L195.4,819.7L190.7,817.5L185.9,818.1Z"/>
<path fill="#2b2fff" d="M181.2,818.6L185.9,818.1L181.2,815.8L176.4,816.3Z"/>
<path fill="#3232ff" d="M233.4,826.8L238.1,825.6L233.4,823.7L228.6,825.0Z"/>
<path fill="#2a3cff" d="M171.6,816.6L176.4,816.3L171.6,814.0L166.9,814.3Z"/>
<path fill="#284aff" d="M162.1,814.4L166.9,814.3L162.1,812.0L157.3,812.1Z"/>
<path fill="#3131ff" d="M223.9,826.0L228.6,825.0L223.9,823.0L219.2,824.1Z"/>
<path fill="#2659ff" d="M152.5,812.0L157.3,812.1L152.5,809.7L147.7,809.7Z"/>
<path fill="#2569ff" d="M142.9,809.4L147.7,809.7L142.9,807.2L138.1,807.0Z"/>
<path fill="#2f2fff" d="M214.4,825.0L219.2,824.1L214.4,822.1L209.7,823.1Z"/>
<path fill="#237afc" d="M133.3,806.5L138.1,807.0L133.3,804.5L128.5,804.1Z"/>
<path fill="#2d2dff" d="M204.9,823.8L209.7,823.1L204.9,821.0L200.2,821.8Z"/>
<path fill="#2c2cff" d="M195.4,822.3L200.2,821.8L195.4,819.7L190.7,820.3Z"/>
<path fill="#2a2cff" d="M185.9,820.7L190.7,820.3L185.9,818.1L181.2,818.6Z"/>
<path fill="#2938ff" d="M176.4,818.7L181.2,818.6L176.4,816.3L171.6,816.6Z"/>
<path fill="#3030ff" d="M228.7,827.8L233.4,826.8L228.6,825.0L223.9,826.0Z"/>
<path fill="#2746ff" d="M166.8,816.6L171.6,816.6L166.9,814.3L162.1,814.4Z"/>
<path fill="#2655ff" d="M157.3,814.2L162.1,814.4L157.3,812.1L152.5,812.0Z"/>
<path fill="#2e2eff" d="M219.2,826.9L223.9,826.0L219.2,824.1L214.4,825.0Z"/>
<path fill="#2464fe" d="M147.7,811.7L152.5,812.0L147.7,809.7L142.9,809.4Z"/>
<path fill="#2375fa" d="M138.1,808.8L142.9,809.4L138.1,807.0L133.3,806.5Z"/>
<path fill="#2d2dff" d="M209.7,825.7L214.4,825.0L209.7,823.1L204.9,823.8Z"/>
<path fill="#2b2bff" d="M200.2,824.3L204.9,823.8L200.2,821.8L195.4,822.3Z"/>
<path fill="#2a2aff" d="M190.7,822.6L195.4,822.3L190.7,820.3L185.9,820.7Z"/>
<path fill="#2835ff" d="M181.2,820.8L185.9,820.7L181.2,818.6L176.4,818.7Z"/>
<path fill="#2743ff" d="M171.6,818.7L176.4,818.7L171.6,816.6L166.8,816.6Z"/>
<path fill="#2d2dff" d="M223.9,828.6L228.7,827.8L223.9,826.0L219.2,826.9Z"/>
<path fill="#2551ff" d="M162.1,816.4L166.8,816.6L162.1,814.4L157.3,814.2Z"/>
<path fill="#2360fc" d="M152.5,813.8L157.3,814.2L152.5,812.0L147.7,811.7Z"/>
<path fill="#2c2cff" d="M214.4,827.4L219.2,826.9L214.4,825.0L209.7,825.7Z"/>
<path fill="#2271f8" d="M142.9,811.1L147.7,811.7L142.9,809.4L138.1,808.8Z"/>
<path fill="#2a2aff" d="M204.9,826.1L209.7,825.7L204.9,823.8L200.2,824.3Z"/>
<path fill="#2929ff" d="M195.4,824.5L200.2,824.3L195.4,822.3L190.7,822.6Z"/>
<path fill="#2733ff" d="M185.9,822.7L190.7,822.6L185.9,820.7L181.2,820.8Z"/>
<path fill="#2640ff" d="M176.4,820.6L181.2,820.8L176.4,818.7L171.6,818.7Z"/>
<path fill="#244efe" d="M166.8,818.4L171.6,818.7L166.8,816.6L162.1,816.4Z"/>
<path fill="#2b2bff" d="M219.2,829.1L223.9,828.6L219.2,826.9L214.4,827.4Z"/>
<path fill="#235dfa" d="M157.3,815.9L162.1,816.4L157.3,814.2L152.5,813.8Z"/>
<path fill="#216df5" d="M147.7,813.1L152.5,813.8L147.7,811.7L142.9,811.1Z"/>
<path fill="#2929ff" d="M209.7,827.8L214.4,827.4L209.7,825.7L204.9,826.1Z"/>
<path fill="#2828ff" d="M200.2,826.2L204.9,826.1L200.2,824.3L195.4,824.5Z"/>
<path fill="#2632ff" d="M190.7,824.5L195.4,824.5L190.7,822.6L185.9,822.7Z"/>
<path fill="#253fff" d="M181.1,822.5L185.9,822.7L181.2,820.8L176.4,820.6Z"/>
<path fill="#234cfc" d="M171.6,820.3L176.4,820.6L171.6,818.7L166.8,818.4Z"/>
<path fill="#225bf7" d="M162.0,817.8L166.8,818.4L162.1,816.4L157.3,815.9Z"/>
<path fill="#206af3" d="M152.4,815.1L157.3,815.9L152.5,813.8L147.7,813.1Z"/>
<path fill="#2929ff" d="M214.5,829.3L219.2,829.1L214.4,827.4L209.7,827.8Z"/>
<path fill="#2727ff" d="M205.0,827.9L209.7,827.8L204.9,826.1L200.2,826.2Z"/>
<path fill="#2632ff" d="M195.4,826.1L200.2,826.2L195.4,824.5L190.7,824.5Z"/>
<path fill="#243efe" d="M185.9,824.2L190.7,824.5L185.9,822.7L181.1,822.5Z"/>
<path fill="#234bf9" d="M176.4,822.0L181.1,822.5L176.4,820.6L171.6,820.3Z"/>
<path fill="#2159f5" d="M166.8,819.6L171.6,820.3L166.8,818.4L162.0,817.8Z"/>
<path fill="#2069f1" d="M157.2,817.0L162.0,817.8L157.3,815.9L152.4,815.1Z"/>
<path fill="#2628ff" d="M209.7,829.4L214.5,829.3L209.7,827.8L205.0,827.9Z"/>
<path fill="#2532ff" d="M200.2,827.7L205.0,827.9L200.2,826.2L195.4,826.1Z"/>
<path fill="#233efb" d="M190.7,825.8L195.4,826.1L190.7,824.5L185.9,824.2Z"/>
<path fill="#224bf7" d="M181.1,823.6L185.9,824.2L181.1,822.5L176.4,822.0Z"/>
<path fill="#2059f3" d="M171.6,821.3L176.4,822.0L171.6,820.3L166.8,819.6Z"/>
<path fill="#1f68ee" d="M162.0,818.7L166.8,819.6L162.0,817.8L157.2,817.0Z"/>
<path fill="#2434fd" d="M205.0,829.1L209.7,829.4L205.0,827.9L200.2,827.7Z"/>
<path fill="#223ff9" d="M195.5,827.2L200.2,827.7L195.4,826.1L190.7,825.8Z"/>
<path fill="#214cf4" d="M185.9,825.2L190.7,825.8L185.9,824.2L181.1,823.6Z"/>
<path fill="#2059f0" d="M176.4,822.8L181.1,823.6L176.4,822.0L171.6,821.3Z"/>
<path fill="#1e67ec" d="M166.8,820.3L171.6,821.3L166.8,819.6L162.0,818.7Z"/>
<path fill="#2241f6" d="M200.2,828.6L205.0,829.1L200.2,827.7L195.5,827.2Z"/>
<path fill="#204df2" d="M190.7,826.5L195.5,827.2L190.7,825.8L185.9,825.2Z"/>
<path fill="#1f5aee" d="M181.1,824.3L185.9,825.2L181.1,823.6L176.4,822.8Z"/>
<path fill="#1d68e9" d="M171.6,821.8L176.4,822.8L171.6,821.3L166.8,820.3Z"/>
<path fill="#1f4fef" d="M195.5,827.8L200.2,828.6L195.5,827.2L190.7,826.5Z"/>
<path fill="#1e5ceb" d="M185.9,825.6L190.7,826.5L185.9,825.2L181.1,824.3Z"/>
<path fill="#1d6ae7" d="M176.3,823.1L181.1,824.3L176.4,822.8L171.6,821.8Z"/>
<path fill="#1d5fe9" d="M190.7,826.7L195.5,827.8L190.7,826.5L185.9,825.6Z"/>
<path fill="#1c6ce4" d="M181.1,824.3L185.9,825.6L181.1,824.3L176.3,823.1Z"/>
<path fill="#1b6fe2" d="M185.9,825.4L190.7,826.7L185.9,825.6L181.1,824.3Z"/>
</g>
<circle cx="290.67" cy="796.65" r="2.2" fill="#cc0000" stroke="#800" stroke-width="0.5"/>
<circle cx="81.99" cy="813.63" r="1.0" fill="#000"/>
<text x="78.69" y="812.13" font-size="6.6" text-anchor="end" fill="#1a1a1a" font-family="Liberation Sans" stroke="#1a1a1a" stroke-width="0.18" textLength="10.24" lengthAdjust="spacingAndGlyphs">100</text>
<circle cx="80.72" cy="787.00" r="1.0" fill="#000"/>
<text x="77.42" y="785.50" font-size="6.6" text-anchor="end" fill="#1a1a1a" font-family="Liberation Sans" stroke="#1a1a1a" stroke-width="0.18" textLength="10.24" lengthAdjust="spacingAndGlyphs">200</text>
<circle cx="79.45" cy="760.37" r="1.0" fill="#000"/>
<text x="76.15" y="758.87" font-size="6.6" text-anchor="end" fill="#1a1a1a" font-family="Liberation Sans" stroke="#1a1a1a" stroke-width="0.18" textLength="10.24" lengthAdjust="spacingAndGlyphs">300</text>
<circle cx="78.18" cy="733.74" r="1.0" fill="#000"/>
<text x="74.88" y="732.24" font-size="6.6" text-anchor="end" fill="#1a1a1a" font-family="Liberation Sans" stroke="#1a1a1a" stroke-width="0.18" textLength="10.24" lengthAdjust="spacingAndGlyphs">400</text>
<circle cx="76.91" cy="707.11" r="1.0" fill="#000"/>
<text x="73.61" y="705.61" font-size="6.6" text-anchor="end" fill="#1a1a1a" font-family="Liberation Sans" stroke="#1a1a1a" stroke-width="0.18" textLength="10.24" lengthAdjust="spacingAndGlyphs">500</text>
<circle cx="185.91" cy="895.85" r="0.9" fill="#000"/>
<text x="180.21" y="901.35" font-size="6.6" text-anchor="middle" fill="#1a1a1a" font-family="Liberation Sans" stroke="#1a1a1a" stroke-width="0.18" textLength="6.83" lengthAdjust="spacingAndGlyphs">10</text>
<circle cx="160.33" cy="883.63" r="0.9" fill="#000"/>
<text x="154.63" y="889.13" font-size="6.6" text-anchor="middle" fill="#1a1a1a" font-family="Liberation Sans" stroke="#1a1a1a" stroke-width="0.18" textLength="6.83" lengthAdjust="spacingAndGlyphs">15</text>
<circle cx="134.75" cy="871.41" r="0.9" fill="#000"/>
<text x="129.05" y="876.91" font-size="6.6" text-anchor="middle" fill="#1a1a1a" font-family="Liberation Sans" stroke="#1a1a1a" stroke-width="0.18" textLength="6.83" lengthAdjust="spacingAndGlyphs">20</text>
<circle cx="109.16" cy="859.19" r="0.9" fill="#000"/>
<text x="103.46" y="864.69" font-size="6.6" text-anchor="middle" fill="#1a1a1a" font-family="Liberation Sans" stroke="#1a1a1a" stroke-width="0.18" textLength="6.83" lengthAdjust="spacingAndGlyphs">25</text>
<circle cx="83.58" cy="846.97" r="0.9" fill="#000"/>
<text x="77.88" y="852.47" font-size="6.6" text-anchor="middle" fill="#1a1a1a" font-family="Liberation Sans" stroke="#1a1a1a" stroke-width="0.18" textLength="6.83" lengthAdjust="spacingAndGlyphs">30</text>
<circle cx="185.91" cy="895.85" r="0.9" fill="#000"/>
<text x="192.51" y="901.85" font-size="6.6" text-anchor="middle" fill="#1a1a1a" font-family="Liberation Sans" stroke="#1a1a1a" stroke-width="0.18" textLength="6.83" lengthAdjust="spacingAndGlyphs">20</text>
<circle cx="206.37" cy="886.02" r="0.9" fill="#000"/>
<text x="212.97" y="892.02" font-size="6.6" text-anchor="middle" fill="#1a1a1a" font-family="Liberation Sans" stroke="#1a1a1a" stroke-width="0.18" textLength="6.83" lengthAdjust="spacingAndGlyphs">26</text>
<circle cx="226.83" cy="876.20" r="0.9" fill="#000"/>
<text x="233.43" y="882.20" font-size="6.6" text-anchor="middle" fill="#1a1a1a" font-family="Liberation Sans" stroke="#1a1a1a" stroke-width="0.18" textLength="6.83" lengthAdjust="spacingAndGlyphs">32</text>
<circle cx="247.30" cy="866.37" r="0.9" fill="#000"/>
<text x="253.90" y="872.37" font-size="6.6" text-anchor="middle" fill="#1a1a1a" font-family="Liberation Sans" stroke="#1a1a1a" stroke-width="0.18" textLength="6.83" lengthAdjust="spacingAndGlyphs">38</text>
<circle cx="267.76" cy="856.55" r="0.9" fill="#000"/>
<text x="274.36" y="862.55" font-size="6.6" text-anchor="middle" fill="#1a1a1a" font-family="Liberation Sans" stroke="#1a1a1a" stroke-width="0.18" textLength="6.83" lengthAdjust="spacingAndGlyphs">44</text>
<circle cx="288.22" cy="846.72" r="0.9" fill="#000"/>
<text x="294.82" y="852.72" font-size="6.6" text-anchor="middle" fill="#1a1a1a" font-family="Liberation Sans" stroke="#1a1a1a" stroke-width="0.18" textLength="6.83" lengthAdjust="spacingAndGlyphs">50</text>
<text x="46.71" y="773.35" font-size="7.5" text-anchor="middle" fill="#222" font-family="Liberation Sans" stroke="#222" stroke-width="0.18" transform="rotate(-90 46.71 773.35)">Particle Size (nm)</text>
<text x="95.41" y="891.95" font-size="7.5" text-anchor="middle" fill="#222" font-family="Liberation Sans" stroke="#222" stroke-width="0.18" xml:space="preserve">C: Glycerol  (% w/v)</text>
<text x="276.81" y="891.95" font-size="7.5" text-anchor="middle" fill="#222" font-family="Liberation Sans" stroke="#222" stroke-width="0.18" xml:space="preserve">A: cholesterol  (mg)</text>
<polygon points="444.22,846.05 546.50,807.57 546.50,681.78 437.55,706.19" fill="#fff"/>
<polygon points="546.50,807.57 648.86,845.80 655.69,706.15 546.50,681.78" fill="#fff"/>
<line x1="459.94" y1="806.86" x2="455.71" y2="702.12" stroke="#8a8a8a" stroke-width="0.8"/>
<line x1="477.25" y1="801.00" x2="473.87" y2="698.05" stroke="#8a8a8a" stroke-width="0.8"/>
<line x1="494.56" y1="795.14" x2="492.03" y2="693.99" stroke="#8a8a8a" stroke-width="0.8"/>
<line x1="511.88" y1="789.29" x2="510.18" y2="689.92" stroke="#8a8a8a" stroke-width="0.8"/>
<line x1="529.19" y1="783.43" x2="528.34" y2="685.85" stroke="#8a8a8a" stroke-width="0.8"/>
<line x1="624.49" y1="803.78" x2="628.39" y2="700.06" stroke="#8a8a8a" stroke-width="0.8"/>
<line x1="598.50" y1="795.04" x2="601.10" y2="693.96" stroke="#8a8a8a" stroke-width="0.8"/>
<line x1="572.50" y1="786.31" x2="573.80" y2="687.87" stroke="#8a8a8a" stroke-width="0.8"/>
<polyline points="442.63,812.71 546.50,777.58 650.49,812.51" fill="none" stroke="#555" stroke-width="0.8"/>
<polyline points="441.36,786.08 546.50,753.63 651.79,785.92" fill="none" stroke="#555" stroke-width="0.8"/>
<polyline points="440.09,759.45 546.50,729.68 653.09,759.33" fill="none" stroke="#555" stroke-width="0.8"/>
<polyline points="438.82,732.82 546.50,705.73 654.39,732.74" fill="none" stroke="#555" stroke-width="0.8"/>
<polyline points="437.55,706.19 546.50,681.78 655.69,706.15" fill="none" stroke="#555" stroke-width="0.8"/>
<line x1="546.50" y1="807.57" x2="546.50" y2="681.78" stroke="#8a8a8a" stroke-width="0.9"/>
<line x1="442.63" y1="812.71" x2="437.55" y2="706.19" stroke="#555" stroke-width="0.9"/>
<line x1="444.22" y1="846.05" x2="442.63" y2="812.71" stroke="#bbb" stroke-width="0.9"/>
<line x1="650.49" y1="812.51" x2="655.69" y2="706.15" stroke="#777" stroke-width="0.9"/>
<line x1="648.86" y1="845.80" x2="650.49" y2="812.51" stroke="#bbb" stroke-width="0.9"/>
<polygon points="546.55,894.93 648.86,845.80 546.50,807.57 444.22,846.05" fill="#6f6f6f" stroke="#333" stroke-width="0.6"/>
<path d="M551.5,892.6L551.2,892.2L550.7,891.7L549.8,890.9L549.0,890.1L548.9,890.0L548.2,889.3L547.5,888.4L546.9,887.8L546.7,887.6L545.9,886.7L545.2,885.9L545.0,885.7L544.4,885.0L543.7,884.2L543.4,883.7L543.0,883.3L542.3,882.4L541.8,881.8L541.6,881.6L540.9,880.7L540.4,880.0L540.3,879.8L539.6,878.9L539.2,878.2L539.0,878.0L538.4,877.1L538.0,876.5L537.8,876.2L537.2,875.3L536.9,874.9L536.7,874.4L536.1,873.5L535.9,873.2L535.6,872.6L535.1,871.7L535.0,871.6L534.6,870.7L534.3,870.1L534.1,869.8L533.6,868.8L533.5,868.7L533.2,867.9L532.9,867.2L532.7,866.9L532.3,865.9L532.3,865.8L532.0,865.0L531.7,864.4L531.6,864.0L531.3,863.1L531.3,863.0L531.0,862.0L530.9,861.8L530.7,861.0L530.5,860.5L530.4,860.0L530.3,859.2L530.2,858.9L530.0,858.0L530.0,857.9L529.9,856.8L529.9,856.8L529.8,855.8L529.7,855.6L529.7,854.7L529.7,854.5L529.7,853.6L529.7,853.4L529.7,852.5L529.7,852.3L529.8,851.3L529.8,851.2L529.9,850.2L529.9,850.2L530.1,849.2L530.1,849.0L530.3,848.2L530.4,847.8L530.6,847.2L530.8,846.5L530.9,846.3L531.3,845.3L531.3,845.2L531.7,844.4L532.0,843.9L532.2,843.6L532.7,842.7L532.9,842.4L533.3,841.9L533.9,841.1L534.1,840.9L534.6,840.3L535.3,839.5L535.7,839.1L536.1,838.8L536.9,838.1L537.8,837.4L538.3,837.0L538.7,836.7L539.7,836.1L540.7,835.4L541.8,834.9L543.0,834.3L544.3,833.7L545.6,833.2L547.0,832.8L548.4,832.3L550.0,831.9L551.6,831.5L551.8,831.5L553.3,831.2L555.1,830.9L556.2,830.7L557.1,830.6L559.1,830.4L559.6,830.3L561.3,830.2L562.6,830.1L563.6,830.1L565.3,830.0L566.1,830.0L567.8,830.0L568.8,830.1L570.1,830.1L571.8,830.2L572.3,830.2L574.5,830.4L575.0,830.4L576.5,830.5L578.5,830.7L578.6,830.7L580.4,831.0L582.2,831.2L582.6,831.3L584.0,831.5L585.8,831.8L587.4,832.1L587.5,832.1L589.1,832.4L590.8,832.8L592.4,833.1L593.4,833.4L593.9,833.5L595.5,833.9L597.0,834.2L598.5,834.6L599.9,835.1L601.4,835.5L602.8,835.9L602.8,835.9L604.2,836.3L605.6,836.8L606.9,837.2L608.3,837.7L609.6,838.2L610.9,838.7L612.2,839.1L613.5,839.6L614.7,840.1L615.9,840.6L617.2,841.2L618.4,841.7L619.6,842.2L620.7,842.7L621.0,842.9L621.9,843.3L623.1,843.8L624.2,844.4L625.3,845.0L626.4,845.5L627.5,846.1L628.6,846.7L629.7,847.3L629.7,847.3L630.7,847.9L631.8,848.5L632.8,849.1L633.8,849.7L634.9,850.3L635.1,850.5L635.9,850.9L636.8,851.6" stroke="#2050c8" stroke-width="1.3" fill="none" stroke-linecap="round"/>
<path d="M569.6,816.2L569.5,816.2L567.5,816.0L566.1,815.9L565.4,815.8L563.3,815.7L562.9,815.6L561.1,815.6L559.9,815.5L558.8,815.5L557.0,815.4L556.5,815.4L554.4,815.4L554.0,815.4L551.9,815.4L551.3,815.4L549.5,815.5L548.5,815.5L547.2,815.6L545.5,815.7L545.1,815.8L543.0,816.0L542.1,816.1L541.0,816.2L539.2,816.5L538.1,816.6L537.4,816.7L535.6,817.1L534.0,817.4L532.7,817.7L532.4,817.8L530.8,818.1L529.4,818.6L528.0,819.0L526.6,819.5L525.3,819.9L524.1,820.4L522.9,821.0L521.7,821.5L520.6,822.1L519.5,822.6L519.1,822.9L518.5,823.2L517.5,823.8L516.6,824.5L515.7,825.1L515.5,825.3L514.9,825.8L514.1,826.5L513.4,827.1L513.3,827.2L512.6,827.9L511.9,828.6L511.8,828.8L511.2,829.4L510.6,830.2L510.5,830.3L510.0,831.0L509.5,831.7L509.5,831.8L509.0,832.6L508.7,833.1L508.5,833.5L508.1,834.3L508.0,834.4L507.7,835.2L507.5,835.7L507.3,836.1L507.0,836.9L507.0,837.0L506.7,837.9L506.7,838.1L506.5,838.9L506.4,839.3L506.2,839.9L506.1,840.4L506.1,840.8L506.0,841.6L505.9,841.9L505.8,842.7L505.8,842.9L505.7,843.8L505.7,843.9L505.7,844.9L505.7,845.0L505.7,846.0L505.7,846.1L505.7,847.1L505.7,847.2L505.8,848.1L505.8,848.3L505.9,849.2L505.9,849.5L506.0,850.2L506.1,850.6L506.2,851.3L506.3,851.8L506.4,852.3L506.5,853.0L506.6,853.3L506.8,854.3L506.8,854.3L507.1,855.3L507.1,855.5L507.4,856.3L507.5,856.8L507.7,857.3L507.9,858.1L508.0,858.3L508.3,859.3L508.4,859.4L508.7,860.3L508.9,860.8L509.0,861.2L509.4,862.2L509.4,862.2L509.8,863.2L510.0,863.6L510.2,864.1L510.7,865.0L510.7,865.1L511.1,866.0L511.4,866.5L511.6,867.0L512.1,867.9L512.1,868.0L512.6,868.9L512.9,869.5L513.1,869.8L513.6,870.7L513.8,871.1L514.1,871.6L514.7,872.6L514.8,872.7L515.2,873.5L515.8,874.3L515.8,874.4L516.4,875.3L516.8,876.0L517.0,876.2L517.6,877.1L518.0,877.7L518.2,878.0L518.8,878.9L519.2,879.5L519.5,879.8L520.1,880.7L520.5,881.3L520.8,881.6L521.4,882.5L521.9,883.2" stroke="#30a8d0" stroke-width="1.3" fill="none" stroke-linecap="round"/>
<path d="M487.5,829.8L487.3,830.6L487.2,830.9L487.0,831.5L486.9,832.1L486.8,832.4L486.7,833.2L486.7,833.4L486.5,834.3L486.5,834.4L486.4,835.4L486.4,835.4L486.3,836.4L486.3,836.5L486.3,837.4L486.3,837.6L486.2,838.5L486.2,838.7L486.2,839.6L486.2,839.7L486.3,840.7L486.3,840.8L486.3,841.8L486.4,841.8L486.4,842.9L486.4,842.9L486.6,843.9L486.6,844.0L486.7,844.9L486.8,845.2L486.9,845.9L487.0,846.3L487.1,846.9L487.2,847.5L487.3,847.9L487.5,848.8L487.5,849.0L487.7,850.0L487.8,850.0L488.0,850.9L488.1,851.3L488.3,851.9L488.5,852.5L488.6,852.9L488.9,853.8L488.9,853.9L489.2,854.9L489.3,855.1L489.6,855.9L489.8,856.5L489.9,856.8L490.3,857.8L490.3,857.9L490.7,858.8L490.9,859.2L491.1,859.7L491.5,860.7L491.5,860.7L492.0,861.6L492.2,862.1L492.4,862.6L492.9,863.5L492.9,863.6L493.3,864.5L493.6,865.0L493.8,865.4L494.3,866.3L494.4,866.6L494.8,867.3L495.2,868.1L495.3,868.2L495.8,869.1L496.1,869.7L496.4,870.1L496.9,871.0L497.1,871.3" stroke="#30c0a0" stroke-width="1.3" fill="none" stroke-linecap="round"/>
<path d="M468.6,836.9L468.7,837.0L468.8,837.9L468.8,838.1L468.9,838.9L468.9,839.2L469.0,839.9L469.1,840.4L469.2,840.9L469.3,841.5L469.4,841.9L469.6,842.7L469.6,842.9L469.8,843.9L469.8,843.9L470.1,844.9L470.1,845.2L470.3,845.9L470.5,846.4L470.6,846.9L470.8,847.7L470.9,847.9L471.2,848.8L471.2,848.9L471.5,849.8L471.6,850.2L471.8,850.8L472.1,851.5L472.2,851.7L472.5,852.7L472.6,852.9L472.9,853.7L473.1,854.2L473.3,854.6L473.7,855.6L473.7,855.6L474.1,856.6L474.3,857.0L474.5,857.5L474.9,858.4L474.9,858.5L475.3,859.4L475.6,859.9L475.8,860.4L476.2,861.3L476.3,861.4" stroke="#40c040" stroke-width="1.3" fill="none" stroke-linecap="round"/>
<path d="M455.5,841.8L455.8,842.8L455.8,842.8L456.1,843.7L456.2,844.1L456.4,844.7L456.6,845.4L456.7,845.7L457.0,846.7L457.0,846.7L457.3,847.6L457.5,848.0L457.7,848.6L457.9,849.3L458.0,849.6L458.4,850.5L458.5,850.6L458.8,851.5L459.0,852.0L459.2,852.4L459.6,853.4L459.6,853.4" stroke="#80d040" stroke-width="1.3" fill="none" stroke-linecap="round"/>
<g stroke="#000010" stroke-width="0.55" stroke-opacity="0.5" stroke-linejoin="round">
<path fill="#41ffff" d="M546.5,748.7L551.3,745.9L546.5,743.1L541.7,745.8Z"/>
<path fill="#42ffff" d="M551.3,751.6L556.1,748.6L551.3,745.9L546.5,748.7Z"/>
<path fill="#3fffff" d="M541.7,751.3L546.5,748.7L541.7,745.8L536.9,748.2Z"/>
<path fill="#43fdff" d="M556.1,754.3L560.9,751.3L556.1,748.6L551.3,751.6Z"/>
<path fill="#40f7ff" d="M546.5,754.2L551.3,751.6L546.5,748.7L541.7,751.3Z"/>
<path fill="#3df7ff" d="M536.9,753.6L541.7,751.3L536.9,748.2L532.1,750.4Z"/>
<path fill="#44eeff" d="M560.9,757.0L565.7,753.9L560.9,751.3L556.1,754.3Z"/>
<path fill="#41e6ff" d="M551.3,757.1L556.1,754.3L551.3,751.6L546.5,754.2Z"/>
<path fill="#3ee5ff" d="M541.7,756.6L546.5,754.2L541.7,751.3L536.9,753.6Z"/>
<path fill="#3ae9ff" d="M532.1,755.6L536.9,753.6L532.1,750.4L527.3,752.4Z"/>
<path fill="#45e0ff" d="M565.7,759.6L570.5,756.3L565.7,753.9L560.9,757.0Z"/>
<path fill="#42d6ff" d="M556.1,759.9L560.9,757.0L556.1,754.3L551.3,757.1Z"/>
<path fill="#3fd3ff" d="M546.5,759.6L551.3,757.1L546.5,754.2L541.7,756.6Z"/>
<path fill="#3bd6ff" d="M536.9,758.8L541.7,756.6L536.9,753.6L532.1,755.6Z"/>
<path fill="#37deff" d="M527.3,757.4L532.1,755.6L527.3,752.4L522.5,754.0Z"/>
<path fill="#46d3ff" d="M570.5,762.1L575.3,758.7L570.5,756.3L565.7,759.6Z"/>
<path fill="#43c8ff" d="M560.9,762.6L565.7,759.6L560.9,757.0L556.1,759.9Z"/>
<path fill="#40c3ff" d="M551.3,762.5L556.1,759.9L551.3,757.1L546.5,759.6Z"/>
<path fill="#3cc4ff" d="M541.7,761.9L546.5,759.6L541.7,756.6L536.9,758.8Z"/>
<path fill="#38caff" d="M532.2,760.7L536.9,758.8L532.1,755.6L527.3,757.4Z"/>
<path fill="#34d6ff" d="M522.6,758.9L527.3,757.4L522.5,754.0L517.7,755.5Z"/>
<path fill="#47caff" d="M575.2,764.5L580.0,761.0L575.3,758.7L570.5,762.1Z"/>
<path fill="#44beff" d="M565.7,765.2L570.5,762.1L565.7,759.6L560.9,762.6Z"/>
<path fill="#41b7ff" d="M556.1,765.3L560.9,762.6L556.1,759.9L551.3,762.5Z"/>
<path fill="#3db5ff" d="M546.5,764.9L551.3,762.5L546.5,759.6L541.7,761.9Z"/>
<path fill="#3ab8ff" d="M537.0,763.9L541.7,761.9L536.9,758.8L532.2,760.7Z"/>
<path fill="#35c2ff" d="M527.4,762.3L532.2,760.7L527.3,757.4L522.6,758.9Z"/>
<path fill="#31d1ff" d="M517.8,760.2L522.6,758.9L517.7,755.5L512.9,756.6Z"/>
<path fill="#47c2ff" d="M580.0,766.8L584.8,763.2L580.0,761.0L575.2,764.5Z"/>
<path fill="#45b5ff" d="M570.4,767.7L575.2,764.5L570.5,762.1L565.7,765.2Z"/>
<path fill="#42adff" d="M560.9,768.0L565.7,765.2L560.9,762.6L556.1,765.3Z"/>
<path fill="#3fa9ff" d="M551.3,767.8L556.1,765.3L551.3,762.5L546.5,764.9Z"/>
<path fill="#3baaff" d="M541.7,767.0L546.5,764.9L541.7,761.9L537.0,763.9Z"/>
<path fill="#37b0ff" d="M532.2,765.6L537.0,763.9L532.2,760.7L527.4,762.3Z"/>
<path fill="#32bdff" d="M522.6,763.7L527.4,762.3L522.6,758.9L517.8,760.2Z"/>
<path fill="#2ecfff" d="M513.0,761.2L517.8,760.2L512.9,756.6L508.1,757.5Z"/>
<path fill="#48bbff" d="M584.8,769.0L589.6,765.3L584.8,763.2L580.0,766.8Z"/>
<path fill="#46acff" d="M575.2,770.1L580.0,766.8L575.2,764.5L570.4,767.7Z"/>
<path fill="#43a3ff" d="M565.6,770.7L570.4,767.7L565.7,765.2L560.9,768.0Z"/>
<path fill="#409eff" d="M556.1,770.6L560.9,768.0L556.1,765.3L551.3,767.8Z"/>
<path fill="#3c9eff" d="M546.5,770.0L551.3,767.8L546.5,764.9L541.7,767.0Z"/>
<path fill="#38a2ff" d="M537.0,768.9L541.7,767.0L537.0,763.9L532.2,765.6Z"/>
<path fill="#34aaff" d="M527.4,767.1L532.2,765.6L527.4,762.3L522.6,763.7Z"/>
<path fill="#2fbaff" d="M517.8,764.8L522.6,763.7L517.8,760.2L513.0,761.2Z"/>
<path fill="#2bd0ff" d="M508.2,761.9L513.0,761.2L508.1,757.5L503.3,758.1Z"/>
<path fill="#46a5ff" d="M580.0,772.4L584.8,769.0L580.0,766.8L575.2,770.1Z"/>
<path fill="#48b5ff" d="M589.6,771.1L594.4,767.3L589.6,765.3L584.8,769.0Z"/>
<path fill="#449aff" d="M570.4,773.2L575.2,770.1L570.4,767.7L565.6,770.7Z"/>
<path fill="#4193ff" d="M560.9,773.4L565.6,770.7L560.9,768.0L556.1,770.6Z"/>
<path fill="#3d92ff" d="M551.3,773.0L556.1,770.6L551.3,767.8L546.5,770.0Z"/>
<path fill="#3995ff" d="M541.8,772.0L546.5,770.0L541.7,767.0L537.0,768.9Z"/>
<path fill="#359cff" d="M532.2,770.4L537.0,768.9L532.2,765.6L527.4,767.1Z"/>
<path fill="#31a7ff" d="M522.6,768.3L527.4,767.1L522.6,763.7L517.8,764.8Z"/>
<path fill="#2cbbff" d="M513.0,765.6L517.8,764.8L513.0,761.2L508.2,761.9Z"/>
<path fill="#28d3ff" d="M503.3,762.3L508.2,761.9L503.3,758.1L498.5,758.4Z"/>
<path fill="#479fff" d="M584.7,774.6L589.6,771.1L584.8,769.0L580.0,772.4Z"/>
<path fill="#49b1ff" d="M594.3,773.1L599.2,769.2L594.4,767.3L589.6,771.1Z"/>
<path fill="#4592ff" d="M575.2,775.6L580.0,772.4L575.2,770.1L570.4,773.2Z"/>
<path fill="#428aff" d="M565.6,776.0L570.4,773.2L565.6,770.7L560.9,773.4Z"/>
<path fill="#3e87ff" d="M556.1,775.8L560.9,773.4L556.1,770.6L551.3,773.0Z"/>
<path fill="#3a88ff" d="M546.5,775.0L551.3,773.0L546.5,770.0L541.8,772.0Z"/>
<path fill="#368eff" d="M537.0,773.7L541.8,772.0L537.0,768.9L532.2,770.4Z"/>
<path fill="#3298ff" d="M527.4,771.7L532.2,770.4L527.4,767.1L522.6,768.3Z"/>
<path fill="#2da6ff" d="M517.8,769.2L522.6,768.3L517.8,764.8L513.0,765.6Z"/>
<path fill="#29beff" d="M508.2,766.1L513.0,765.6L508.2,761.9L503.3,762.3Z"/>
<path fill="#25d9ff" d="M498.5,762.4L503.3,762.3L498.5,758.4L493.6,758.4Z"/>
<path fill="#4899ff" d="M589.5,776.8L594.3,773.1L589.6,771.1L584.7,774.6Z"/>
<path fill="#49adff" d="M599.1,775.0L603.9,771.0L599.2,769.2L594.3,773.1Z"/>
<path fill="#458bff" d="M579.9,777.9L584.7,774.6L580.0,772.4L575.2,775.6Z"/>
<path fill="#4281ff" d="M570.4,778.5L575.2,775.6L570.4,773.2L565.6,776.0Z"/>
<path fill="#3f7dff" d="M560.8,778.5L565.6,776.0L560.9,773.4L556.1,775.8Z"/>
<path fill="#3b7dff" d="M551.3,778.0L556.1,775.8L551.3,773.0L546.5,775.0Z"/>
<path fill="#3781ff" d="M541.8,776.8L546.5,775.0L541.8,772.0L537.0,773.7Z"/>
<path fill="#338aff" d="M532.2,775.1L537.0,773.7L532.2,770.4L527.4,771.7Z"/>
<path fill="#2f97ff" d="M522.6,772.7L527.4,771.7L522.6,768.3L517.8,769.2Z"/>
<path fill="#2aa9ff" d="M513.0,769.8L517.8,769.2L513.0,765.6L508.2,766.1Z"/>
<path fill="#26c3ff" d="M503.4,766.3L508.2,766.1L503.3,762.3L498.5,762.4Z"/>
<path fill="#4895ff" d="M594.3,778.8L599.1,775.0L594.3,773.1L589.5,776.8Z"/>
<path fill="#4685ff" d="M584.7,780.2L589.5,776.8L584.7,774.6L579.9,777.9Z"/>
<path fill="#4aaaff" d="M603.9,776.8L608.7,772.7L603.9,771.0L599.1,775.0Z"/>
<path fill="#4379ff" d="M575.2,781.0L579.9,777.9L575.2,775.6L570.4,778.5Z"/>
<path fill="#22e1f7" d="M493.7,762.3L498.5,762.4L493.6,758.4L488.8,758.2Z"/>
<path fill="#4073ff" d="M565.6,781.2L570.4,778.5L565.6,776.0L560.8,778.5Z"/>
<path fill="#3c72ff" d="M556.1,780.8L560.8,778.5L556.1,775.8L551.3,778.0Z"/>
<path fill="#3975ff" d="M546.5,779.8L551.3,778.0L546.5,775.0L541.8,776.8Z"/>
<path fill="#347dff" d="M537.0,778.3L541.8,776.8L537.0,773.7L532.2,775.1Z"/>
<path fill="#3088ff" d="M527.4,776.2L532.2,775.1L527.4,771.7L522.6,772.7Z"/>
<path fill="#2c97ff" d="M517.8,773.5L522.6,772.7L517.8,769.2L513.0,769.8Z"/>
<path fill="#27aeff" d="M508.2,770.2L513.0,769.8L508.2,766.1L503.4,766.3Z"/>
<path fill="#4991ff" d="M599.0,780.7L603.9,776.8L599.1,775.0L594.3,778.8Z"/>
<path fill="#477fff" d="M589.5,782.3L594.3,778.8L589.5,776.8L584.7,780.2Z"/>
<path fill="#4aa9ff" d="M608.6,778.5L613.5,774.2L608.7,772.7L603.9,776.8Z"/>
<path fill="#4473ff" d="M579.9,783.3L584.7,780.2L579.9,777.9L575.2,781.0Z"/>
<path fill="#23cbfa" d="M498.5,766.3L503.4,766.3L498.5,762.4L493.7,762.3Z"/>
<path fill="#416bff" d="M570.4,783.7L575.2,781.0L570.4,778.5L565.6,781.2Z"/>
<path fill="#3e68ff" d="M560.8,783.6L565.6,781.2L560.8,778.5L556.1,780.8Z"/>
<path fill="#3a6aff" d="M551.3,782.8L556.1,780.8L551.3,778.0L546.5,779.8Z"/>
<path fill="#1febee" d="M488.8,761.8L493.7,762.3L488.8,758.2L483.9,757.6Z"/>
<path fill="#3671ff" d="M541.8,781.5L546.5,779.8L541.8,776.8L537.0,778.3Z"/>
<path fill="#317bff" d="M532.2,779.5L537.0,778.3L532.2,775.1L527.4,776.2Z"/>
<path fill="#2d89ff" d="M522.6,777.0L527.4,776.2L522.6,772.7L517.8,773.5Z"/>
<path fill="#289aff" d="M513.0,773.9L517.8,773.5L513.0,769.8L508.2,770.2Z"/>
<path fill="#498fff" d="M603.8,782.5L608.6,778.5L603.9,776.8L599.0,780.7Z"/>
<path fill="#477bff" d="M594.2,784.3L599.0,780.7L594.3,778.8L589.5,782.3Z"/>
<path fill="#4aa8ff" d="M613.4,780.1L618.3,775.7L613.5,774.2L608.6,778.5Z"/>
<path fill="#456dff" d="M584.7,785.5L589.5,782.3L584.7,780.2L579.9,783.3Z"/>
<path fill="#24b6fe" d="M503.4,770.2L508.2,770.2L503.4,766.3L498.5,766.3Z"/>
<path fill="#4264ff" d="M575.1,786.2L579.9,783.3L575.2,781.0L570.4,783.7Z"/>
<path fill="#3f5fff" d="M565.6,786.2L570.4,783.7L565.6,781.2L560.8,783.6Z"/>
<path fill="#3b60ff" d="M556.1,785.7L560.8,783.6L556.1,780.8L551.3,782.8Z"/>
<path fill="#20d5f2" d="M493.7,765.9L498.5,766.3L493.7,762.3L488.8,761.8Z"/>
<path fill="#3765ff" d="M546.5,784.5L551.3,782.8L546.5,779.8L541.8,781.5Z"/>
<path fill="#1ce6ca" d="M483.9,761.1L488.8,761.8L483.9,757.6L479.0,756.8Z"/>
<path fill="#326eff" d="M537.0,782.8L541.8,781.5L537.0,778.3L532.2,779.5Z"/>
<path fill="#2e7bff" d="M527.4,780.5L532.2,779.5L527.4,776.2L522.6,777.0Z"/>
<path fill="#2a8bff" d="M517.8,777.5L522.6,777.0L517.8,773.5L513.0,773.9Z"/>
<path fill="#4878ff" d="M599.0,786.2L603.8,782.5L599.0,780.7L594.2,784.3Z"/>
<path fill="#498eff" d="M608.6,784.2L613.4,780.1L608.6,778.5L603.8,782.5Z"/>
<path fill="#25a2ff" d="M508.2,774.0L513.0,773.9L508.2,770.2L503.4,770.2Z"/>
<path fill="#4ba8ff" d="M618.2,781.5L623.1,777.1L618.3,775.7L613.4,780.1Z"/>
<path fill="#4668ff" d="M589.4,787.7L594.2,784.3L589.5,782.3L584.7,785.5Z"/>
<path fill="#435dff" d="M579.9,788.5L584.7,785.5L579.9,783.3L575.1,786.2Z"/>
<path fill="#4057ff" d="M570.4,788.8L575.1,786.2L570.4,783.7L565.6,786.2Z"/>
<path fill="#3c56ff" d="M560.8,788.4L565.6,786.2L560.8,783.6L556.1,785.7Z"/>
<path fill="#21c0f5" d="M498.5,769.9L503.4,770.2L498.5,766.3L493.7,765.9Z"/>
<path fill="#385aff" d="M551.3,787.5L556.1,785.7L551.3,782.8L546.5,784.5Z"/>
<path fill="#1de1e9" d="M488.8,765.3L493.7,765.9L488.8,761.8L483.9,761.1Z"/>
<path fill="#3462ff" d="M541.8,786.0L546.5,784.5L541.8,781.5L537.0,782.8Z"/>
<path fill="#2f6eff" d="M532.2,783.8L537.0,782.8L532.2,779.5L527.4,780.5Z"/>
<path fill="#1add9f" d="M479.1,760.0L483.9,761.1L479.0,756.8L474.1,755.6Z"/>
<path fill="#2b7dff" d="M522.6,781.1L527.4,780.5L522.6,777.0L517.8,777.5Z"/>
<path fill="#2690ff" d="M513.0,777.8L517.8,777.5L513.0,773.9L508.2,774.0Z"/>
<path fill="#4876ff" d="M603.7,788.0L608.6,784.2L603.8,782.5L599.0,786.2Z"/>
<path fill="#4a8dff" d="M613.3,785.8L618.2,781.5L613.4,780.1L608.6,784.2Z"/>
<path fill="#4664ff" d="M594.2,789.7L599.0,786.2L594.2,784.3L589.4,787.7Z"/>
<path fill="#4baaff" d="M623.0,782.9L627.9,778.3L623.1,777.1L618.2,781.5Z"/>
<path fill="#4458ff" d="M584.6,790.7L589.4,787.7L584.7,785.5L579.9,788.5Z"/>
<path fill="#4050ff" d="M575.1,791.2L579.9,788.5L575.1,786.2L570.4,788.8Z"/>
<path fill="#3d4eff" d="M565.6,791.1L570.4,788.8L565.6,786.2L560.8,788.4Z"/>
<path fill="#22acf8" d="M503.4,773.9L508.2,774.0L503.4,770.2L498.5,769.9Z"/>
<path fill="#3950ff" d="M556.1,790.4L560.8,788.4L556.1,785.7L551.3,787.5Z"/>
<path fill="#1eccec" d="M493.7,769.4L498.5,769.9L493.7,765.9L488.8,765.3Z"/>
<path fill="#3557ff" d="M546.5,789.0L551.3,787.5L546.5,784.5L541.8,786.0Z"/>
<path fill="#3061ff" d="M537.0,787.1L541.8,786.0L537.0,782.8L532.2,783.8Z"/>
<path fill="#1be0ca" d="M483.9,764.3L488.8,765.3L483.9,761.1L479.1,760.0Z"/>
<path fill="#2c70ff" d="M527.4,784.6L532.2,783.8L527.4,780.5L522.6,781.1Z"/>
<path fill="#17d571" d="M474.1,758.6L479.1,760.0L474.1,755.6L469.2,754.2Z"/>
<path fill="#2881ff" d="M517.9,781.5L522.6,781.1L517.8,777.5L513.0,777.8Z"/>
<path fill="#4975ff" d="M608.5,789.7L613.3,785.8L608.6,784.2L603.7,788.0Z"/>
<path fill="#4a8eff" d="M618.1,787.2L623.0,782.9L618.2,781.5L613.3,785.8Z"/>
<path fill="#4761ff" d="M598.9,791.6L603.7,788.0L599.0,786.2L594.2,789.7Z"/>
<path fill="#4bacff" d="M627.8,784.2L632.7,779.5L627.9,778.3L623.0,782.9Z"/>
<path fill="#4453ff" d="M589.4,792.9L594.2,789.7L589.4,787.7L584.6,790.7Z"/>
<path fill="#414aff" d="M579.9,793.6L584.6,790.7L579.9,788.5L575.1,791.2Z"/>
<path fill="#2398fc" d="M508.2,777.7L513.0,777.8L508.2,774.0L503.4,773.9Z"/>
<path fill="#3e46ff" d="M570.3,793.6L575.1,791.2L570.4,788.8L565.6,791.1Z"/>
<path fill="#3a47ff" d="M560.8,793.1L565.6,791.1L560.8,788.4L556.1,790.4Z"/>
<path fill="#1fb7ef" d="M498.6,773.4L503.4,773.9L498.5,769.9L493.7,769.4Z"/>
<path fill="#364cff" d="M551.3,792.0L556.1,790.4L551.3,787.5L546.5,789.0Z"/>
<path fill="#3256ff" d="M541.8,790.3L546.5,789.0L541.8,786.0L537.0,787.1Z"/>
<path fill="#1cd9e4" d="M488.8,768.5L493.7,769.4L488.8,765.3L483.9,764.3Z"/>
<path fill="#2d63ff" d="M532.2,788.0L537.0,787.1L532.2,783.8L527.4,784.6Z"/>
<path fill="#18d89c" d="M479.1,763.0L483.9,764.3L479.1,760.0L474.1,758.6Z"/>
<path fill="#2974ff" d="M522.7,785.0L527.4,784.6L522.6,781.1L517.9,781.5Z"/>
<path fill="#4975ff" d="M613.3,791.3L618.1,787.2L613.3,785.8L608.5,789.7Z"/>
<path fill="#4a90ff" d="M622.9,788.6L627.8,784.2L623.0,782.9L618.1,787.2Z"/>
<path fill="#475fff" d="M603.7,793.4L608.5,789.7L603.7,788.0L598.9,791.6Z"/>
<path fill="#4bb0ff" d="M632.6,785.3L637.5,780.5L632.7,779.5L627.8,784.2Z"/>
<path fill="#454fff" d="M594.1,794.9L598.9,791.6L594.2,789.7L589.4,792.9Z"/>
<path fill="#4245ff" d="M584.6,795.8L589.4,792.9L584.6,790.7L579.9,793.6Z"/>
<path fill="#2587ff" d="M513.0,781.5L517.9,781.5L513.0,777.8L508.2,777.7Z"/>
<path fill="#3f3fff" d="M575.1,796.1L579.9,793.6L575.1,791.2L570.3,793.6Z"/>
<path fill="#15cd42" d="M469.2,757.0L474.1,758.6L469.2,754.2L464.3,752.4Z"/>
<path fill="#3b3eff" d="M565.6,795.8L570.3,793.6L565.6,791.1L560.8,793.1Z"/>
<path fill="#20a3f3" d="M503.4,777.4L508.2,777.7L503.4,773.9L498.6,773.4Z"/>
<path fill="#3742ff" d="M556.1,794.9L560.8,793.1L556.1,790.4L551.3,792.0Z"/>
<path fill="#334bff" d="M546.5,793.4L551.3,792.0L546.5,789.0L541.8,790.3Z"/>
<path fill="#1dc5e7" d="M493.7,772.7L498.6,773.4L493.7,769.4L488.8,768.5Z"/>
<path fill="#2e57ff" d="M537.0,791.3L541.8,790.3L537.0,787.1L532.2,788.0Z"/>
<path fill="#19dbc5" d="M484.0,767.4L488.8,768.5L483.9,764.3L479.1,763.0Z"/>
<path fill="#2a67ff" d="M527.4,788.5L532.2,788.0L527.4,784.6L522.7,785.0Z"/>
<path fill="#4976ff" d="M618.1,792.8L622.9,788.6L618.1,787.2L613.3,791.3Z"/>
<path fill="#485fff" d="M608.5,795.1L613.3,791.3L608.5,789.7L603.7,793.4Z"/>
<path fill="#4a93ff" d="M627.7,789.9L632.6,785.3L627.8,784.2L622.9,788.6Z"/>
<path fill="#464dff" d="M598.9,796.8L603.7,793.4L598.9,791.6L594.1,794.9Z"/>
<path fill="#4bb5ff" d="M637.4,786.3L642.3,781.4L637.5,780.5L632.6,785.3Z"/>
<path fill="#4343ff" d="M589.4,798.0L594.1,794.9L589.4,792.9L584.6,795.8Z"/>
<path fill="#267aff" d="M517.9,785.2L522.7,785.0L517.9,781.5L513.0,781.5Z"/>
<path fill="#4040ff" d="M579.8,798.5L584.6,795.8L579.9,793.6L575.1,796.1Z"/>
<path fill="#16d06c" d="M474.1,761.5L479.1,763.0L474.1,758.6L469.2,757.0Z"/>
<path fill="#3c3cff" d="M570.3,798.4L575.1,796.1L570.3,793.6L565.6,795.8Z"/>
<path fill="#2290f6" d="M508.2,781.3L513.0,781.5L508.2,777.7L503.4,777.4Z"/>
<path fill="#3839ff" d="M560.8,797.7L565.6,795.8L560.8,793.1L556.1,794.9Z"/>
<path fill="#13c513" d="M464.3,755.0L469.2,757.0L464.3,752.4L459.3,750.3Z"/>
<path fill="#3440ff" d="M551.3,796.4L556.1,794.9L551.3,792.0L546.5,793.4Z"/>
<path fill="#1eb1ea" d="M498.6,776.7L503.4,777.4L498.6,773.4L493.7,772.7Z"/>
<path fill="#304cff" d="M541.8,794.4L546.5,793.4L541.8,790.3L537.0,791.3Z"/>
<path fill="#1ad4de" d="M488.8,771.6L493.7,772.7L488.8,768.5L484.0,767.4Z"/>
<path fill="#2b5aff" d="M532.2,791.9L537.0,791.3L532.2,788.0L527.4,788.5Z"/>
<path fill="#4a78ff" d="M622.8,794.2L627.7,789.9L622.9,788.6L618.1,792.8Z"/>
<path fill="#485fff" d="M613.2,796.7L618.1,792.8L613.3,791.3L608.5,795.1Z"/>
<path fill="#4a97ff" d="M632.5,791.0L637.4,786.3L632.6,785.3L627.7,789.9Z"/>
<path fill="#464bff" d="M603.7,798.6L608.5,795.1L603.7,793.4L598.9,796.8Z"/>
<path fill="#4bbaff" d="M642.2,787.2L647.1,782.2L642.3,781.4L637.4,786.3Z"/>
<path fill="#4444ff" d="M594.1,800.0L598.9,796.8L594.1,794.9L589.4,798.0Z"/>
<path fill="#276cff" d="M522.7,788.8L527.4,788.5L522.7,785.0L517.9,785.2Z"/>
<path fill="#16d395" d="M479.0,765.9L484.0,767.4L479.1,763.0L474.1,761.5Z"/>
<path fill="#4141ff" d="M584.6,800.7L589.4,798.0L584.6,795.8L579.8,798.5Z"/>
<path fill="#3d3dff" d="M575.1,800.8L579.8,798.5L575.1,796.1L570.3,798.4Z"/>
<path fill="#2381f9" d="M513.1,785.1L517.9,785.2L513.0,781.5L508.2,781.3Z"/>
<path fill="#3939ff" d="M565.6,800.3L570.3,798.4L565.6,795.8L560.8,797.7Z"/>
<path fill="#13c83c" d="M469.2,759.6L474.1,761.5L469.2,757.0L464.3,755.0Z"/>
<path fill="#3537ff" d="M556.1,799.2L560.8,797.7L556.1,794.9L551.3,796.4Z"/>
<path fill="#1f9ded" d="M503.4,780.7L508.2,781.3L503.4,777.4L498.6,776.7Z"/>
<path fill="#3141ff" d="M546.5,797.5L551.3,796.4L546.5,793.4L541.8,794.4Z"/>
<path fill="#2abd11" d="M459.3,752.7L464.3,755.0L459.3,750.3L454.3,747.9Z"/>
<path fill="#1bc0e1" d="M493.7,775.8L498.6,776.7L493.7,772.7L488.8,771.6Z"/>
<path fill="#2c4fff" d="M537.0,795.2L541.8,794.4L537.0,791.3L532.2,791.9Z"/>
<path fill="#4a7bff" d="M627.6,795.4L632.5,791.0L627.7,789.9L622.8,794.2Z"/>
<path fill="#4860ff" d="M618.0,798.2L622.8,794.2L618.1,792.8L613.2,796.7Z"/>
<path fill="#4b9bff" d="M637.3,792.0L642.2,787.2L637.4,786.3L632.5,791.0Z"/>
<path fill="#474bff" d="M608.4,800.4L613.2,796.7L608.5,795.1L603.7,798.6Z"/>
<path fill="#4bc1ff" d="M647.0,788.0L651.9,782.9L647.1,782.2L642.2,787.2Z"/>
<path fill="#4444ff" d="M598.9,801.9L603.7,798.6L598.9,796.8L594.1,800.0Z"/>
<path fill="#2860ff" d="M527.5,792.3L532.2,791.9L527.4,788.5L522.7,788.8Z"/>
<path fill="#17d6be" d="M483.9,770.2L488.8,771.6L484.0,767.4L479.0,765.9Z"/>
<path fill="#4141ff" d="M589.3,802.9L594.1,800.0L589.4,798.0L584.6,800.7Z"/>
<path fill="#3e3eff" d="M579.8,803.2L584.6,800.7L579.8,798.5L575.1,800.8Z"/>
<path fill="#2474fd" d="M517.9,788.7L522.7,788.8L517.9,785.2L513.1,785.1Z"/>
<path fill="#3a3aff" d="M570.3,802.9L575.1,800.8L570.3,798.4L565.6,800.3Z"/>
<path fill="#14cb64" d="M474.1,764.1L479.0,765.9L474.1,761.5L469.2,759.6Z"/>
<path fill="#3636ff" d="M560.8,802.0L565.6,800.3L560.8,797.7L556.1,799.2Z"/>
<path fill="#208bf0" d="M508.2,784.6L513.1,785.1L508.2,781.3L503.4,780.7Z"/>
<path fill="#3237ff" d="M551.3,800.5L556.1,799.2L551.3,796.4L546.5,797.5Z"/>
<path fill="#15c011" d="M464.2,757.4L469.2,759.6L464.3,755.0L459.3,752.7Z"/>
<path fill="#1cade4" d="M498.6,779.9L503.4,780.7L498.6,776.7L493.7,775.8Z"/>
<path fill="#2e44ff" d="M541.8,798.4L546.5,797.5L541.8,794.4L537.0,795.2Z"/>
<path fill="#4963ff" d="M622.8,799.5L627.6,795.4L622.8,794.2L618.0,798.2Z"/>
<path fill="#41b60f" d="M454.3,750.1L459.3,752.7L454.3,747.9L449.3,745.2Z"/>
<path fill="#4a7fff" d="M632.4,796.5L637.3,792.0L632.5,791.0L627.6,795.4Z"/>
<path fill="#474bff" d="M613.2,801.9L618.0,798.2L613.2,796.7L608.4,800.4Z"/>
<path fill="#4ba1ff" d="M642.1,792.9L647.0,788.0L642.2,787.2L637.3,792.0Z"/>
<path fill="#2954ff" d="M532.2,795.7L537.0,795.2L532.2,791.9L527.5,792.3Z"/>
<path fill="#4545ff" d="M603.6,803.7L608.4,800.4L603.7,798.6L598.9,801.9Z"/>
<path fill="#18d1d9" d="M488.8,774.5L493.7,775.8L488.8,771.6L483.9,770.2Z"/>
<path fill="#4242ff" d="M594.1,804.9L598.9,801.9L594.1,800.0L589.3,802.9Z"/>
<path fill="#3f3fff" d="M584.6,805.5L589.3,802.9L584.6,800.7L579.8,803.2Z"/>
<path fill="#2567ff" d="M522.7,792.3L527.5,792.3L522.7,788.8L517.9,788.7Z"/>
<path fill="#3b3bff" d="M575.1,805.4L579.8,803.2L575.1,800.8L570.3,802.9Z"/>
<path fill="#15ce8c" d="M479.0,768.5L483.9,770.2L479.0,765.9L474.1,764.1Z"/>
<path fill="#3737ff" d="M565.6,804.7L570.3,802.9L565.6,800.3L560.8,802.0Z"/>
<path fill="#217df4" d="M513.1,788.4L517.9,788.7L513.1,785.1L508.2,784.6Z"/>
<path fill="#3333ff" d="M556.1,803.4L560.8,802.0L556.1,799.2L551.3,800.5Z"/>
<path fill="#12c332" d="M469.2,762.0L474.1,764.1L469.2,759.6L464.2,757.4Z"/>
<path fill="#1d9ae8" d="M503.4,783.8L508.2,784.6L503.4,780.7L498.6,779.9Z"/>
<path fill="#2f39ff" d="M546.5,801.5L551.3,800.5L546.5,797.5L541.8,798.4Z"/>
<path fill="#2db90f" d="M459.2,754.8L464.2,757.4L459.3,752.7L454.3,750.1Z"/>
<path fill="#4966ff" d="M627.5,800.8L632.4,796.5L627.6,795.4L622.8,799.5Z"/>
<path fill="#4a85ff" d="M637.2,797.6L642.1,792.9L637.3,792.0L632.4,796.5Z"/>
<path fill="#474dff" d="M617.9,803.4L622.8,799.5L618.0,798.2L613.2,801.9Z"/>
<path fill="#2a48ff" d="M537.0,799.0L541.8,798.4L537.0,795.2L532.2,795.7Z"/>
<path fill="#4545ff" d="M608.4,805.4L613.2,801.9L608.4,800.4L603.6,803.7Z"/>
<path fill="#19bddc" d="M493.7,778.7L498.6,779.9L493.7,775.8L488.8,774.5Z"/>
<path fill="#4343ff" d="M598.8,806.8L603.6,803.7L598.9,801.9L594.1,804.9Z"/>
<path fill="#4040ff" d="M589.3,807.6L594.1,804.9L589.3,802.9L584.6,805.5Z"/>
<path fill="#265bff" d="M527.5,795.9L532.2,795.7L527.5,792.3L522.7,792.3Z"/>
<path fill="#59af0d" d="M449.2,747.1L454.3,750.1L449.3,745.2L444.2,742.1Z"/>
<path fill="#3c3cff" d="M579.8,807.8L584.6,805.5L579.8,803.2L575.1,805.4Z"/>
<path fill="#16d0b3" d="M483.9,772.9L488.8,774.5L483.9,770.2L479.0,768.5Z"/>
<path fill="#3838ff" d="M570.3,807.3L575.1,805.4L570.3,802.9L565.6,804.7Z"/>
<path fill="#2270f7" d="M517.9,792.1L522.7,792.3L517.9,788.7L513.1,788.4Z"/>
<path fill="#3434ff" d="M560.8,806.2L565.6,804.7L560.8,802.0L556.1,803.4Z"/>
<path fill="#13c659" d="M474.1,766.5L479.0,768.5L474.1,764.1L469.2,762.0Z"/>
<path fill="#1e88eb" d="M508.2,787.7L513.1,788.4L508.2,784.6L503.4,783.8Z"/>
<path fill="#3030ff" d="M551.3,804.5L556.1,803.4L551.3,800.5L546.5,801.5Z"/>
<path fill="#19bb10" d="M464.2,759.6L469.2,762.0L464.2,757.4L459.2,754.8Z"/>
<path fill="#2c3eff" d="M541.8,802.2L546.5,801.5L541.8,798.4L537.0,799.0Z"/>
<path fill="#496bff" d="M632.3,801.9L637.2,797.6L632.4,796.5L627.5,800.8Z"/>
<path fill="#4850ff" d="M622.7,804.8L627.5,800.8L622.8,799.5L617.9,803.4Z"/>
<path fill="#4646ff" d="M613.1,807.0L617.9,803.4L613.2,801.9L608.4,805.4Z"/>
<path fill="#1aabdf" d="M498.6,782.8L503.4,783.8L498.6,779.9L493.7,778.7Z"/>
<path fill="#4444ff" d="M603.6,808.6L608.4,805.4L603.6,803.7L598.8,806.8Z"/>
<path fill="#4141ff" d="M594.1,809.6L598.8,806.8L594.1,804.9L589.3,807.6Z"/>
<path fill="#274fff" d="M532.2,799.3L537.0,799.0L532.2,795.7L527.5,795.9Z"/>
<path fill="#3d3dff" d="M584.6,810.0L589.3,807.6L584.6,805.5L579.8,807.8Z"/>
<path fill="#45b20e" d="M454.2,752.0L459.2,754.8L454.3,750.1L449.2,747.1Z"/>
<path fill="#17cfd3" d="M488.8,777.2L493.7,778.7L488.8,774.5L483.9,772.9Z"/>
<path fill="#3939ff" d="M575.1,809.8L579.8,807.8L575.1,805.4L570.3,807.3Z"/>
<path fill="#2363fa" d="M522.7,795.7L527.5,795.9L522.7,792.3L517.9,792.1Z"/>
<path fill="#3535ff" d="M565.6,808.9L570.3,807.3L565.6,804.7L560.8,806.2Z"/>
<path fill="#72a80b" d="M444.1,743.8L449.2,747.1L444.2,742.1L439.1,738.8Z"/>
<path fill="#14c880" d="M479.0,771.0L483.9,772.9L479.0,768.5L474.1,766.5Z"/>
<path fill="#1f7aee" d="M513.1,791.5L517.9,792.1L513.1,788.4L508.2,787.7Z"/>
<path fill="#3131ff" d="M556.1,807.4L560.8,806.2L556.1,803.4L551.3,804.5Z"/>
<path fill="#2d34ff" d="M546.6,805.3L551.3,804.5L546.5,801.5L541.8,802.2Z"/>
<path fill="#11be26" d="M469.1,764.2L474.1,766.5L469.2,762.0L464.2,759.6Z"/>
<path fill="#4853ff" d="M627.5,806.0L632.3,801.9L627.5,800.8L622.7,804.8Z"/>
<path fill="#1b99e2" d="M503.4,786.8L508.2,787.7L503.4,783.8L498.6,782.8Z"/>
<path fill="#4646ff" d="M617.9,808.5L622.7,804.8L617.9,803.4L613.1,807.0Z"/>
<path fill="#4444ff" d="M608.3,810.3L613.1,807.0L608.4,805.4L603.6,808.6Z"/>
<path fill="#4141ff" d="M598.8,811.6L603.6,808.6L598.8,806.8L594.1,809.6Z"/>
<path fill="#2844ff" d="M537.0,802.6L541.8,802.2L537.0,799.0L532.2,799.3Z"/>
<path fill="#3e3eff" d="M589.3,812.2L594.1,809.6L589.3,807.6L584.6,810.0Z"/>
<path fill="#32b40e" d="M459.2,756.8L464.2,759.6L459.2,754.8L454.2,752.0Z"/>
<path fill="#18bdd6" d="M493.7,781.4L498.6,782.8L493.7,778.7L488.8,777.2Z"/>
<path fill="#3a3aff" d="M579.8,812.1L584.6,810.0L579.8,807.8L575.1,809.8Z"/>
<path fill="#2458fd" d="M527.5,799.2L532.2,799.3L527.5,795.9L522.7,795.7Z"/>
<path fill="#3636ff" d="M570.3,811.5L575.1,809.8L570.3,807.3L565.6,808.9Z"/>
<path fill="#5eab0c" d="M449.2,748.8L454.2,752.0L449.2,747.1L444.1,743.8Z"/>
<path fill="#14cba6" d="M483.9,775.3L488.8,777.2L483.9,772.9L479.0,771.0Z"/>
<path fill="#206ef1" d="M517.9,795.2L522.7,795.7L517.9,792.1L513.1,791.5Z"/>
<path fill="#3232ff" d="M560.8,810.2L565.6,808.9L560.8,806.2L556.1,807.4Z"/>
<path fill="#2e2eff" d="M551.3,808.3L556.1,807.4L551.3,804.5L546.6,805.3Z"/>
<path fill="#11c14b" d="M474.1,768.7L479.0,771.0L474.1,766.5L469.1,764.2Z"/>
<path fill="#1c87e5" d="M508.2,790.7L513.1,791.5L508.2,787.7L503.4,786.8Z"/>
<path fill="#4747ff" d="M622.7,809.8L627.5,806.0L622.7,804.8L617.9,808.5Z"/>
<path fill="#4545ff" d="M613.1,811.9L617.9,808.5L613.1,807.0L608.3,810.3Z"/>
<path fill="#4242ff" d="M603.6,813.4L608.3,810.3L603.6,808.6L598.8,811.6Z"/>
<path fill="#293aff" d="M541.8,805.8L546.6,805.3L541.8,802.2L537.0,802.6Z"/>
<path fill="#3f3fff" d="M594.0,814.2L598.8,811.6L594.1,809.6L589.3,812.2Z"/>
<path fill="#1fb70f" d="M464.2,761.5L469.1,764.2L464.2,759.6L459.2,756.8Z"/>
<path fill="#18abd9" d="M498.5,785.4L503.4,786.8L498.6,782.8L493.7,781.4Z"/>
<path fill="#3b3bff" d="M584.5,814.4L589.3,812.2L584.6,810.0L579.8,812.1Z"/>
<path fill="#254cff" d="M532.2,802.6L537.0,802.6L532.2,799.3L527.5,799.2Z"/>
<path fill="#3838ff" d="M575.0,814.0L579.8,812.1L575.1,809.8L570.3,811.5Z"/>
<path fill="#4bad0c" d="M454.2,753.7L459.2,756.8L454.2,752.0L449.2,748.8Z"/>
<path fill="#15cecb" d="M488.8,779.6L493.7,781.4L488.8,777.2L483.9,775.3Z"/>
<path fill="#2162f4" d="M522.7,798.9L527.5,799.2L522.7,795.7L517.9,795.2Z"/>
<path fill="#3333ff" d="M565.6,812.9L570.3,811.5L565.6,808.9L560.8,810.2Z"/>
<path fill="#2f2fff" d="M556.1,811.2L560.8,810.2L556.1,807.4L551.3,808.3Z"/>
<path fill="#12c371" d="M479.0,773.2L483.9,775.3L479.0,771.0L474.1,768.7Z"/>
<path fill="#1d79e8" d="M513.0,794.5L517.9,795.2L513.1,791.5L508.2,790.7Z"/>
<path fill="#4545ff" d="M617.8,813.4L622.7,809.8L617.9,808.5L613.1,811.9Z"/>
<path fill="#2b30ff" d="M546.6,808.9L551.3,808.3L546.6,805.3L541.8,805.8Z"/>
<path fill="#4343ff" d="M608.3,815.1L613.1,811.9L608.3,810.3L603.6,813.4Z"/>
<path fill="#4040ff" d="M598.8,816.1L603.6,813.4L598.8,811.6L594.0,814.2Z"/>
<path fill="#0fb917" d="M469.1,766.1L474.1,768.7L469.1,764.2L464.2,761.5Z"/>
<path fill="#1999dc" d="M503.4,789.5L508.2,790.7L503.4,786.8L498.5,785.4Z"/>
<path fill="#3c3cff" d="M589.3,816.5L594.0,814.2L589.3,812.2L584.5,814.4Z"/>
<path fill="#2642ff" d="M537.0,806.0L541.8,805.8L537.0,802.6L532.2,802.6Z"/>
<path fill="#3939ff" d="M579.8,816.3L584.5,814.4L579.8,812.1L575.0,814.0Z"/>
<path fill="#16bed1" d="M493.7,783.8L498.5,785.4L493.7,781.4L488.8,779.6Z"/>
<path fill="#38af0d" d="M459.1,758.5L464.2,761.5L459.2,756.8L454.2,753.7Z"/>
<path fill="#2256f8" d="M527.5,802.4L532.2,802.6L527.5,799.2L522.7,798.9Z"/>
<path fill="#3434ff" d="M570.3,815.5L575.0,814.0L570.3,811.5L565.6,812.9Z"/>
<path fill="#3030ff" d="M560.8,814.0L565.6,812.9L560.8,810.2L556.1,811.2Z"/>
<path fill="#13c695" d="M483.9,777.6L488.8,779.6L483.9,775.3L479.0,773.2Z"/>
<path fill="#1e6deb" d="M517.9,798.2L522.7,798.9L517.9,795.2L513.0,794.5Z"/>
<path fill="#2c2cff" d="M551.3,811.9L556.1,811.2L551.3,808.3L546.6,808.9Z"/>
<path fill="#4343ff" d="M613.1,816.6L617.8,813.4L613.1,811.9L608.3,815.1Z"/>
<path fill="#4040ff" d="M603.5,817.9L608.3,815.1L603.6,813.4L598.8,816.1Z"/>
<path fill="#1a88df" d="M508.2,793.4L513.0,794.5L508.2,790.7L503.4,789.5Z"/>
<path fill="#10bc3b" d="M474.0,770.7L479.0,773.2L474.1,768.7L469.1,766.1Z"/>
<path fill="#3d3dff" d="M594.0,818.6L598.8,816.1L594.0,814.2L589.3,816.5Z"/>
<path fill="#2738ff" d="M541.8,809.2L546.6,808.9L541.8,805.8L537.0,806.0Z"/>
<path fill="#3939ff" d="M584.5,818.6L589.3,816.5L584.5,814.4L579.8,816.3Z"/>
<path fill="#17add4" d="M498.5,787.9L503.4,789.5L498.5,785.4L493.7,783.8Z"/>
<path fill="#25b20e" d="M464.1,763.2L469.1,766.1L464.2,761.5L459.1,758.5Z"/>
<path fill="#234cfb" d="M532.2,805.8L537.0,806.0L532.2,802.6L527.5,802.4Z"/>
<path fill="#3535ff" d="M575.0,818.0L579.8,816.3L575.0,814.0L570.3,815.5Z"/>
<path fill="#3131ff" d="M565.6,816.7L570.3,815.5L565.6,812.9L560.8,814.0Z"/>
<path fill="#14c9b9" d="M488.8,781.9L493.7,783.8L488.8,779.6L483.9,777.6Z"/>
<path fill="#1f62ef" d="M522.7,801.8L527.5,802.4L522.7,798.9L517.9,798.2Z"/>
<path fill="#2d2dff" d="M556.1,814.8L560.8,814.0L556.1,811.2L551.3,811.9Z"/>
<path fill="#1b7ae3" d="M513.0,797.2L517.9,798.2L513.0,794.5L508.2,793.4Z"/>
<path fill="#4141ff" d="M608.3,819.6L613.1,816.6L608.3,815.1L603.5,817.9Z"/>
<path fill="#11be5f" d="M479.0,775.2L483.9,777.6L479.0,773.2L474.0,770.7Z"/>
<path fill="#282fff" d="M546.6,812.3L551.3,811.9L546.6,808.9L541.8,809.2Z"/>
<path fill="#3e3eff" d="M598.8,820.5L603.5,817.9L598.8,816.1L594.0,818.6Z"/>
<path fill="#3a3aff" d="M589.3,820.7L594.0,818.6L589.3,816.5L584.5,818.6Z"/>
<path fill="#189cd7" d="M503.4,791.9L508.2,793.4L503.4,789.5L498.5,787.9Z"/>
<path fill="#13b40e" d="M469.1,767.9L474.0,770.7L469.1,766.1L464.1,763.2Z"/>
<path fill="#2441fe" d="M537.0,809.1L541.8,809.2L537.0,806.0L532.2,805.8Z"/>
<path fill="#3636ff" d="M579.8,820.3L584.5,818.6L579.8,816.3L575.0,818.0Z"/>
<path fill="#3232ff" d="M570.3,819.3L575.0,818.0L570.3,815.5L565.6,816.7Z"/>
<path fill="#14c1cc" d="M493.6,786.1L498.5,787.9L493.7,783.8L488.8,781.9Z"/>
<path fill="#2057f2" d="M527.5,805.3L532.2,805.8L527.5,802.4L522.7,801.8Z"/>
<path fill="#2e2eff" d="M560.8,817.6L565.6,816.7L560.8,814.0L556.1,814.8Z"/>
<path fill="#1c6ee6" d="M517.9,800.9L522.7,801.8L517.9,798.2L513.0,797.2Z"/>
<path fill="#12c182" d="M483.9,779.6L488.8,781.9L483.9,777.6L479.0,775.2Z"/>
<path fill="#2a2aff" d="M551.3,815.3L556.1,814.8L551.3,811.9L546.6,812.3Z"/>
<path fill="#3f3fff" d="M603.5,822.3L608.3,819.6L603.5,817.9L598.8,820.5Z"/>
<path fill="#3b3bff" d="M594.0,822.7L598.8,820.5L594.0,818.6L589.3,820.7Z"/>
<path fill="#198cda" d="M508.2,795.9L513.0,797.2L508.2,793.4L503.4,791.9Z"/>
<path fill="#2538ff" d="M541.8,812.3L546.6,812.3L541.8,809.2L537.0,809.1Z"/>
<path fill="#0fb729" d="M474.0,772.5L479.0,775.2L474.0,770.7L469.1,767.9Z"/>
<path fill="#3737ff" d="M584.5,822.6L589.3,820.7L584.5,818.6L579.8,820.3Z"/>
<path fill="#3333ff" d="M575.0,821.7L579.8,820.3L575.0,818.0L570.3,819.3Z"/>
<path fill="#214cf5" d="M532.2,808.8L537.0,809.1L532.2,805.8L527.5,805.3Z"/>
<path fill="#15b1cf" d="M498.5,790.2L503.4,791.9L498.5,787.9L493.6,786.1Z"/>
<path fill="#2f2fff" d="M565.6,820.3L570.3,819.3L565.6,816.7L560.8,817.6Z"/>
<path fill="#1d63e9" d="M522.7,804.5L527.5,805.3L522.7,801.8L517.9,800.9Z"/>
<path fill="#12c4a5" d="M488.7,783.9L493.6,786.1L488.8,781.9L483.9,779.6Z"/>
<path fill="#2b2bff" d="M556.1,818.2L560.8,817.6L556.1,814.8L551.3,815.3Z"/>
<path fill="#3c3cff" d="M598.8,824.6L603.5,822.3L598.8,820.5L594.0,822.7Z"/>
<path fill="#197cdd" d="M513.0,799.7L517.9,800.9L513.0,797.2L508.2,795.9Z"/>
<path fill="#262fff" d="M546.6,815.5L551.3,815.3L546.6,812.3L541.8,812.3Z"/>
<path fill="#10b94b" d="M478.9,776.9L483.9,779.6L479.0,775.2L474.0,772.5Z"/>
<path fill="#3838ff" d="M589.3,824.7L594.0,822.7L589.3,820.7L584.5,822.6Z"/>
<path fill="#3434ff" d="M579.8,824.1L584.5,822.6L579.8,820.3L575.0,821.7Z"/>
<path fill="#2243f8" d="M537.0,812.1L541.8,812.3L537.0,809.1L532.2,808.8Z"/>
<path fill="#16a0d1" d="M503.3,794.2L508.2,795.9L503.4,791.9L498.5,790.2Z"/>
<path fill="#3030ff" d="M570.3,822.9L575.0,821.7L570.3,819.3L565.6,820.3Z"/>
<path fill="#1e59ec" d="M527.4,808.1L532.2,808.8L527.5,805.3L522.7,804.5Z"/>
<path fill="#13c6c6" d="M493.6,788.1L498.5,790.2L493.6,786.1L488.7,783.9Z"/>
<path fill="#2c2cff" d="M560.8,821.0L565.6,820.3L560.8,817.6L556.1,818.2Z"/>
<path fill="#1a71e0" d="M517.8,803.4L522.7,804.5L517.9,800.9L513.0,799.7Z"/>
<path fill="#2727ff" d="M551.3,818.5L556.1,818.2L551.3,815.3L546.6,815.5Z"/>
<path fill="#10bc6d" d="M483.8,781.3L488.7,783.9L483.9,779.6L478.9,776.9Z"/>
<path fill="#3939ff" d="M594.0,826.7L598.8,824.6L594.0,822.7L589.3,824.7Z"/>
<path fill="#3535ff" d="M584.5,826.3L589.3,824.7L584.5,822.6L579.8,824.1Z"/>
<path fill="#233afb" d="M541.8,815.3L546.6,815.5L541.8,812.3L537.0,812.1Z"/>
<path fill="#1791d4" d="M508.2,798.1L513.0,799.7L508.2,795.9L503.3,794.2Z"/>
<path fill="#3131ff" d="M575.0,825.3L579.8,824.1L575.0,821.7L570.3,822.9Z"/>
<path fill="#1f4fef" d="M532.2,811.5L537.0,812.1L532.2,808.8L527.4,808.1Z"/>
<path fill="#14b6c9" d="M498.5,792.2L503.3,794.2L498.5,790.2L493.6,788.1Z"/>
<path fill="#2d2dff" d="M565.6,823.7L570.3,822.9L565.6,820.3L560.8,821.0Z"/>
<path fill="#1b66e3" d="M522.6,807.0L527.4,808.1L522.7,804.5L517.8,803.4Z"/>
<path fill="#2929ff" d="M556.1,821.4L560.8,821.0L556.1,818.2L551.3,818.5Z"/>
<path fill="#11bf8e" d="M488.7,785.6L493.6,788.1L488.7,783.9L483.8,781.3Z"/>
<path fill="#3636ff" d="M589.3,828.5L594.0,826.7L589.3,824.7L584.5,826.3Z"/>
<path fill="#2431fe" d="M546.6,818.4L551.3,818.5L546.6,815.5L541.8,815.3Z"/>
<path fill="#1882d7" d="M513.0,801.9L517.8,803.4L513.0,799.7L508.2,798.1Z"/>
<path fill="#3232ff" d="M579.8,827.7L584.5,826.3L579.8,824.1L575.0,825.3Z"/>
<path fill="#2046f2" d="M537.0,814.8L541.8,815.3L537.0,812.1L532.2,811.5Z"/>
<path fill="#15a7cc" d="M503.3,796.2L508.2,798.1L503.3,794.2L498.5,792.2Z"/>
<path fill="#2e2eff" d="M570.3,826.2L575.0,825.3L570.3,822.9L565.6,823.7Z"/>
<path fill="#1c5ce6" d="M527.4,810.6L532.2,811.5L527.4,808.1L522.6,807.0Z"/>
<path fill="#2a2aff" d="M560.8,824.1L565.6,823.7L560.8,821.0L556.1,821.4Z"/>
<path fill="#12c1af" d="M493.6,789.8L498.5,792.2L493.6,788.1L488.7,785.6Z"/>
<path fill="#252aff" d="M551.3,821.4L556.1,821.4L551.3,818.5L546.6,818.4Z"/>
<path fill="#1975da" d="M517.8,805.7L522.6,807.0L517.8,803.4L513.0,801.9Z"/>
<path fill="#3333ff" d="M584.5,829.9L589.3,828.5L584.5,826.3L579.8,827.7Z"/>
<path fill="#213df5" d="M541.8,818.0L546.6,818.4L541.8,815.3L537.0,814.8Z"/>
<path fill="#1598cf" d="M508.2,800.1L513.0,801.9L508.2,798.1L503.3,796.2Z"/>
<path fill="#2f2fff" d="M575.1,828.7L579.8,827.7L575.0,825.3L570.3,826.2Z"/>
<path fill="#1d53e9" d="M532.2,814.0L537.0,814.8L532.2,811.5L527.4,810.6Z"/>
<path fill="#2b2bff" d="M565.6,826.8L570.3,826.2L565.6,823.7L560.8,824.1Z"/>
<path fill="#12bdc4" d="M498.4,794.0L503.3,796.2L498.5,792.2L493.6,789.8Z"/>
<path fill="#2626ff" d="M556.1,824.3L560.8,824.1L556.1,821.4L551.3,821.4Z"/>
<path fill="#1a6bdd" d="M522.6,809.3L527.4,810.6L522.6,807.0L517.8,805.7Z"/>
<path fill="#2235f8" d="M546.6,821.1L551.3,821.4L546.6,818.4L541.8,818.0Z"/>
<path fill="#168ad2" d="M513.0,804.0L517.8,805.7L513.0,801.9L508.2,800.1Z"/>
<path fill="#3030ff" d="M579.8,831.0L584.5,829.9L579.8,827.7L575.1,828.7Z"/>
<path fill="#1e4aec" d="M537.0,817.3L541.8,818.0L537.0,814.8L532.2,814.0Z"/>
<path fill="#2c2cff" d="M570.3,829.4L575.1,828.7L570.3,826.2L565.6,826.8Z"/>
<path fill="#13aec7" d="M503.3,798.0L508.2,800.1L503.3,796.2L498.4,794.0Z"/>
<path fill="#2727ff" d="M560.8,827.1L565.6,826.8L560.8,824.1L556.1,824.3Z"/>
<path fill="#1a61e0" d="M527.4,812.8L532.2,814.0L527.4,810.6L522.6,809.3Z"/>
<path fill="#232efb" d="M551.3,824.1L556.1,824.3L551.3,821.4L546.6,821.1Z"/>
<path fill="#177cd5" d="M517.8,807.7L522.6,809.3L517.8,805.7L513.0,804.0Z"/>
<path fill="#1f42ef" d="M541.8,820.5L546.6,821.1L541.8,818.0L537.0,817.3Z"/>
<path fill="#2d2dff" d="M575.1,831.8L579.8,831.0L575.1,828.7L570.3,829.4Z"/>
<path fill="#14a0c9" d="M508.1,801.9L513.0,804.0L508.2,800.1L503.3,798.0Z"/>
<path fill="#2929ff" d="M565.6,829.8L570.3,829.4L565.6,826.8L560.8,827.1Z"/>
<path fill="#1b59e3" d="M532.2,816.2L537.0,817.3L532.2,814.0L527.4,812.8Z"/>
<path fill="#2428fe" d="M556.1,827.0L560.8,827.1L556.1,824.3L551.3,824.1Z"/>
<path fill="#1871d7" d="M522.6,811.3L527.4,812.8L522.6,809.3L517.8,807.7Z"/>
<path fill="#203bf2" d="M546.6,823.6L551.3,824.1L546.6,821.1L541.8,820.5Z"/>
<path fill="#1593cc" d="M513.0,805.7L517.8,807.7L513.0,804.0L508.1,801.9Z"/>
<path fill="#1c50e6" d="M537.0,819.5L541.8,820.5L537.0,817.3L532.2,816.2Z"/>
<path fill="#2a2aff" d="M570.3,832.3L575.1,831.8L570.3,829.4L565.6,829.8Z"/>
<path fill="#2525ff" d="M560.8,829.8L565.6,829.8L560.8,827.1L556.1,827.0Z"/>
<path fill="#1968da" d="M527.4,814.8L532.2,816.2L527.4,812.8L522.6,811.3Z"/>
<path fill="#2134f5" d="M551.3,826.6L556.1,827.0L551.3,824.1L546.6,823.6Z"/>
<path fill="#1586cf" d="M517.8,809.5L522.6,811.3L517.8,807.7L513.0,805.7Z"/>
<path fill="#1d49e9" d="M541.8,822.8L546.6,823.6L541.8,820.5L537.0,819.5Z"/>
<path fill="#2626ff" d="M565.6,832.5L570.3,832.3L565.6,829.8L560.8,829.8Z"/>
<path fill="#1a5fdd" d="M532.2,818.2L537.0,819.5L532.2,816.2L527.4,814.8Z"/>
<path fill="#222ef8" d="M556.1,829.5L560.8,829.8L556.1,827.0L551.3,826.6Z"/>
<path fill="#1679d2" d="M522.6,813.1L527.4,814.8L522.6,811.3L517.8,809.5Z"/>
<path fill="#1e41ec" d="M546.6,825.9L551.3,826.6L546.6,823.6L541.8,822.8Z"/>
<path fill="#1a58e0" d="M537.0,821.6L541.8,822.8L537.0,819.5L532.2,818.2Z"/>
<path fill="#2328fb" d="M560.8,832.3L565.6,832.5L560.8,829.8L556.1,829.5Z"/>
<path fill="#1770d5" d="M527.4,816.6L532.2,818.2L527.4,814.8L522.6,813.1Z"/>
<path fill="#1f3bef" d="M551.3,828.8L556.1,829.5L551.3,826.6L546.6,825.9Z"/>
<path fill="#1b50e3" d="M541.8,824.8L546.6,825.9L541.8,822.8L537.0,821.6Z"/>
<path fill="#1868d7" d="M532.2,820.0L537.0,821.6L532.2,818.2L527.4,816.6Z"/>
<path fill="#2035f2" d="M556.1,831.7L560.8,832.3L556.1,829.5L551.3,828.8Z"/>
<path fill="#1c4ae6" d="M546.6,827.8L551.3,828.8L546.6,825.9L541.8,824.8Z"/>
<path fill="#1960da" d="M537.0,823.3L541.8,824.8L537.0,821.6L532.2,820.0Z"/>
<path fill="#1d44e9" d="M551.3,830.8L556.1,831.7L551.3,828.8L546.6,827.8Z"/>
<path fill="#1a59dd" d="M541.8,826.5L546.6,827.8L541.8,824.8L537.0,823.3Z"/>
<path fill="#1a53e0" d="M546.5,829.6L551.3,830.8L546.6,827.8L541.8,826.5Z"/>
</g>
<circle cx="651.91" cy="783.37" r="2.2" fill="#f4c8c8" stroke="#800" stroke-width="0.5"/>
<circle cx="546.55" cy="828.32" r="2.2" fill="#cc0000" stroke="#800" stroke-width="0.5"/>
<circle cx="442.63" cy="812.71" r="1.0" fill="#000"/>
<text x="439.33" y="811.21" font-size="6.6" text-anchor="end" fill="#1a1a1a" font-family="Liberation Sans" stroke="#1a1a1a" stroke-width="0.18" textLength="10.24" lengthAdjust="spacingAndGlyphs">100</text>
<circle cx="441.36" cy="786.08" r="1.0" fill="#000"/>
<text x="438.06" y="784.58" font-size="6.6" text-anchor="end" fill="#1a1a1a" font-family="Liberation Sans" stroke="#1a1a1a" stroke-width="0.18" textLength="10.24" lengthAdjust="spacingAndGlyphs">200</text>
<circle cx="440.09" cy="759.45" r="1.0" fill="#000"/>
<text x="436.79" y="757.95" font-size="6.6" text-anchor="end" fill="#1a1a1a" font-family="Liberation Sans" stroke="#1a1a1a" stroke-width="0.18" textLength="10.24" lengthAdjust="spacingAndGlyphs">300</text>
<circle cx="438.82" cy="732.82" r="1.0" fill="#000"/>
<text x="435.52" y="731.32" font-size="6.6" text-anchor="end" fill="#1a1a1a" font-family="Liberation Sans" stroke="#1a1a1a" stroke-width="0.18" textLength="10.24" lengthAdjust="spacingAndGlyphs">400</text>
<circle cx="437.55" cy="706.19" r="1.0" fill="#000"/>
<text x="434.25" y="704.69" font-size="6.6" text-anchor="end" fill="#1a1a1a" font-family="Liberation Sans" stroke="#1a1a1a" stroke-width="0.18" textLength="10.24" lengthAdjust="spacingAndGlyphs">500</text>
<circle cx="546.55" cy="894.93" r="0.9" fill="#000"/>
<text x="540.85" y="900.43" font-size="6.6" text-anchor="middle" fill="#1a1a1a" font-family="Liberation Sans" stroke="#1a1a1a" stroke-width="0.18" textLength="6.83" lengthAdjust="spacingAndGlyphs">10</text>
<circle cx="520.97" cy="882.71" r="0.9" fill="#000"/>
<text x="515.27" y="888.21" font-size="6.6" text-anchor="middle" fill="#1a1a1a" font-family="Liberation Sans" stroke="#1a1a1a" stroke-width="0.18" textLength="6.83" lengthAdjust="spacingAndGlyphs">15</text>
<circle cx="495.39" cy="870.49" r="0.9" fill="#000"/>
<text x="489.69" y="875.99" font-size="6.6" text-anchor="middle" fill="#1a1a1a" font-family="Liberation Sans" stroke="#1a1a1a" stroke-width="0.18" textLength="6.83" lengthAdjust="spacingAndGlyphs">20</text>
<circle cx="469.80" cy="858.27" r="0.9" fill="#000"/>
<text x="464.10" y="863.77" font-size="6.6" text-anchor="middle" fill="#1a1a1a" font-family="Liberation Sans" stroke="#1a1a1a" stroke-width="0.18" textLength="6.83" lengthAdjust="spacingAndGlyphs">25</text>
<circle cx="444.22" cy="846.05" r="0.9" fill="#000"/>
<text x="438.52" y="851.55" font-size="6.6" text-anchor="middle" fill="#1a1a1a" font-family="Liberation Sans" stroke="#1a1a1a" stroke-width="0.18" textLength="6.83" lengthAdjust="spacingAndGlyphs">30</text>
<circle cx="546.55" cy="894.93" r="0.9" fill="#000"/>
<text x="553.15" y="900.93" font-size="6.6" text-anchor="middle" fill="#1a1a1a" font-family="Liberation Sans" stroke="#1a1a1a" stroke-width="0.18" textLength="3.41" lengthAdjust="spacingAndGlyphs">2</text>
<circle cx="563.60" cy="886.74" r="0.9" fill="#000"/>
<text x="570.20" y="892.74" font-size="6.6" text-anchor="middle" fill="#1a1a1a" font-family="Liberation Sans" stroke="#1a1a1a" stroke-width="0.18" textLength="3.41" lengthAdjust="spacingAndGlyphs">3</text>
<circle cx="580.65" cy="878.55" r="0.9" fill="#000"/>
<text x="587.25" y="884.55" font-size="6.6" text-anchor="middle" fill="#1a1a1a" font-family="Liberation Sans" stroke="#1a1a1a" stroke-width="0.18" textLength="3.41" lengthAdjust="spacingAndGlyphs">4</text>
<circle cx="597.71" cy="870.37" r="0.9" fill="#000"/>
<text x="604.31" y="876.37" font-size="6.6" text-anchor="middle" fill="#1a1a1a" font-family="Liberation Sans" stroke="#1a1a1a" stroke-width="0.18" textLength="3.41" lengthAdjust="spacingAndGlyphs">5</text>
<circle cx="614.76" cy="862.18" r="0.9" fill="#000"/>
<text x="621.36" y="868.18" font-size="6.6" text-anchor="middle" fill="#1a1a1a" font-family="Liberation Sans" stroke="#1a1a1a" stroke-width="0.18" textLength="3.41" lengthAdjust="spacingAndGlyphs">6</text>
<circle cx="631.81" cy="853.99" r="0.9" fill="#000"/>
<text x="638.41" y="859.99" font-size="6.6" text-anchor="middle" fill="#1a1a1a" font-family="Liberation Sans" stroke="#1a1a1a" stroke-width="0.18" textLength="3.41" lengthAdjust="spacingAndGlyphs">7</text>
<circle cx="648.86" cy="845.80" r="0.9" fill="#000"/>
<text x="655.46" y="851.80" font-size="6.6" text-anchor="middle" fill="#1a1a1a" font-family="Liberation Sans" stroke="#1a1a1a" stroke-width="0.18" textLength="3.41" lengthAdjust="spacingAndGlyphs">8</text>
<text x="407.35" y="772.43" font-size="7.5" text-anchor="middle" fill="#222" font-family="Liberation Sans" stroke="#222" stroke-width="0.18" transform="rotate(-90 407.35 772.43)">Particle Size (nm)</text>
<text x="456.05" y="891.03" font-size="7.5" text-anchor="middle" fill="#222" font-family="Liberation Sans" stroke="#222" stroke-width="0.18" xml:space="preserve">C: Glycerol  (% w/v)</text>
<text x="637.45" y="891.03" font-size="7.5" text-anchor="middle" fill="#222" font-family="Liberation Sans" stroke="#222" stroke-width="0.18" xml:space="preserve">B: Hyaluronic acid  (mg/mL)</text>
<text x="14.40" y="32.50" font-size="16" text-anchor="start" font-weight="bold" fill="#111" font-family="Liberation Serif">(a)</text>
<text x="377.70" y="32.50" font-size="16" text-anchor="start" font-weight="bold" fill="#111" font-family="Liberation Serif">(b)</text>
<text x="9.50" y="350.90" font-size="16" text-anchor="start" font-weight="bold" fill="#111" font-family="Liberation Serif">(c)</text>
<text x="373.30" y="350.00" font-size="16" text-anchor="start" font-weight="bold" fill="#111" font-family="Liberation Serif">(d)</text>
<text x="17.80" y="695.50" font-size="16" text-anchor="start" font-weight="bold" fill="#111" font-family="Liberation Serif">(e)</text>
<text x="384.00" y="695.80" font-size="15.5" text-anchor="start" font-weight="bold" fill="#111" font-family="Liberation Serif">(f)</text>
</svg>
</body></html>
